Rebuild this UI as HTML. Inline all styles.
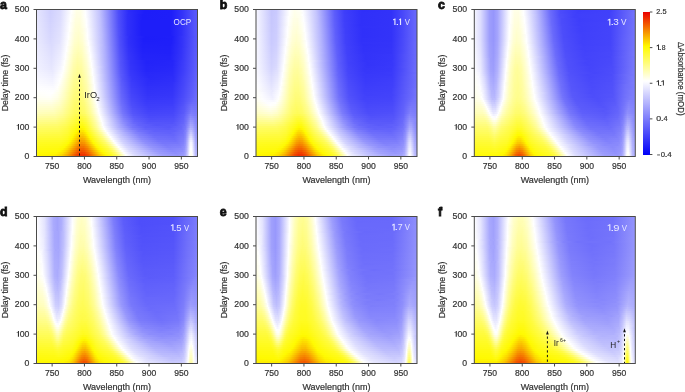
<!DOCTYPE html>
<html><head><meta charset="utf-8">
<style>
html,body{margin:0;padding:0;background:#fff;}
body{width:685px;height:392px;overflow:hidden;position:relative;font-family:"Liberation Sans",sans-serif;}
.hm{position:absolute;width:161px;height:147px;overflow:hidden;}
.hm i{display:block;height:2px;}
.cb{position:absolute;left:642.6px;top:12px;width:7.2px;height:142.5px;}
svg{position:absolute;left:0;top:0;will-change:transform;}
</style></head><body>
<div class="hm" style="left:36.5px;top:9.5px"><i style="background:linear-gradient(90deg,#e5e5fe 0px,#d0d0fe 13.5px,#dbdbfe 23.5px,#fff 34.5px,#ffffe6 39.5px,#ffffe7 43.5px,#fdfdff 48.5px,#c3c3fd 62.5px,#4e4efa 81.5px,#2c2cf9 91.5px,#1d1df9 107.5px,#1e1ef9 134.5px,#3434f9 145.5px,#5555fa 157.5px,#5959fa 161px)"></i><i style="background:linear-gradient(90deg,#e5e5fe 0px,#d0d0fe 13.5px,#dcdcfe 23.5px,#fffffd 34.5px,#fffee4 39.5px,#fffee5 43.5px,#fefeff 48.5px,#c4c4fd 62.5px,#4e4efa 81.5px,#2d2df9 91.5px,#1d1df9 107.5px,#1e1ef9 134.5px,#3434f9 145.5px,#5555fa 157.5px,#5959fa 161px)"></i><i style="background:linear-gradient(90deg,#e5e5fe 0px,#d1d1fe 13.5px,#dcdcfe 23.5px,#fdfdff 33.5px,#fffee2 39.5px,#fffee4 43.5px,#fff 48.5px,#c4c4fd 62.5px,#4f4ffa 81.5px,#2f2ff9 90.5px,#1d1df9 105.5px,#1e1ef9 134.5px,#3434f9 145.5px,#5555fa 157.5px,#5959fa 161px)"></i><i style="background:linear-gradient(90deg,#e6e6fe 0px,#d1d1fe 13.5px,#ddddfe 23.5px,#fefeff 33.5px,#fffee0 39.5px,#fffee2 43.5px,#fffffe 48.5px,#c5c5fd 62.5px,#4f4ffa 81.5px,#2f2ff9 90.5px,#1d1df9 105.5px,#1e1ef9 134.5px,#3434f9 145.5px,#5555fa 157.5px,#5959fa 161px)"></i><i style="background:linear-gradient(90deg,#e6e6fe 0px,#d2d2fe 13.5px,#ddddfe 23.5px,#fff 33.5px,#fffee0 38.5px,#fffedd 42.5px,#fffff5 47.5px,#fdfdff 49.5px,#c0c0fd 63.5px,#4f4ffa 81.5px,#2f2ff9 90.5px,#1d1df9 105.5px,#1e1ef9 134.5px,#3434f9 145.5px,#5555fa 157.5px,#5959fa 161px)"></i><i style="background:linear-gradient(90deg,#e6e6fe 0px,#d2d2fe 13.5px,#dedefe 23.5px,#fffffd 33.5px,#fffede 38.5px,#fffedb 42.5px,#fffff3 47.5px,#fefeff 49.5px,#c0c0fd 63.5px,#5050fa 81.5px,#3030f9 90.5px,#1e1ef9 104.5px,#1e1ef9 133.5px,#3030f9 144.5px,#5555fa 157.5px,#5959fa 161px)"></i><i style="background:linear-gradient(90deg,#e7e7fe 0px,#d3d3fe 13.5px,#dfdffe 23.5px,#fdfdff 32.5px,#fffedc 38.5px,#fffed9 42.5px,#fffff1 47.5px,#fefeff 49.5px,#c1c1fd 63.5px,#5050fa 81.5px,#3030f9 90.5px,#1e1ef9 104.5px,#1e1ef9 133.5px,#3030f9 144.5px,#5555fa 157.5px,#5959fa 161px)"></i><i style="background:linear-gradient(90deg,#e7e7fe 0px,#d4d4fe 13.5px,#dfdffe 23.5px,#fefeff 32.5px,#fffeda 38.5px,#fffed7 42.5px,#fffff0 47.5px,#fff 49.5px,#c1c1fd 63.5px,#5151fa 81.5px,#3030f9 90.5px,#1e1ef9 104.5px,#1e1ef9 133.5px,#3030f9 144.5px,#5555fa 157.5px,#5959fa 161px)"></i><i style="background:linear-gradient(90deg,#e7e7fe 0px,#d4d4fe 13.5px,#e0e0fe 23.5px,#fff 32.5px,#fffed8 38.5px,#fffed5 42.5px,#ffe 47.5px,#fffffd 49.5px,#c2c2fd 63.5px,#5151fa 81.5px,#3030f9 90.5px,#1e1ef9 104.5px,#1e1ef9 133.5px,#3030f9 144.5px,#5555fa 157.5px,#5959fa 161px)"></i><i style="background:linear-gradient(90deg,#e8e8fe 0px,#d5d5fe 13.5px,#e1e1fe 23.5px,#fffffe 32.5px,#fffedb 37.5px,#fffed2 41.5px,#fffedf 45.5px,#fdfdff 50.5px,#bdbdfd 64.5px,#5252fa 81.5px,#3030f9 90.5px,#1e1ef9 104.5px,#1e1ef9 133.5px,#3030f9 144.5px,#5555fa 157.5px,#5959fa 161px)"></i><i style="background:linear-gradient(90deg,#e8e8fe 0px,#d5d5fe 13.5px,#e1e1fe 23.5px,#fffffc 32.5px,#fffed9 37.5px,#fffed0 41.5px,#fffedd 45.5px,#fdfdff 50.5px,#bdbdfd 64.5px,#5252fa 81.5px,#3131f9 90.5px,#1e1ef9 104.5px,#1e1ef9 133.5px,#3030f9 144.5px,#5555fa 157.5px,#5959fa 161px)"></i><i style="background:linear-gradient(90deg,#e8e8fe 0px,#d6d6fe 13.5px,#e2e2fe 23.5px,#fdfdff 31.5px,#fffed2 38.5px,#fffecf 42.5px,#ffffe8 47.5px,#fefeff 50.5px,#bebefd 64.5px,#5353fa 81.5px,#3131f9 90.5px,#1e1ef9 104.5px,#1e1ef9 133.5px,#3030f9 144.5px,#5555fa 157.5px,#5959fa 161px)"></i><i style="background:linear-gradient(90deg,#e8e8fe 0px,#d7d7fe 13.5px,#e2e2fe 23.5px,#fefeff 31.5px,#fffed5 37.5px,#fffecc 41.5px,#fffed9 45.5px,#fff 50.5px,#b9b9fd 65.5px,#5353fa 81.5px,#3131f9 90.5px,#1e1ef9 104.5px,#1e1ef9 133.5px,#3030f9 144.5px,#5555fa 157.5px,#5959fa 161px)"></i><i style="background:linear-gradient(90deg,#e9e9fe 0px,#d7d7fe 13.5px,#e3e3fe 23.5px,#fff 31.5px,#fffed3 37.5px,#fffeca 41.5px,#fffed7 45.5px,#fffffe 50.5px,#bfbffd 64.5px,#4e4efa 82.5px,#2d2df9 92.5px,#1d1df9 108.5px,#1f1ff9 135.5px,#3737fa 146.5px,#5656fa 158.5px,#5959fa 161px)"></i><i style="background:linear-gradient(90deg,#e9e9fe 0px,#d8d8fe 13.5px,#e4e4fe 23.5px,#fffffd 31.5px,#fffed1 37.5px,#fffec8 41.5px,#fffed6 45.5px,#fffffc 50.5px,#bfbffd 64.5px,#4f4ffa 82.5px,#2f2ff9 91.5px,#1d1df9 106.5px,#1e1ef9 134.5px,#3434f9 145.5px,#5555fa 157.5px,#5959fa 161px)"></i><i style="background:linear-gradient(90deg,#eaeafe 0px,#d9d9fe 13.5px,#e2e2fe 22.5px,#fdfdff 30.5px,#fffece 37.5px,#fffec5 41.5px,#fffed3 45.5px,#fdfdff 51.5px,#babafd 65.5px,#5050fa 82.5px,#3030f9 91.5px,#1e1ef9 106.5px,#1f1ff9 134.5px,#3434f9 145.5px,#5555fa 157.5px,#5959fa 161px)"></i><i style="background:linear-gradient(90deg,#eaeafe 0px,#dadafe 13.5px,#e3e3fe 22.5px,#fefeff 30.5px,#fffecb 37.5px,#fffec2 41.5px,#fffecf 45.5px,#fff 51.5px,#b5b5fd 66.5px,#5151fa 82.5px,#3030f9 91.5px,#1f1ff9 106.5px,#1f1ff9 134.5px,#3434f9 145.5px,#5656fa 157.5px,#5959fa 161px)"></i><i style="background:linear-gradient(90deg,#ebebfe 0px,#dbdbfe 14.5px,#e7e7fe 23.5px,#fffffd 30.5px,#fffec8 37.5px,#fffebf 41.5px,#fffecc 45.5px,#fffffd 51.5px,#bcbcfd 65.5px,#5151fa 82.5px,#3131f9 91.5px,#2020f9 105.5px,#1f1ff9 133.5px,#3232f9 144.5px,#5656fa 157.5px,#5a5afa 161px)"></i><i style="background:linear-gradient(90deg,#ebebfe 0px,#dcdcfe 14.5px,#e8e8fe 23.5px,#fdfdff 29.5px,#fffec5 37.5px,#fffebc 41.5px,#fffec9 45.5px,#fdfdff 52.5px,#b1b1fd 67.5px,#5252fa 82.5px,#3232f9 91.5px,#2020f9 105.5px,#2020f9 133.5px,#3232f9 144.5px,#5656fa 157.5px,#5a5afa 161px)"></i><i style="background:linear-gradient(90deg,#ececfe 0px,#ddddfe 14.5px,#e9e9fe 23.5px,#fefeff 29.5px,#fffec2 37.5px,#fffeb9 41.5px,#fffec6 45.5px,#fefeff 52.5px,#b1b1fd 67.5px,#5353fa 82.5px,#3333f9 91.5px,#2121f9 105.5px,#2020f9 133.5px,#3333f9 144.5px,#5757fa 157.5px,#5b5bfa 161px)"></i><i style="background:linear-gradient(90deg,#ececfe 0px,#dedefe 14.5px,#ebebfe 23.5px,#fffffe 29.5px,#fffec4 36.5px,#fffeb6 40.5px,#fffebd 44.5px,#fffee1 49.5px,#fffffe 52.5px,#b2b2fd 67.5px,#5454fa 82.5px,#3333f9 91.5px,#2121f9 105.5px,#2121f9 133.5px,#3434f9 144.5px,#5757fa 157.5px,#5b5bfb 161px)"></i><i style="background:linear-gradient(90deg,#ededfe 0px,#dfdffe 14.5px,#ececfe 23.5px,#fdfdff 28.5px,#ffffe9 31.5px,#fffebc 37.5px,#fffdb2 41.5px,#fffebf 45.5px,#fffff1 51.5px,#fcfcff 53.5px,#adadfd 68.5px,#5555fa 82.5px,#3434f9 91.5px,#2222f9 105.5px,#2121f9 133.5px,#3434f9 144.5px,#5858fa 157.5px,#5b5bfb 161px)"></i><i style="background:linear-gradient(90deg,#ededff 0px,#e0e0fe 14.5px,#ededff 23.5px,#fefeff 28.5px,#fffebe 36.5px,#fffdb0 40.5px,#fffeb7 44.5px,#fffedb 49.5px,#fefeff 53.5px,#aeaefd 68.5px,#5656fa 82.5px,#3535f9 91.5px,#2323f9 105.5px,#2222f9 133.5px,#3535f9 144.5px,#5858fa 157.5px,#5c5cfb 161px)"></i><i style="background:linear-gradient(90deg,#eef 0px,#e1e1fe 14.5px,#eef 23.5px,#fffffe 28.5px,#fffebb 36.5px,#fffdad 40.5px,#fffeb4 44.5px,#fffed8 49.5px,#fff 53.5px,#aeaefd 68.5px,#5757fa 82.5px,#3636f9 91.5px,#2323f9 105.5px,#2323f9 133.5px,#3535f9 144.5px,#5959fa 157.5px,#5c5cfb 161px)"></i><i style="background:linear-gradient(90deg,#eef 0px,#e2e2fe 14.5px,#efefff 23.5px,#fffffb 28.5px,#fffeb8 36.5px,#fffda9 40.5px,#fffdb1 44.5px,#fffed4 49.5px,#fffffc 53.5px,#afaffd 68.5px,#5858fa 82.5px,#3636f9 91.5px,#2424f9 105.5px,#2323f9 133.5px,#3636f9 144.5px,#5959fa 157.5px,#5d5dfb 161px)"></i><i style="background:linear-gradient(90deg,#efefff 0px,#e3e3fe 14.5px,#f1f1ff 23.5px,#fefeff 27.5px,#fffeb5 36.5px,#fffda6 40.5px,#fffdad 44.5px,#fffed1 49.5px,#fffff9 53.5px,#f8f8ff 55.5px,#a3a3fc 70.5px,#5454fa 83.5px,#3333f9 93.5px,#2323f9 109.5px,#2525f9 135.5px,#3c3cfa 146.5px,#5b5bfa 158.5px,#5d5dfb 161px)"></i><i style="background:linear-gradient(90deg,#efefff 0px,#e4e4fe 14.5px,#f2f2ff 23.5px,#fffffd 27.5px,#fffdb2 36.5px,#fffda3 40.5px,#fffdaa 44.5px,#fffece 49.5px,#fefeff 54.5px,#a4a4fd 70.5px,#5454fa 83.5px,#3333f9 93.5px,#2323f9 109.5px,#2626f9 135.5px,#3d3dfa 146.5px,#5b5bfb 158.5px,#5e5efb 161px)"></i><i style="background:linear-gradient(90deg,#f0f0ff 0px,#e5e5fe 14.5px,#f3f3ff 23.5px,#fffffa 27.5px,#fffdaf 36.5px,#fffda0 40.5px,#fffda7 44.5px,#fffecb 49.5px,#fffffe 54.5px,#ababfd 69.5px,#5555fa 83.5px,#3434f9 93.5px,#2424f9 109.5px,#2626f9 135.5px,#3d3dfa 146.5px,#5c5cfb 158.5px,#5e5efb 161px)"></i><i style="background:linear-gradient(90deg,#f0f0ff 0px,#e6e6fe 14.5px,#f5f5ff 23.5px,#fff 26.5px,#fffdac 36.5px,#fffd9d 40.5px,#fffda4 44.5px,#fffec7 49.5px,#fffffb 54.5px,#d6d6fe 62.5px,#5656fa 83.5px,#3535f9 93.5px,#2525f9 109.5px,#2727f9 135.5px,#3e3efa 146.5px,#5c5cfb 158.5px,#5e5efb 161px)"></i><i style="background:linear-gradient(90deg,#f1f1ff 0px,#e7e7fe 14.5px,#f6f6ff 23.5px,#fffffd 26.5px,#fffda9 36.5px,#fffd9a 40.5px,#fffda1 44.5px,#fffec4 49.5px,#fdfdff 55.5px,#a0a0fc 71.5px,#5757fa 83.5px,#3535f9 93.5px,#2525f9 109.5px,#2828f9 135.5px,#3e3efa 146.5px,#5d5dfb 158.5px,#5f5ffb 161px)"></i><i style="background:linear-gradient(90deg,#f2f2ff 0px,#e9e9fe 15.5px,#fbfbff 24.5px,#fffff9 26.5px,#fffda6 36.5px,#fffd97 40.5px,#fffd9e 44.5px,#fffec1 49.5px,#fefeff 55.5px,#a2a2fc 71.5px,#5959fa 83.5px,#3737fa 93.5px,#2626f9 109.5px,#2929f9 135.5px,#3f3ffa 146.5px,#5d5dfb 158.5px,#6060fb 161px)"></i><i style="background:linear-gradient(90deg,#f4f4ff 0px,#ebebfe 15.5px,#fffffc 25.5px,#fffda3 36.5px,#fffd94 40.5px,#fffd9b 44.5px,#fffebe 49.5px,#fffffe 55.5px,#a3a3fc 71.5px,#5a5afa 83.5px,#3838fa 93.5px,#2828f9 109.5px,#2a2af9 135.5px,#4040fa 146.5px,#5e5efb 158.5px,#6161fb 161px)"></i><i style="background:linear-gradient(90deg,#f5f5ff 0px,#ededff 15.5px,#fff 24.5px,#fffda0 36.5px,#fffd91 40.5px,#fffd98 44.5px,#fffebb 49.5px,#fffffb 55.5px,#e6e6fe 60.5px,#5c5cfb 83.5px,#3939fa 93.5px,#2929f9 109.5px,#2b2bf9 135.5px,#4141fa 146.5px,#5f5ffb 158.5px,#6161fb 161px)"></i><i style="background:linear-gradient(90deg,#f6f6ff 0px,#efefff 15.5px,#fffffc 24.5px,#fffd9d 36.5px,#fffd8e 40.5px,#fffd95 44.5px,#fffeb8 49.5px,#fdfdff 56.5px,#9999fc 73.5px,#5858fa 84.5px,#3939fa 94.5px,#2929f9 111.5px,#2d2df9 136.5px,#4545fa 147.5px,#6161fb 159.5px,#6262fb 161px)"></i><i style="background:linear-gradient(90deg,#f8f8ff 0px,#f1f1ff 15.5px,#fffffe 23.5px,#fffd99 36.5px,#fffd8c 40.5px,#fffd92 44.5px,#fffeb5 49.5px,#fefeff 56.5px,#9494fc 74.5px,#5555fa 85.5px,#3838fa 95.5px,#2a2af9 113.5px,#2e2ef9 136.5px,#4646fa 147.5px,#6262fb 159.5px,#6363fb 161px)"></i><i style="background:linear-gradient(90deg,#f9f9ff 0px,#f3f3ff 15.5px,#fff 22.5px,#fffecc 29.5px,#fffd96 36.5px,#fffd89 40.5px,#fffd8f 44.5px,#fffdb2 49.5px,#fffffd 56.5px,#9c9cfc 73.5px,#5b5bfb 84.5px,#3b3bfa 94.5px,#2c2cf9 111.5px,#2f2ff9 136.5px,#4747fa 147.5px,#6363fb 159.5px,#6464fb 161px)"></i><i style="background:linear-gradient(90deg,#fafaff 0px,#f5f5ff 15.5px,#fffffc 22.5px,#fffec0 30.5px,#fffd93 36.5px,#fffd86 40.5px,#fffd8d 44.5px,#fffdaf 49.5px,#fffffb 56.5px,#ebebfe 60.5px,#5d5dfb 84.5px,#3d3dfa 94.5px,#2d2df9 110.5px,#3030f9 135.5px,#4545fa 146.5px,#6363fb 158.5px,#6565fb 161px)"></i><i style="background:linear-gradient(90deg,#fcfcff 0px,#f7f7ff 15.5px,#fffffd 21.5px,#fffecd 28.5px,#fffd90 36.5px,#fffd83 40.5px,#fffd8a 44.5px,#fffdac 49.5px,#fdfdff 57.5px,#5e5efb 84.5px,#3e3efa 94.5px,#2e2ef9 110.5px,#3131f9 135.5px,#4646fa 146.5px,#6363fb 158.5px,#6666fb 161px)"></i><i style="background:linear-gradient(90deg,#fdfdff 0px,#fafaff 16.5px,#fffffd 20.5px,#fffed1 27.5px,#fffd8d 36.5px,#fffd80 40.5px,#fffd87 44.5px,#fffda9 49.5px,#fefeff 57.5px,#6060fb 84.5px,#3f3ffa 94.5px,#3030f9 110.5px,#3232f9 135.5px,#4747fa 146.5px,#6464fb 158.5px,#6666fb 161px)"></i><i style="background:linear-gradient(90deg,#fefeff 0px,#fcfcff 16.5px,#fffff9 20.5px,#fffecd 27.5px,#fffd8a 36.5px,#fffc7d 40.5px,#fffd84 44.5px,#fffda6 49.5px,#fffffd 57.5px,#6161fb 84.5px,#4141fa 94.5px,#3131f9 110.5px,#3333f9 135.5px,#4848fa 146.5px,#6565fb 158.5px,#6767fb 161px)"></i><i style="background:linear-gradient(90deg,#fffffe 0px,#fefeff 16.5px,#fffff0 21.5px,#fffeb9 29.5px,#fffd86 36.5px,#fffc7a 40.5px,#fffd81 44.5px,#fffda3 49.5px,#fffffa 57.5px,#f0f0ff 60.5px,#6363fb 84.5px,#4242fa 94.5px,#3232f9 110.5px,#3434f9 135.5px,#4949fa 146.5px,#6666fb 158.5px,#6868fb 161px)"></i><i style="background:linear-gradient(90deg,#fffffb 0px,#fff 15.5px,#ffffe6 22.5px,#fffd9e 32.5px,#fffc7b 38.5px,#fffc78 42.5px,#fffd90 47.5px,#fffed4 54.5px,#fdfdff 58.5px,#6464fb 84.5px,#4343fa 94.5px,#3333f9 110.5px,#3535f9 135.5px,#4a4afa 146.5px,#6767fb 158.5px,#6969fb 161px)"></i><i style="background:linear-gradient(90deg,#fffff8 0px,#fffffd 13.5px,#ffffec 20.5px,#fffec1 27.5px,#fffd80 36.5px,#fffc74 41.5px,#fffd80 45.5px,#fffda7 50.5px,#fefeff 58.5px,#6666fb 84.5px,#4545fa 94.5px,#3434f9 110.5px,#3636f9 135.5px,#4b4bfa 146.5px,#6868fb 158.5px,#6a6afb 161px)"></i><i style="background:linear-gradient(90deg,#fffff5 0px,#fffff9 13.5px,#ffffe8 20.5px,#fffebd 27.5px,#fffc7d 36.5px,#fffc71 41.5px,#fffc7d 45.5px,#fffda4 50.5px,#fffffd 58.5px,#6767fb 84.5px,#4646fa 94.5px,#3636f9 110.5px,#3737fa 135.5px,#4c4cfa 146.5px,#6969fb 158.5px,#6b6bfb 161px)"></i><i style="background:linear-gradient(90deg,#fffff0 0px,#fffff3 13.5px,#fffee2 20.5px,#fffeb9 27.5px,#fffc7a 36.5px,#fffc6e 41.5px,#fffc7a 45.5px,#fffda0 50.5px,#fffff9 58.5px,#f6f6ff 60.5px,#6969fb 84.5px,#4848fa 94.5px,#3737fa 110.5px,#3939fa 135.5px,#4e4efa 146.5px,#6969fb 157.5px,#6c6cfb 161px)"></i><i style="background:linear-gradient(90deg,#ffffe9 0px,#ffffea 14.5px,#fffed6 21.5px,#fffda5 29.5px,#fffc76 36.5px,#fffc6a 41.5px,#fffc7c 46.5px,#fffdaf 52.5px,#fff 59.5px,#6c6cfb 84.5px,#4a4afa 94.5px,#3939fa 109.5px,#3b3bfa 135.5px,#4f4ffa 146.5px,#6a6afb 156.5px,#6d6dfb 161px)"></i><i style="background:linear-gradient(90deg,#fffee2 0px,#fffee2 14.5px,#fffecb 22.5px,#fffc6e 37.5px,#fffc68 42.5px,#fffc7e 47.5px,#fffeb4 53.5px,#fffffa 59.5px,#eaeafe 63.5px,#6e6efb 84.5px,#4c4cfa 94.5px,#3b3bfa 109.5px,#3c3cfa 135.5px,#5151fa 146.5px,#6c6cfb 155.5px,#6f6ffb 161px)"></i><i style="background:linear-gradient(90deg,#fffeda 0px,#fffed9 14.5px,#fffec4 22.5px,#fffc6b 37.5px,#fffc65 42.5px,#fffc7a 47.5px,#fffdaf 53.5px,#fefeff 60.5px,#7171fb 84.5px,#4e4efa 94.5px,#3d3dfa 109.5px,#3e3efa 135.5px,#5353fa 146.5px,#6f6ffb 154.5px,#7070fb 161px)"></i><i style="background:linear-gradient(90deg,#fffed3 0px,#fffed0 15.5px,#fffeb8 23.5px,#fffc67 37.5px,#fffc61 42.5px,#fffc75 47.5px,#fffda9 53.5px,#fffffc 60.5px,#6f6ffb 85.5px,#4e4efa 95.5px,#3e3efa 111.5px,#4141fa 136.5px,#5858fa 147.5px,#7373fb 154.5px,#7272fb 161px)"></i><i style="background:linear-gradient(90deg,#fffecc 0px,#fffec8 15.5px,#fffdb2 23.5px,#fffc64 37.5px,#fffc5d 42.5px,#fffc71 47.5px,#fffda4 53.5px,#fdfdff 61.5px,#7171fb 85.5px,#5151fa 95.5px,#4040fa 111.5px,#4343fa 136.5px,#5959fa 147.5px,#7676fb 154.5px,#7373fb 161px)"></i><i style="background:linear-gradient(90deg,#fffec4 0px,#fffebe 16.5px,#fffda6 24.5px,#fffc60 37.5px,#fffc5a 42.5px,#fffc6d 47.5px,#fffd9f 53.5px,#fffffe 61.5px,#7474fb 85.5px,#5353fa 95.5px,#4242fa 111.5px,#4545fa 136.5px,#5b5bfa 147.5px,#7a7afb 154.5px,#7575fb 161px)"></i><i style="background:linear-gradient(90deg,#fffebd 0px,#fffeb4 17.5px,#fffd9b 25.5px,#fffc5d 37.5px,#fffc56 42.5px,#fffc68 47.5px,#fffd99 53.5px,#fffff8 61.5px,#fcfcff 62.5px,#7777fb 85.5px,#5555fa 95.5px,#4545fa 110.5px,#4646fa 135.5px,#5959fa 146.5px,#7e7efb 154.5px,#7676fb 161px)"></i><i style="background:linear-gradient(90deg,#fffdb1 0px,#fffdaa 17.5px,#fffd92 25.5px,#fffc51 38.5px,#fffb4c 43.5px,#fffc63 48.5px,#fffda4 55.5px,#fffffc 62.5px,#7878fb 86.5px,#5757fa 96.5px,#4747fa 112.5px,#4949fa 136.5px,#6060fb 147.5px,#8383fc 153.5px,#7d7dfb 157.5px,#7878fb 161px)"></i><i style="background:linear-gradient(90deg,#fffda5 0px,#fffd9d 18.5px,#fffd85 26.5px,#fffb45 39.5px,#fffb42 44.5px,#fffc56 48.5px,#fffd9a 55.5px,#fefeff 63.5px,#7d7dfb 86.5px,#5c5cfb 96.5px,#4a4afa 111.5px,#4c4cfa 136.5px,#5f5ffb 146.5px,#7575fb 150.5px,#8a8afc 153.5px,#8585fc 156.5px,#7b7bfb 161px)"></i><i style="background:linear-gradient(90deg,#fffd99 0px,#fffd92 18.5px,#fffc77 27.5px,#fffb38 40.5px,#fffb35 44.5px,#fffb4a 48.5px,#fffd9c 56.5px,#fffff8 63.5px,#fcfcff 64.5px,#8383fc 86.5px,#5e5efb 97.5px,#4d4dfa 113.5px,#4f4ffa 136.5px,#6161fb 146.5px,#7979fb 150.5px,#9090fc 153.5px,#8b8bfc 156.5px,#7d7dfb 161px)"></i><i style="background:linear-gradient(90deg,#fffd8d 0px,#fffd87 18.5px,#fffc6e 27.5px,#fffb2b 41.5px,#fffb2c 45.5px,#fffb47 49.5px,#fffdaa 58.5px,#fffffd 64.5px,#8888fc 86.5px,#6262fb 97.5px,#5050fa 112.5px,#5151fa 136.5px,#6464fb 146.5px,#7474fb 149.5px,#9797fc 153.5px,#9595fc 155.5px,#8181fc 159.5px,#7f7ffb 161px)"></i><i style="background:linear-gradient(90deg,#fffd81 0px,#fffc7b 19.5px,#fffc61 28.5px,#fffb1e 42.5px,#fffb1f 45.5px,#fffb3b 49.5px,#fffda0 58.5px,#fdfdff 65.5px,#9292fc 85.5px,#6969fb 96.5px,#5555fa 110.5px,#5353fa 135.5px,#6666fb 146.5px,#7878fb 149.5px,#9e9efc 153.5px,#9b9bfc 155.5px,#8383fc 159.5px,#8181fc 161px)"></i><i style="background:linear-gradient(90deg,#fffc75 0px,#fffc6e 20.5px,#fffc54 29.5px,#fffa13 42.5px,#fffa13 45.5px,#fffb30 49.5px,#fffda3 59.5px,#fffffb 65.5px,#e8e8fe 69.5px,#8181fc 90.5px,#6363fb 101.5px,#5454fa 119.5px,#5959fa 138.5px,#6d6dfb 147.5px,#8686fc 150.5px,#a5a5fd 153.5px,#a1a1fc 155.5px,#8686fc 159.5px,#8484fc 161px)"></i><i style="background:linear-gradient(90deg,#fffc6a 0px,#fffc63 20.5px,#fffb4b 29.5px,#fffa05 43.5px,#fffa0b 46.5px,#fffb2f 50.5px,#fffd99 59.5px,#fefeff 66.5px,#ababfd 82.5px,#7575fb 95.5px,#5d5dfb 108.5px,#5757fa 132.5px,#6666fb 144.5px,#7676fb 148.5px,#ababfd 153.5px,#a7a7fd 155.5px,#8888fc 159.5px,#8686fc 161px)"></i><i style="background:linear-gradient(90deg,#fffc60 0px,#fffc59 21.5px,#fffb40 30.5px,#fffa14 38.5px,#fffa00 41.5px,#fef100 44.5px,#fffa03 47.5px,#fffd89 59.5px,#fff 67.5px,#bcbcfd 80.5px,#7d7dfb 95.5px,#6262fb 108.5px,#5a5afa 131.5px,#6868fb 144.5px,#7979fb 148.5px,#acacfd 152.5px,#b4b4fd 153.5px,#afaffd 155.5px,#8b8bfc 159.5px,#8888fc 161px)"></i><i style="background:linear-gradient(90deg,#fffc57 0px,#fffc51 21.5px,#fffb3a 30.5px,#fffa11 37.5px,#fffa01 39.5px,#fde400 43.5px,#fee800 46.5px,#fff800 48.5px,#fffd91 61.5px,#fffff8 68.5px,#f5f5ff 70.5px,#a0a0fc 88.5px,#7474fb 101.5px,#6060fb 117.5px,#6060fb 137.5px,#7171fb 146.5px,#8888fc 149.5px,#b5b5fd 152.5px,#bdbdfd 153.5px,#bebefd 154.5px,#8e8efc 159.5px,#8b8bfc 161px)"></i><i style="background:linear-gradient(90deg,#fffc4e 0px,#fffb48 22.5px,#fffb34 30.5px,#fffa0f 36.5px,#fff800 38.5px,#fcda00 42.5px,#fcd600 45.5px,#fee900 48.5px,#fffa05 50.5px,#fffc5e 58.5px,#fffda4 64.5px,#fefeff 70.5px,#cacafe 80.5px,#8484fc 98.5px,#6868fb 112.5px,#6161fb 133.5px,#7070fb 145.5px,#8080fc 148.5px,#adadfd 151.5px,#c7c7fd 153.5px,#c8c8fd 154.5px,#b3b3fd 156.5px,#9191fc 159.5px,#8d8dfc 161px)"></i><i style="background:linear-gradient(90deg,#fffb45 0px,#fffb3f 23.5px,#fffb28 31.5px,#fffa05 36.5px,#fde300 39.5px,#fbc900 43.5px,#fbcc00 46.5px,#fef000 50.5px,#fffa02 51.5px,#fffc4f 58.5px,#fffd8e 64.5px,#fffff9 71.5px,#f5f5ff 73.5px,#b8b8fd 86.5px,#8181fc 102.5px,#6969fb 117.5px,#6565fb 136.5px,#7676fb 146.5px,#8484fc 148.5px,#a2a2fc 150.5px,#c6c6fd 152.5px,#d1d1fe 153.5px,#d1d1fe 154.5px,#b9b9fd 156.5px,#9d9dfc 158.5px,#9090fc 161px)"></i><i style="background:linear-gradient(90deg,#fffb3c 0px,#fffb37 23.5px,#fffb24 30.5px,#fffa03 35.5px,#fabf00 42.5px,#faba00 45.5px,#fbcc00 48.5px,#fff900 52.5px,#fffb49 59.5px,#fffd85 65.5px,#fff 73.5px,#cfcffe 82.5px,#8888fc 102.5px,#6e6efb 117.5px,#6969fb 136.5px,#7979fb 146.5px,#8787fc 148.5px,#a7a7fd 150.5px,#cfcffe 152.5px,#dadafe 153.5px,#dbdbfe 154.5px,#c0c0fd 156.5px,#a1a1fc 158.5px,#9292fc 161px)"></i><i style="background:linear-gradient(90deg,#fffb33 0px,#fffb2d 24.5px,#fffb1c 30.5px,#fffa00 34.5px,#fab800 41.5px,#f9ab00 44.5px,#f9b500 47.5px,#fddd00 51.5px,#fff600 53.5px,#fffb4b 61.5px,#fffc7c 66.5px,#fffec6 71.5px,#fffff8 74.5px,#fbfbff 75.5px,#cecefe 84.5px,#8a8afc 104.5px,#7070fb 120.5px,#6c6cfb 137.5px,#7c7cfb 146.5px,#8b8bfc 148.5px,#adadfd 150.5px,#d8d8fe 152.5px,#e4e4fe 153.5px,#e4e4fe 154.5px,#c7c7fd 156.5px,#a5a5fd 158.5px,#9595fc 161px)"></i><i style="background:linear-gradient(90deg,#fffb2a 0px,#fffb25 24.5px,#fffa12 30.5px,#fff700 33.5px,#f9aa00 41.5px,#f89d00 44.5px,#f8a600 47.5px,#fbce00 51.5px,#fffa04 55.5px,#fffb3b 61.5px,#fffc71 67.5px,#fffebc 72.5px,#fff 76.5px,#d4d4fe 84.5px,#8f8ffc 105.5px,#7474fb 121.5px,#7070fb 138.5px,#7f7ffb 146.5px,#8f8ffc 148.5px,#b3b3fd 150.5px,#e1e1fe 152.5px,#ededff 153.5px,#eef 154.5px,#e1e1fe 155.5px,#a9a9fd 158.5px,#9797fc 161px)"></i><i style="background:linear-gradient(90deg,#fffb22 0px,#fffb1e 23.5px,#fffa0d 29.5px,#fffa01 31.5px,#fbcd00 36.5px,#f79c00 41.5px,#f68f00 44.5px,#f79700 47.5px,#fabd00 51.5px,#fff900 56.5px,#fffc67 68.5px,#fffd9f 72.5px,#fffff5 77.5px,#fcfcff 78.5px,#d3d3fe 86.5px,#8f8ffc 108.5px,#7676fb 125.5px,#7676fb 140.5px,#8282fc 146.5px,#9292fc 148.5px,#b8b8fd 150.5px,#e7e7fe 152.5px,#f5f5ff 153.5px,#f5f5ff 154.5px,#e8e8fe 155.5px,#acacfd 158.5px,#9a9afc 161px)"></i><i style="background:linear-gradient(90deg,#fffb1d 0px,#fffa17 23.5px,#fffa02 29.5px,#fddc00 33.5px,#f68b00 41.5px,#f57f00 44.5px,#f68600 47.5px,#f9ab00 51.5px,#fffa02 58.5px,#fffc5b 69.5px,#fffd91 73.5px,#fffff8 79.5px,#fbfbff 80.5px,#d4d4fe 88.5px,#9191fc 111.5px,#7a7afb 128.5px,#7d7dfb 142.5px,#8686fc 146.5px,#9696fc 148.5px,#bbbbfd 150.5px,#eaeafe 152.5px,#f7f7ff 153.5px,#f7f7ff 154.5px,#ebebfe 155.5px,#afaffd 158.5px,#9c9cfc 161px)"></i><i style="background:linear-gradient(90deg,#fffa17 0px,#fffa12 21.5px,#fffa01 27.5px,#fcd700 32.5px,#f58300 40.5px,#f47100 43.5px,#f47100 46.5px,#f68e00 50.5px,#fff400 59.5px,#fffa0b 61.5px,#fffc50 70.5px,#fffd83 74.5px,#fffffb 81.5px,#d8d8fe 89.5px,#9595fc 113.5px,#7e7efb 130.5px,#8282fc 143.5px,#8f8ffc 147.5px,#a9a9fd 149.5px,#ededff 152.5px,#fafaff 153.5px,#fafaff 154.5px,#ededff 155.5px,#b2b2fd 158.5px,#9f9ffc 161px)"></i><i style="background:linear-gradient(90deg,#fffa11 0px,#fffa0c 20.5px,#fff900 25.5px,#fcda00 30.5px,#f47200 40.5px,#f36100 43.5px,#f36100 46.5px,#f57c00 50.5px,#feec00 60.5px,#fffa03 62.5px,#fffb44 71.5px,#fffc75 75.5px,#fffffe 83.5px,#d9d9fe 91.5px,#9797fc 116.5px,#8383fc 133.5px,#8a8afc 145.5px,#9393fc 147.5px,#adadfd 149.5px,#f0f0ff 152.5px,#fdfdff 153.5px,#fdfdff 154.5px,#f0f0ff 155.5px,#b5b5fd 158.5px,#a2a2fc 161px)"></i><i style="background:linear-gradient(90deg,#fffa0b 0px,#fffa05 19.5px,#fff600 23.5px,#fddb00 28.5px,#f8a100 34.5px,#f36200 40.5px,#f14f00 44.5px,#f25500 47.5px,#f47400 51.5px,#fde300 61.5px,#fffa01 64.5px,#fffb43 73.5px,#fffc76 77.5px,#fffff2 84.5px,#fefeff 85.5px,#ddddfe 92.5px,#9b9bfc 118.5px,#8888fc 135.5px,#8e8efc 145.5px,#9797fc 147.5px,#b0b0fd 149.5px,#f3f3ff 152.5px,#fffffd 153.5px,#fffffe 154.5px,#f3f3ff 155.5px,#b8b8fd 158.5px,#a5a5fd 161px)"></i><i style="background:linear-gradient(90deg,#fffa05 0px,#fff700 19.5px,#fde100 25.5px,#faba00 30.5px,#f25200 40.5px,#f03f00 44.5px,#f04400 47.5px,#f36200 51.5px,#fddb00 62.5px,#fff900 66.5px,#fffb37 74.5px,#fffc68 78.5px,#fffff5 86.5px,#fdfdff 87.5px,#dadafe 95.5px,#9b9bfc 122.5px,#8d8dfc 138.5px,#9696fc 146.5px,#a5a5fd 148.5px,#c9c9fe 150.5px,#f6f6ff 152.5px,#fffff7 153.5px,#fffff7 154.5px,#f6f6ff 155.5px,#bbbbfd 158.5px,#a8a8fd 161px)"></i><i style="background:linear-gradient(90deg,#fff900 0px,#fef100 17.5px,#fcd900 24.5px,#f9a900 30.5px,#f14900 39.5px,#ef3100 43.5px,#ef3400 47.5px,#f15000 51.5px,#fbc900 62.5px,#fff700 68.5px,#fffb24 74.5px,#fffb4c 78.5px,#fffd8d 82.5px,#fffff8 88.5px,#fcfcff 89.5px,#dbdbfe 97.5px,#9e9efc 125.5px,#9393fc 140.5px,#9a9afc 146.5px,#a9a9fd 148.5px,#ccccfe 150.5px,#f9f9ff 152.5px,#fffff0 153.5px,#fffff1 154.5px,#f9f9ff 155.5px,#bebefd 158.5px,#ababfd 161px)"></i><i style="background:linear-gradient(90deg,#fef300 0px,#feea00 16.5px,#fcd100 23.5px,#f8a200 29.5px,#f03900 39.5px,#e20 43.5px,#ee2300 47.5px,#f03d00 51.5px,#fac000 63.5px,#fef400 70.5px,#fffa06 72.5px,#fffb34 78.5px,#fffc6c 82.5px,#ffffec 89.5px,#fffffb 90.5px,#ececfe 94.5px,#bebefd 112.5px,#9b9bfc 133.5px,#9c9cfc 145.5px,#adadfd 148.5px,#d0d0fe 150.5px,#fdfdff 152.5px,#ffffe9 153.5px,#ffffea 154.5px,#fcfcff 155.5px,#c1c1fd 158.5px,#aeaefd 161px)"></i></div>
<div class="hm" style="left:256.0px;top:9.5px"><i style="background:linear-gradient(90deg,#f7f7ff 0px,#c6c6fd 15.5px,#cacafe 20.5px,#fff 33.5px,#ffffec 38.5px,#fffff4 43.5px,#fdfdff 46.5px,#c8c8fd 59.5px,#5c5cfb 78.5px,#3e3efa 88.5px,#2f2ff9 106.5px,#3232f9 135.5px,#4848fa 146.5px,#6565fb 158.5px,#6767fb 161px)"></i><i style="background:linear-gradient(90deg,#f7f7ff 0px,#c6c6fd 15.5px,#cacafe 20.5px,#fffffe 33.5px,#ffffea 38.5px,#fffff1 43.5px,#fbfbff 47.5px,#c3c3fd 60.5px,#5d5dfb 78.5px,#3e3efa 88.5px,#3030f9 105.5px,#3232f9 135.5px,#4848fa 146.5px,#6565fb 158.5px,#6767fb 161px)"></i><i style="background:linear-gradient(90deg,#f7f7ff 0px,#c6c6fd 15.5px,#cbcbfe 20.5px,#fffffd 33.5px,#ffffe8 38.5px,#ffffef 43.5px,#fff 46.5px,#c4c4fd 60.5px,#5d5dfb 78.5px,#3f3ffa 88.5px,#3030f9 105.5px,#3232f9 135.5px,#4848fa 146.5px,#6565fb 158.5px,#6767fb 161px)"></i><i style="background:linear-gradient(90deg,#f7f7ff 0px,#c7c7fd 15.5px,#cbcbfe 20.5px,#fefeff 32.5px,#ffffe6 38.5px,#ffffed 43.5px,#fdfdff 47.5px,#c0c0fd 61.5px,#5e5efb 78.5px,#3f3ffa 88.5px,#3030f9 105.5px,#3232f9 135.5px,#4848fa 146.5px,#6565fb 158.5px,#6767fb 161px)"></i><i style="background:linear-gradient(90deg,#f7f7ff 0px,#c7c7fd 15.5px,#cbcbfe 20.5px,#fefeff 32.5px,#ffffe6 37.5px,#fffee4 41.5px,#fefeff 47.5px,#c0c0fd 61.5px,#5e5efb 78.5px,#3f3ffa 88.5px,#3030f9 105.5px,#3232f9 135.5px,#4848fa 146.5px,#6565fb 158.5px,#6767fb 161px)"></i><i style="background:linear-gradient(90deg,#f7f7ff 0px,#c7c7fd 15.5px,#ccccfe 20.5px,#fff 32.5px,#fffee4 37.5px,#fffee2 41.5px,#fefeff 47.5px,#c1c1fd 61.5px,#5f5ffb 78.5px,#3f3ffa 88.5px,#3030f9 105.5px,#3333f9 135.5px,#4848fa 146.5px,#6565fb 158.5px,#6767fb 161px)"></i><i style="background:linear-gradient(90deg,#f7f7ff 0px,#c7c7fd 15.5px,#ccccfe 20.5px,#fffffd 32.5px,#fffee2 37.5px,#fffee0 41.5px,#fffff7 46.5px,#fcfcff 48.5px,#bcbcfd 62.5px,#6060fb 78.5px,#4040fa 88.5px,#3030f9 105.5px,#3333f9 135.5px,#4848fa 146.5px,#6565fb 158.5px,#6767fb 161px)"></i><i style="background:linear-gradient(90deg,#f7f7ff 0px,#c8c8fd 15.5px,#ccccfe 20.5px,#fffffc 32.5px,#fffee0 37.5px,#fffede 41.5px,#fffff5 46.5px,#fdfdff 48.5px,#bdbdfd 62.5px,#6060fb 78.5px,#4040fa 88.5px,#3030f9 104.5px,#3333f9 135.5px,#4848fa 146.5px,#6565fb 158.5px,#6767fb 161px)"></i><i style="background:linear-gradient(90deg,#f7f7ff 0px,#c8c8fd 15.5px,#ccccfe 20.5px,#fdfdff 31.5px,#fffede 37.5px,#fffedb 41.5px,#fffff3 46.5px,#fefeff 48.5px,#b8b8fd 63.5px,#6161fb 78.5px,#4040fa 88.5px,#3131f9 104.5px,#3333f9 135.5px,#4848fa 146.5px,#6565fb 158.5px,#6767fb 161px)"></i><i style="background:linear-gradient(90deg,#f7f7ff 0px,#c8c8fd 15.5px,#cdcdfe 20.5px,#fefeff 31.5px,#fffedc 37.5px,#fffed9 41.5px,#fffff1 46.5px,#fff 48.5px,#b9b9fd 63.5px,#5d5dfb 79.5px,#3f3ffa 89.5px,#3030f9 106.5px,#3333f9 135.5px,#4848fa 146.5px,#6565fb 158.5px,#6767fb 161px)"></i><i style="background:linear-gradient(90deg,#f7f7ff 0px,#c8c8fd 15.5px,#cdcdfe 20.5px,#fff 31.5px,#fffedd 36.5px,#fffed6 40.5px,#ffffe8 45.5px,#fffffe 48.5px,#babafd 63.5px,#5e5efb 79.5px,#3f3ffa 89.5px,#3030f9 106.5px,#3333f9 135.5px,#4848fa 146.5px,#6565fb 158.5px,#6767fb 161px)"></i><i style="background:linear-gradient(90deg,#f7f7ff 0px,#c9c9fe 15.5px,#cdcdfe 20.5px,#fffffe 31.5px,#fffedb 36.5px,#fffed4 40.5px,#ffffe6 45.5px,#fdfdff 49.5px,#b5b5fd 64.5px,#5e5efb 79.5px,#3f3ffa 89.5px,#3030f9 106.5px,#3333f9 135.5px,#4848fa 146.5px,#6565fb 158.5px,#6767fb 161px)"></i><i style="background:linear-gradient(90deg,#f7f7ff 0px,#c9c9fe 15.5px,#cecefe 20.5px,#fffffd 31.5px,#fffed9 36.5px,#fffed1 40.5px,#fffede 44.5px,#fefeff 49.5px,#b6b6fd 64.5px,#5f5ffb 79.5px,#4040fa 89.5px,#3030f9 106.5px,#3333f9 135.5px,#4848fa 146.5px,#6565fb 158.5px,#6767fb 161px)"></i><i style="background:linear-gradient(90deg,#f8f8ff 0px,#c9c9fe 15.5px,#cecefe 20.5px,#fffffb 31.5px,#fffed7 36.5px,#fffecf 40.5px,#fffedb 44.5px,#fefeff 49.5px,#b6b6fd 64.5px,#6060fb 79.5px,#4040fa 89.5px,#3030f9 106.5px,#3333f9 135.5px,#4848fa 146.5px,#6565fb 158.5px,#6767fb 161px)"></i><i style="background:linear-gradient(90deg,#f8f8ff 0px,#c9c9fe 15.5px,#cecefe 20.5px,#fdfdff 30.5px,#fffed5 36.5px,#fffecd 40.5px,#fffed9 44.5px,#fffffe 49.5px,#b7b7fd 64.5px,#6060fb 79.5px,#4040fa 89.5px,#3131f9 105.5px,#3333f9 135.5px,#4949fa 146.5px,#6565fb 158.5px,#6767fb 161px)"></i><i style="background:linear-gradient(90deg,#f8f8ff 0px,#cacafe 15.5px,#cfcffe 20.5px,#fefeff 30.5px,#fffed3 36.5px,#fffeca 40.5px,#fffed6 44.5px,#fcfcff 50.5px,#b2b2fd 65.5px,#6161fb 79.5px,#4141fa 89.5px,#3131f9 105.5px,#3333f9 135.5px,#4949fa 146.5px,#6565fb 158.5px,#6868fb 161px)"></i><i style="background:linear-gradient(90deg,#f8f8ff 0px,#cacafe 15.5px,#d0d0fe 20.5px,#fff 30.5px,#fffed5 35.5px,#fffec7 39.5px,#fffece 43.5px,#fefeff 50.5px,#b3b3fd 65.5px,#6262fb 79.5px,#4141fa 89.5px,#3232f9 105.5px,#3434f9 135.5px,#4949fa 146.5px,#6666fb 158.5px,#6868fb 161px)"></i><i style="background:linear-gradient(90deg,#f8f8ff 0px,#cbcbfe 15.5px,#d0d0fe 20.5px,#fffffc 30.5px,#fffed2 35.5px,#fffec4 39.5px,#fffecb 43.5px,#ffffed 48.5px,#fff 50.5px,#aeaefd 66.5px,#5e5efb 80.5px,#4040fa 90.5px,#3131f9 107.5px,#3434f9 135.5px,#4949fa 146.5px,#6666fb 158.5px,#6868fb 161px)"></i><i style="background:linear-gradient(90deg,#f8f8ff 0px,#ccccfe 15.5px,#d1d1fe 20.5px,#fdfdff 29.5px,#fffec9 36.5px,#fffec0 40.5px,#fffecd 44.5px,#fffffc 50.5px,#b5b5fd 65.5px,#5f5ffb 80.5px,#4141fa 90.5px,#3232f9 107.5px,#3434f9 135.5px,#4a4afa 146.5px,#6666fb 158.5px,#6868fb 161px)"></i><i style="background:linear-gradient(90deg,#f8f8ff 0px,#ccccfe 15.5px,#d2d2fe 20.5px,#fefeff 29.5px,#fffecc 35.5px,#fffebd 39.5px,#fffec4 43.5px,#ffffe6 48.5px,#fdfdff 51.5px,#aaaafd 67.5px,#6060fb 80.5px,#4141fa 90.5px,#3232f9 107.5px,#3535f9 135.5px,#4a4afa 146.5px,#6666fb 158.5px,#6969fb 161px)"></i><i style="background:linear-gradient(90deg,#f8f8ff 0px,#cdcdfe 15.5px,#d3d3fe 20.5px,#fff 29.5px,#fffed0 34.5px,#fffebc 38.5px,#fffebd 42.5px,#fffedb 47.5px,#fff 51.5px,#ababfd 67.5px,#6161fb 80.5px,#4242fa 90.5px,#3232f9 107.5px,#3535f9 135.5px,#4a4afa 146.5px,#6767fb 158.5px,#6969fb 161px)"></i><i style="background:linear-gradient(90deg,#f8f8ff 0px,#cecefe 15.5px,#d4d4fe 20.5px,#fffffd 29.5px,#fffecd 34.5px,#fffeb9 38.5px,#fffeba 42.5px,#fffed8 47.5px,#fffffd 51.5px,#b2b2fd 66.5px,#6262fb 80.5px,#4242fa 90.5px,#3333f9 107.5px,#3535f9 135.5px,#4b4bfa 146.5px,#6767fb 158.5px,#6969fb 161px)"></i><i style="background:linear-gradient(90deg,#f8f8ff 0px,#cfcffe 15.5px,#d5d5fe 20.5px,#fcfcff 28.5px,#ffffef 30.5px,#fffec3 35.5px,#fffeb4 39.5px,#fffebb 43.5px,#fffedd 48.5px,#fdfdff 52.5px,#a1a1fc 69.5px,#5e5efb 81.5px,#4141fa 91.5px,#3333f9 109.5px,#3737fa 136.5px,#5151fa 148.5px,#6868fb 159.5px,#6969fb 161px)"></i><i style="background:linear-gradient(90deg,#f8f8ff 0px,#cfcffe 15.5px,#d6d6fe 20.5px,#fdfdff 28.5px,#fffec0 35.5px,#fffdb1 39.5px,#fffeb7 43.5px,#fffeda 48.5px,#fefeff 52.5px,#a2a2fc 69.5px,#5f5ffb 81.5px,#4242fa 91.5px,#3333f9 109.5px,#3737fa 136.5px,#5151fa 148.5px,#6969fb 159.5px,#6a6afb 161px)"></i><i style="background:linear-gradient(90deg,#f8f8ff 0px,#d0d0fe 15.5px,#d7d7fe 20.5px,#fefeff 28.5px,#fffec4 34.5px,#fffdaf 38.5px,#fffdb1 42.5px,#fffece 47.5px,#fffffe 52.5px,#a3a3fc 69.5px,#6060fb 81.5px,#4242fa 91.5px,#3333f9 109.5px,#3737fa 136.5px,#5151fa 148.5px,#6969fb 159.5px,#6a6afb 161px)"></i><i style="background:linear-gradient(90deg,#f8f8ff 0px,#d1d1fe 15.5px,#d7d7fe 20.5px,#fffffd 28.5px,#fffec0 34.5px,#fffdac 38.5px,#fffdad 42.5px,#fffecb 47.5px,#fffffb 52.5px,#e3e3fe 58.5px,#6161fb 81.5px,#4343fa 91.5px,#3434f9 108.5px,#3737fa 135.5px,#4c4cfa 146.5px,#6868fb 158.5px,#6a6afb 161px)"></i><i style="background:linear-gradient(90deg,#f8f8ff 0px,#d1d1fe 15.5px,#d8d8fe 20.5px,#fbfbff 27.5px,#fffffb 28.5px,#fffebd 34.5px,#fffda9 38.5px,#fffdaa 42.5px,#fffec8 47.5px,#fdfdff 53.5px,#9999fc 71.5px,#5d5dfb 82.5px,#4141fa 92.5px,#3434f9 111.5px,#3838fa 136.5px,#5252fa 148.5px,#6969fb 159.5px,#6a6afb 161px)"></i><i style="background:linear-gradient(90deg,#f9f9ff 0px,#d2d2fe 15.5px,#d9d9fe 20.5px,#fdfdff 27.5px,#fffeba 34.5px,#fffda6 38.5px,#fffda7 42.5px,#fffec4 47.5px,#fff 53.5px,#9a9afc 71.5px,#5e5efb 82.5px,#4242fa 92.5px,#3434f9 111.5px,#3838fa 136.5px,#5252fa 148.5px,#6a6afb 159.5px,#6b6bfb 161px)"></i><i style="background:linear-gradient(90deg,#f9f9ff 0px,#d3d3fe 15.5px,#dadafe 20.5px,#fefeff 27.5px,#fffeb7 34.5px,#fffda3 38.5px,#fffda4 42.5px,#fffec1 47.5px,#fffffd 53.5px,#a1a1fc 70.5px,#5f5ffb 82.5px,#4343fa 92.5px,#3535f9 110.5px,#3939fa 136.5px,#5353fa 148.5px,#6a6afb 159.5px,#6b6bfb 161px)"></i><i style="background:linear-gradient(90deg,#f9f9ff 0px,#d4d4fe 15.5px,#dcdcfe 20.5px,#fff 27.5px,#fffebc 33.5px,#fffda3 37.5px,#fffd9e 41.5px,#fffdaf 45.5px,#fffee4 51.5px,#fffffa 53.5px,#f7f7ff 55.5px,#6464fb 81.5px,#4545fa 91.5px,#3636f9 108.5px,#3838fa 135.5px,#4d4dfa 146.5px,#6969fb 158.5px,#6b6bfb 161px)"></i><i style="background:linear-gradient(90deg,#fafaff 0px,#d6d6fe 15.5px,#e1e1fe 21.5px,#fffffb 27.5px,#fffeba 33.5px,#fffda0 37.5px,#fffd9b 41.5px,#fffdac 45.5px,#fffee1 51.5px,#fefeff 54.5px,#6666fb 81.5px,#4646fa 91.5px,#3737f9 108.5px,#3939fa 135.5px,#4e4efa 146.5px,#6a6afb 158.5px,#6c6cfb 161px)"></i><i style="background:linear-gradient(90deg,#fafaff 0px,#d8d8fe 15.5px,#e3e3fe 21.5px,#fdfdff 26.5px,#fffee0 29.5px,#fffdaf 34.5px,#fffd9a 38.5px,#fffd9b 42.5px,#fffeb8 47.5px,#fffffe 54.5px,#6363fb 82.5px,#4545fa 92.5px,#3737fa 110.5px,#3b3bfa 136.5px,#5454fa 148.5px,#6c6cfb 161px)"></i><i style="background:linear-gradient(90deg,#fbfbff 0px,#dadafe 15.5px,#e5e5fe 21.5px,#fefeff 26.5px,#fffeb4 33.5px,#fffd9b 37.5px,#fffd96 41.5px,#fffda6 45.5px,#fffeda 51.5px,#fffffb 54.5px,#e6e6fe 59.5px,#6868fb 81.5px,#4848fa 91.5px,#3939fa 107.5px,#3a3afa 135.5px,#5252fa 147.5px,#6c6cfb 159.5px,#6d6dfb 161px)"></i><i style="background:linear-gradient(90deg,#fcfcff 0px,#dcdcfe 15.5px,#e7e7fe 21.5px,#fffffe 26.5px,#fffdb2 33.5px,#fffd98 37.5px,#fffd93 41.5px,#fffda3 45.5px,#fffed7 51.5px,#fdfdff 55.5px,#6565fb 82.5px,#4747fa 92.5px,#3939fa 109.5px,#3c3cfa 136.5px,#5656fa 148.5px,#6e6efb 161px)"></i><i style="background:linear-gradient(90deg,#fdfdff 0px,#ddddfe 15.5px,#e9e9fe 21.5px,#fcfcff 25.5px,#ffe 27.5px,#fffdaf 33.5px,#fffd96 37.5px,#fffd90 41.5px,#fffda0 45.5px,#fffed4 51.5px,#fff 55.5px,#6767fb 82.5px,#4848fa 92.5px,#3a3afa 109.5px,#3d3dfa 136.5px,#5656fa 148.5px,#6e6efb 161px)"></i><i style="background:linear-gradient(90deg,#fdfdff 0px,#dfdffe 15.5px,#ebebfe 21.5px,#fdfdff 25.5px,#fffdac 33.5px,#fffd90 38.5px,#fffd90 42.5px,#fffdab 47.5px,#fffffc 55.5px,#6868fb 82.5px,#4a4afa 92.5px,#3a3afa 109.5px,#3e3efa 136.5px,#5757fa 148.5px,#6f6ffb 161px)"></i><i style="background:linear-gradient(90deg,#fefeff 0px,#e1e1fe 15.5px,#ededfe 21.5px,#fff 25.5px,#fffdaa 33.5px,#fffd8d 38.5px,#fffd8d 42.5px,#fffda8 47.5px,#fffff9 55.5px,#f7f7ff 57.5px,#6a6afb 82.5px,#4b4bfa 92.5px,#3b3bfa 109.5px,#3f3ffa 136.5px,#5858fa 148.5px,#6f6ffb 161px)"></i><i style="background:linear-gradient(90deg,#fff 0px,#e3e3fe 15.5px,#efefff 21.5px,#fffffb 25.5px,#fffda7 33.5px,#fffd8b 38.5px,#fffd8a 42.5px,#fffda5 47.5px,#fefeff 56.5px,#6b6bfb 82.5px,#4c4cfa 92.5px,#3c3cfa 109.5px,#3f3ffa 136.5px,#5858fa 148.5px,#7070fb 161px)"></i><i style="background:linear-gradient(90deg,#fffffe 0px,#e5e5fe 15.5px,#f0f0ff 21.5px,#fdfdff 24.5px,#fffd9d 34.5px,#fffd88 38.5px,#fffd87 42.5px,#fffda1 47.5px,#ffffe7 54.5px,#fffffe 56.5px,#6c6cfb 82.5px,#4d4dfa 92.5px,#3d3dfa 109.5px,#4040fa 136.5px,#5959fa 148.5px,#7070fb 161px)"></i><i style="background:linear-gradient(90deg,#fffffc 0px,#e7e7fe 15.5px,#f2f2ff 21.5px,#fff 24.5px,#fffda2 33.5px,#fffd85 38.5px,#fffd84 42.5px,#fffd9e 47.5px,#fffee4 54.5px,#fffffa 56.5px,#ebebfe 60.5px,#6e6efb 82.5px,#4e4efa 92.5px,#3e3efa 108.5px,#4040fa 135.5px,#5757fa 147.5px,#7070fb 159.5px,#7171fb 161px)"></i><i style="background:linear-gradient(90deg,#fffffa 0px,#f3f3ff 8.5px,#e9e9fe 16.5px,#fcfcff 23.5px,#fffff1 25.5px,#fffd9f 33.5px,#fffd83 38.5px,#fffd81 42.5px,#fffd9b 47.5px,#fffee0 54.5px,#fdfdff 57.5px,#6f6ffb 82.5px,#4f4ffa 92.5px,#3f3ffa 108.5px,#4141fa 135.5px,#5858fa 147.5px,#7171fb 159.5px,#7272fb 161px)"></i><i style="background:linear-gradient(90deg,#fffff9 0px,#f9f9ff 6.5px,#ebebfe 15.5px,#fafaff 22.5px,#fefeff 23.5px,#fffd95 34.5px,#fffc7e 39.5px,#fffd81 43.5px,#fffda0 48.5px,#fff 57.5px,#7070fb 82.5px,#5050fa 92.5px,#4040fa 108.5px,#4242fa 135.5px,#5858fa 147.5px,#7171fb 159.5px,#7272fb 161px)"></i><i style="background:linear-gradient(90deg,#fffff7 0px,#fcfcff 5.5px,#ededff 15.5px,#fcfcff 22.5px,#fffffd 23.5px,#fffd9a 33.5px,#fffc7e 38.5px,#fffc7c 42.5px,#fffd95 47.5px,#fffed9 54.5px,#fffffc 57.5px,#6d6dfb 83.5px,#4f4ffa 93.5px,#4040fa 110.5px,#4343fa 136.5px,#5c5cfb 148.5px,#7373fb 161px)"></i><i style="background:linear-gradient(90deg,#fffff6 0px,#fbfbff 6.5px,#efefff 16.5px,#fefeff 22.5px,#fffed1 27.5px,#fffd90 34.5px,#fffc79 39.5px,#fffc7c 43.5px,#fffd9a 48.5px,#ffffed 56.5px,#fcfcff 58.5px,#7373fb 82.5px,#5252fa 92.5px,#4242fa 108.5px,#4343fa 135.5px,#5a5afa 147.5px,#7272fb 159.5px,#7373fb 161px)"></i><i style="background:linear-gradient(90deg,#fffff2 0px,#fdfdff 6.5px,#f2f2ff 16.5px,#fffffc 22.5px,#fffd8d 34.5px,#fffc76 39.5px,#fffc78 43.5px,#fffd95 48.5px,#ffffe8 56.5px,#fff 58.5px,#7676fb 82.5px,#5454fa 92.5px,#4343fa 107.5px,#4444fa 135.5px,#5b5bfa 147.5px,#7272fb 158.5px,#7474fb 161px)"></i><i style="background:linear-gradient(90deg,#ffffec 0px,#fdfdff 8.5px,#f8f8ff 17.5px,#fffffb 21.5px,#fffd88 34.5px,#fffc72 39.5px,#fffc74 43.5px,#fffd90 48.5px,#fffed5 55.5px,#fffff8 58.5px,#f7f7ff 60.5px,#7474fb 83.5px,#5454fa 93.5px,#4444fa 109.5px,#4646fa 136.5px,#5f5ffb 148.5px,#7272fb 156.5px,#7575fb 161px)"></i><i style="background:linear-gradient(90deg,#fffee5 0px,#fdfdff 11.5px,#fffffe 19.5px,#fffed3 25.5px,#fffd84 34.5px,#fffc6e 39.5px,#fffc70 43.5px,#fffd8b 48.5px,#fffecf 55.5px,#fffffd 59.5px,#7373fb 84.5px,#5454fa 94.5px,#4545fa 111.5px,#4848fa 136.5px,#6060fb 148.5px,#7474fb 155.5px,#7676fb 161px)"></i><i style="background:linear-gradient(90deg,#fffedf 0px,#fffffe 14.5px,#fffff5 19.5px,#fffecc 25.5px,#fffd80 34.5px,#fffc6a 39.5px,#fffc6f 44.5px,#fffd8d 49.5px,#fffede 57.5px,#fefeff 60.5px,#7777fb 84.5px,#5757fa 94.5px,#4747fa 110.5px,#4949fa 136.5px,#5f5ffb 147.5px,#7676fb 155.5px,#7878fb 161px)"></i><i style="background:linear-gradient(90deg,#fffed8 0px,#fffff5 14.5px,#ffffeb 19.5px,#fffec5 25.5px,#fffc76 35.5px,#fffc65 40.5px,#fffc6e 45.5px,#fffd99 51.5px,#fffffa 60.5px,#f0f0ff 63.5px,#7a7afb 84.5px,#5959fa 94.5px,#4848fa 110.5px,#4b4bfa 136.5px,#6060fb 147.5px,#7878fb 154.5px,#7979fb 161px)"></i><i style="background:linear-gradient(90deg,#fffed2 0px,#ffffeb 14.5px,#fffee2 19.5px,#fffebe 25.5px,#fffc72 35.5px,#fffc61 40.5px,#fffc6a 45.5px,#fffd93 51.5px,#ffffe7 59.5px,#fff 61.5px,#7979fb 85.5px,#5959fa 95.5px,#4a4afa 111.5px,#4c4cfa 136.5px,#6161fb 147.5px,#7b7bfb 154.5px,#7a7afb 161px)"></i><i style="background:linear-gradient(90deg,#fffecb 0px,#fffee2 14.5px,#fffed5 20.5px,#fffda0 28.5px,#fffc69 36.5px,#fffc5d 41.5px,#fffc6a 46.5px,#fffd96 52.5px,#ffffeb 60.5px,#fdfdff 62.5px,#7c7cfb 85.5px,#5c5cfb 95.5px,#4b4bfa 111.5px,#4d4dfa 136.5px,#6363fb 147.5px,#7e7efb 154.5px,#7b7bfb 161px)"></i><i style="background:linear-gradient(90deg,#fffec4 0px,#fffed7 15.5px,#fffec7 21.5px,#fffc65 36.5px,#fffc59 41.5px,#fffc65 46.5px,#fffd8f 52.5px,#fffee3 60.5px,#fffffc 62.5px,#7b7bfb 86.5px,#5c5cfb 96.5px,#4c4cfa 112.5px,#4f4ffa 136.5px,#6464fb 147.5px,#8181fc 154.5px,#7c7cfb 161px)"></i><i style="background:linear-gradient(90deg,#fffeb7 0px,#fffec8 15.5px,#fffeb9 21.5px,#fffc7b 31.5px,#fffc54 38.5px,#fffc4e 43.5px,#fffc64 48.5px,#fffdab 56.5px,#fffffd 63.5px,#8181fc 86.5px,#5e5efb 97.5px,#4e4efa 114.5px,#5252fa 137.5px,#6666fb 147.5px,#8585fc 153.5px,#7e7efb 161px)"></i><i style="background:linear-gradient(90deg,#fffdab 0px,#fffeb8 15.5px,#fffda7 22.5px,#fffb4a 38.5px,#fffb40 42.5px,#fffb4b 46.5px,#fffd83 53.5px,#fffed8 61.5px,#fff 64.5px,#8383fc 87.5px,#6060fb 98.5px,#5151fa 115.5px,#5454fa 137.5px,#6868fb 147.5px,#8b8bfc 153.5px,#8585fc 157.5px,#8080fc 161px)"></i><i style="background:linear-gradient(90deg,#fffd9e 0px,#fffda8 16.5px,#fffd95 23.5px,#fffb37 40.5px,#fffb36 44.5px,#fffc54 49.5px,#fffeb4 59.5px,#fefeff 65.5px,#8888fc 87.5px,#6565fb 98.5px,#5454fa 114.5px,#5656fa 137.5px,#6b6bfb 147.5px,#9090fc 153.5px,#8c8cfc 156.5px,#8282fc 161px)"></i><i style="background:linear-gradient(90deg,#fffd91 0px,#fffd98 16.5px,#fffd84 24.5px,#fffb29 41.5px,#fffb29 44.5px,#fffb40 48.5px,#fffda8 59.5px,#fdfdff 66.5px,#9393fc 86.5px,#6b6bfb 97.5px,#5858fa 111.5px,#5757fa 135.5px,#6969fb 146.5px,#8080fc 150.5px,#9696fc 153.5px,#9191fc 156.5px,#8484fc 161px)"></i><i style="background:linear-gradient(90deg,#fffd84 0px,#fffd87 17.5px,#fffc73 25.5px,#fffb32 37.5px,#fffb1b 42.5px,#fffb20 45.5px,#fffc50 51.5px,#fffda7 60.5px,#fffff7 66.5px,#fcfcff 67.5px,#9494fc 87.5px,#6d6dfb 98.5px,#5a5afa 113.5px,#5a5afa 136.5px,#6b6bfb 146.5px,#8484fc 150.5px,#9c9cfc 153.5px,#9a9afc 155.5px,#8787fc 159.5px,#8585fc 161px)"></i><i style="background:linear-gradient(90deg,#fffc77 0px,#fffc77 18.5px,#fffc5f 27.5px,#fffb28 37.5px,#fffa0e 42.5px,#fffa13 45.5px,#fffb45 51.5px,#fffd9b 60.5px,#fffffa 67.5px,#eef 70.5px,#8888fc 91.5px,#6767fb 103.5px,#5a5afa 122.5px,#6161fb 140.5px,#7171fb 147.5px,#8888fc 150.5px,#a1a1fc 153.5px,#9f9ffc 155.5px,#8989fc 159.5px,#8787fc 161px)"></i><i style="background:linear-gradient(90deg,#fffc6a 0px,#fffc65 20.5px,#fffb4b 29.5px,#fffb1e 37.5px,#fffa02 42.5px,#fffa06 45.5px,#fffb30 50.5px,#fffd8f 60.5px,#ffe 67.5px,#fffffd 68.5px,#a3a3fc 86.5px,#7676fb 98.5px,#6161fb 112.5px,#5e5efb 135.5px,#7070fb 146.5px,#8181fc 149.5px,#a7a7fd 153.5px,#a4a4fd 155.5px,#8b8bfc 159.5px,#8989fc 161px)"></i><i style="background:linear-gradient(90deg,#fffc60 0px,#fffc59 21.5px,#fffb40 30.5px,#fffa15 37.5px,#fff800 40.5px,#feee00 43.5px,#fff900 46.5px,#fffd8a 61.5px,#fffedb 67.5px,#fffff9 69.5px,#f5f5ff 71.5px,#9a9afc 90.5px,#7474fb 102.5px,#6161fb 118.5px,#6464fb 138.5px,#7777fb 147.5px,#9090fc 150.5px,#aeaefd 153.5px,#aaaafd 155.5px,#8e8efc 159.5px,#8c8cfc 161px)"></i><i style="background:linear-gradient(90deg,#fffc57 0px,#fffc51 21.5px,#fffb3e 29.5px,#fffb1b 35.5px,#fffa01 38.5px,#fde100 42.5px,#fde500 45.5px,#fffa02 48.5px,#fffb48 55.5px,#fffd83 62.5px,#fffec3 67.5px,#fff 71.5px,#c6c6fd 82.5px,#8383fc 99.5px,#6a6afb 113.5px,#6464fb 134.5px,#7373fb 145.5px,#8080fc 148.5px,#b5b5fd 153.5px,#b1b1fd 155.5px,#9191fc 159.5px,#8f8ffc 161px)"></i><i style="background:linear-gradient(90deg,#fffc4e 0px,#fffb48 22.5px,#fffb33 30.5px,#fffa11 35.5px,#fff900 37.5px,#fcd800 41.5px,#fcd300 44.5px,#fde500 47.5px,#fff900 49.5px,#fffb44 56.5px,#fffd85 64.5px,#fffec8 69.5px,#fffff6 72.5px,#fcfcff 73.5px,#c9c9fe 83.5px,#8686fc 101.5px,#6e6efb 115.5px,#6969fb 135.5px,#7979fb 146.5px,#8e8efc 149.5px,#b5b5fd 152.5px,#bdbdfd 153.5px,#b8b8fd 155.5px,#9494fc 159.5px,#9191fc 161px)"></i><i style="background:linear-gradient(90deg,#fffb45 0px,#fffb3f 23.5px,#fffb2b 30.5px,#fff600 36.5px,#fbcb00 41.5px,#fbc500 44.5px,#fcd600 47.5px,#fff600 50.5px,#fffb40 57.5px,#fffc7c 65.5px,#fffebd 70.5px,#fffffc 74.5px,#ccccfe 84.5px,#8c8cfc 102.5px,#7272fb 117.5px,#6d6dfb 136.5px,#7c7cfb 146.5px,#9292fc 149.5px,#bcbcfd 152.5px,#c4c4fd 153.5px,#c5c5fd 154.5px,#9898fc 159.5px,#9494fc 161px)"></i><i style="background:linear-gradient(90deg,#fffb3c 0px,#fffb37 23.5px,#fffb27 29.5px,#fffa04 34.5px,#fcd600 38.5px,#fab900 42.5px,#faba00 45.5px,#fddc00 49.5px,#fffa05 52.5px,#fffb34 57.5px,#fffc73 66.5px,#fffda3 70.5px,#fefeff 76.5px,#cfcffe 85.5px,#8e8efc 104.5px,#7474fb 120.5px,#7272fb 138.5px,#8080fc 146.5px,#9696fc 149.5px,#c3c3fd 152.5px,#cbcbfe 153.5px,#ccccfe 154.5px,#9b9bfc 159.5px,#9797fc 161px)"></i><i style="background:linear-gradient(90deg,#fffb33 0px,#fffb2f 23.5px,#fffb1e 29.5px,#fffa02 33.5px,#fab600 40.5px,#f9a900 43.5px,#f9b200 46.5px,#fde500 51.5px,#fffa02 53.5px,#fffb2f 58.5px,#fffc68 67.5px,#fffd97 71.5px,#fffff8 77.5px,#fbfbff 78.5px,#d2d2fe 86.5px,#9191fc 106.5px,#7878fb 122.5px,#7777fb 139.5px,#8383fc 146.5px,#9a9afc 149.5px,#cacafe 152.5px,#d3d3fe 153.5px,#d3d3fe 154.5px,#bebefd 156.5px,#9e9efc 159.5px,#9a9afc 161px)"></i><i style="background:linear-gradient(90deg,#fffb2a 0px,#fffb26 23.5px,#fffa13 29.5px,#fff800 32.5px,#f8a800 40.5px,#f79b00 43.5px,#f8a400 46.5px,#fbcb00 50.5px,#fff900 54.5px,#fffb2e 60.5px,#fffc5e 68.5px,#fffd8b 72.5px,#fffffe 79.5px,#d5d5fe 87.5px,#9696fc 107.5px,#7c7cfb 124.5px,#7c7cfb 140.5px,#8b8bfc 147.5px,#9f9ffc 149.5px,#d0d0fe 152.5px,#dadafe 153.5px,#dbdbfe 154.5px,#c4c4fd 156.5px,#a9a9fd 158.5px,#9d9dfc 161px)"></i><i style="background:linear-gradient(90deg,#fffb22 0px,#fffb1d 23.5px,#fffa08 29.5px,#fff400 31.5px,#f79a00 40.5px,#f68d00 43.5px,#f79500 46.5px,#fabb00 50.5px,#fff400 55.5px,#fffa0c 57.5px,#fffb36 64.5px,#fffc5c 70.5px,#fffd8d 74.5px,#fffff3 80.5px,#fdfdff 81.5px,#d4d4fe 89.5px,#9797fc 110.5px,#7f7ffb 127.5px,#8181fc 141.5px,#8f8ffc 147.5px,#a3a3fc 149.5px,#d7d7fe 152.5px,#e1e1fe 153.5px,#e1e1fe 154.5px,#c9c9fe 156.5px,#adadfd 158.5px,#a0a0fc 161px)"></i><i style="background:linear-gradient(90deg,#fffb1c 0px,#fffa17 22.5px,#fffa02 28.5px,#fddc00 32.5px,#f68a00 40.5px,#f57d00 43.5px,#f68500 46.5px,#f9a900 50.5px,#fff700 57.5px,#fffb2e 65.5px,#fffc52 71.5px,#fffd81 75.5px,#fffff7 82.5px,#fcfcff 83.5px,#d5d5fe 91.5px,#9999fc 113.5px,#8383fc 130.5px,#8888fc 143.5px,#9393fc 147.5px,#a7a7fd 149.5px,#dbdbfe 152.5px,#e5e5fe 153.5px,#e5e5fe 154.5px,#cdcdfe 156.5px,#b0b0fd 158.5px,#a2a2fc 161px)"></i><i style="background:linear-gradient(90deg,#fffa17 0px,#fffa11 21.5px,#fffa01 26.5px,#fcd600 31.5px,#f58100 39.5px,#f46f00 42.5px,#f47000 45.5px,#f68d00 49.5px,#fef000 58.5px,#fffa06 60.5px,#fffb49 72.5px,#fffc74 76.5px,#fffffa 84.5px,#e9e9fe 88.5px,#b9b9fd 103.5px,#9191fc 122.5px,#8888fc 138.5px,#9292fc 146.5px,#9f9ffc 148.5px,#bbbbfd 150.5px,#dfdffe 152.5px,#e9e9fe 153.5px,#e9e9fe 154.5px,#d1d1fe 156.5px,#b3b3fd 158.5px,#a5a5fd 161px)"></i><i style="background:linear-gradient(90deg,#fffa11 0px,#fffa0c 19.5px,#fff800 24.5px,#fcd900 29.5px,#f47000 39.5px,#f35f00 42.5px,#f36000 45.5px,#f57b00 49.5px,#fde000 58.5px,#fff800 61.5px,#fffb3f 73.5px,#fffc68 77.5px,#fffebb 82.5px,#fffffe 86.5px,#dadafe 94.5px,#9f9ffc 118.5px,#8d8dfc 135.5px,#9393fc 145.5px,#a3a3fc 148.5px,#bfbffd 150.5px,#e4e4fe 152.5px,#eef 153.5px,#eef 154.5px,#d5d5fe 156.5px,#b6b6fd 158.5px,#a8a8fd 161px)"></i><i style="background:linear-gradient(90deg,#fffa0b 0px,#fffa05 18.5px,#fff500 22.5px,#fcda00 27.5px,#f89f00 33.5px,#f36000 39.5px,#f15000 42.5px,#f15000 45.5px,#f36a00 49.5px,#fcd800 59.5px,#fff700 63.5px,#fffb35 74.5px,#fffc5c 78.5px,#fffd9b 82.5px,#fffff3 87.5px,#fefeff 88.5px,#dedefe 95.5px,#a3a3fc 120.5px,#9292fc 137.5px,#9a9afc 146.5px,#a7a7fd 148.5px,#c4c4fd 150.5px,#e8e8fe 152.5px,#f2f2ff 153.5px,#f2f2ff 154.5px,#d8d8fe 156.5px,#babafd 158.5px,#ababfd 161px)"></i><i style="background:linear-gradient(90deg,#fffa05 0px,#fff600 18.5px,#fddf00 24.5px,#fab800 29.5px,#f25800 38.5px,#f04000 42.5px,#f04000 45.5px,#f25900 49.5px,#fcd000 60.5px,#fffa00 66.5px,#fffb2c 75.5px,#fffc50 79.5px,#fffd8d 83.5px,#fffff7 89.5px,#fcfcff 90.5px,#dbdbfe 98.5px,#a3a3fc 124.5px,#9797fc 139.5px,#9f9ffc 146.5px,#ababfd 148.5px,#c8c8fd 150.5px,#ededfe 152.5px,#f7f7ff 153.5px,#f7f7ff 154.5px,#dcdcfe 156.5px,#bdbdfd 158.5px,#afaffd 161px)"></i><i style="background:linear-gradient(90deg,#fff900 0px,#fef100 16.5px,#fddd00 22.5px,#f9b000 28.5px,#f14700 38.5px,#ef3000 42.5px,#ef3400 46.5px,#f15100 50.5px,#fbc800 61.5px,#fef100 67.5px,#fffa05 70.5px,#fffb29 77.5px,#fffc51 81.5px,#fffd92 85.5px,#ffffec 90.5px,#fffffa 91.5px,#ececfe 95.5px,#c1c1fd 112.5px,#9f9ffc 133.5px,#a1a1fc 145.5px,#afaffd 148.5px,#ccccfe 150.5px,#f1f1ff 152.5px,#fcfcff 153.5px,#fbfbff 154.5px,#e1e1fe 156.5px,#c1c1fd 158.5px,#b2b2fd 161px)"></i><i style="background:linear-gradient(90deg,#fef300 0px,#feea00 15.5px,#fccf00 22.5px,#f89f00 28.5px,#ef3600 38.5px,#ee2000 42.5px,#ee2400 46.5px,#f03f00 50.5px,#fac000 62.5px,#fee900 68.5px,#fffa01 72.5px,#fffb27 79.5px,#fffc52 83.5px,#fffdaa 88.5px,#fffff0 92.5px,#fffffe 93.5px,#dfdffe 101.5px,#aaaafd 129.5px,#a3a3fc 143.5px,#acacfd 147.5px,#c0c0fd 149.5px,#f6f6ff 152.5px,#fffffc 153.5px,#fffffd 154.5px,#f6f6ff 155.5px,#c4c4fd 158.5px,#b5b5fd 161px)"></i></div>
<div class="hm" style="left:474.3px;top:9.5px"><i style="background:linear-gradient(90deg,#f6f6ff 0px,#ddddfe 6.5px,#9e9efc 15.5px,#9696fc 19.5px,#a5a5fd 23.5px,#f5f5ff 34.5px,#fefeff 36.5px,#ffffe7 40.5px,#ffffe6 44.5px,#fefeff 49.5px,#c2c2fd 61.5px,#6a6afb 76.5px,#4b4bfa 86.5px,#3d3dfa 104.5px,#4141fa 136.5px,#5a5afa 148.5px,#7171fb 161px)"></i><i style="background:linear-gradient(90deg,#f6f6ff 0px,#ddddfe 6.5px,#9e9efc 15.5px,#9696fc 19.5px,#a5a5fd 23.5px,#f5f5ff 34.5px,#fff 36.5px,#fffee5 40.5px,#fffee4 44.5px,#fff 49.5px,#bdbdfd 62.5px,#6b6bfb 76.5px,#4b4bfa 86.5px,#3e3efa 103.5px,#4141fa 135.5px,#5757fa 147.5px,#7171fb 159.5px,#7272fb 161px)"></i><i style="background:linear-gradient(90deg,#f6f6ff 0px,#ddddfe 6.5px,#9e9efc 15.5px,#9696fc 19.5px,#a5a5fd 23.5px,#f5f5ff 34.5px,#fffffe 36.5px,#fffee3 40.5px,#fffee2 44.5px,#fffffe 49.5px,#c5c5fd 61.5px,#6c6cfb 76.5px,#4e4efa 85.5px,#3f3ffa 101.5px,#4141fa 135.5px,#5858fa 147.5px,#7171fb 159.5px,#7272fb 161px)"></i><i style="background:linear-gradient(90deg,#f6f6ff 0px,#ddddfe 6.5px,#9e9efc 15.5px,#9696fc 19.5px,#a5a5fd 23.5px,#f6f6ff 34.5px,#fffffd 36.5px,#fffee2 40.5px,#fffee0 44.5px,#fdfdff 50.5px,#babafd 63.5px,#6d6dfb 76.5px,#4f4ffa 85.5px,#3f3ffa 100.5px,#4141fa 135.5px,#5858fa 147.5px,#7171fb 159.5px,#7272fb 161px)"></i><i style="background:linear-gradient(90deg,#f6f6ff 0px,#ddddfe 6.5px,#9e9efc 15.5px,#9696fc 19.5px,#a5a5fd 23.5px,#f6f6ff 34.5px,#fffffb 36.5px,#fffee0 40.5px,#fffede 44.5px,#fefeff 50.5px,#bbbbfd 63.5px,#6969fb 77.5px,#4b4bfa 87.5px,#3e3efa 105.5px,#4242fa 136.5px,#5b5bfa 148.5px,#7272fb 161px)"></i><i style="background:linear-gradient(90deg,#f6f6ff 0px,#ddddfe 6.5px,#9e9efc 15.5px,#9696fc 19.5px,#a5a5fd 23.5px,#f7f7ff 34.5px,#fffffa 36.5px,#fffede 40.5px,#fffedc 44.5px,#fffff8 49.5px,#fff 50.5px,#b6b6fd 64.5px,#6a6afb 77.5px,#4c4cfa 87.5px,#3e3efa 105.5px,#4242fa 136.5px,#5b5bfb 148.5px,#7272fb 161px)"></i><i style="background:linear-gradient(90deg,#f6f6ff 0px,#ddddfe 6.5px,#9e9efc 15.5px,#9696fc 19.5px,#a5a5fd 23.5px,#f7f7ff 34.5px,#fffff9 36.5px,#fffedd 40.5px,#fffeda 44.5px,#fffff6 49.5px,#fffffe 50.5px,#bdbdfd 63.5px,#6b6bfb 77.5px,#4c4cfa 87.5px,#3f3ffa 105.5px,#4343fa 136.5px,#5b5bfb 148.5px,#7272fb 161px)"></i><i style="background:linear-gradient(90deg,#f6f6ff 0px,#ddddfe 6.5px,#9e9efc 15.5px,#9696fc 19.5px,#a5a5fd 23.5px,#f8f8ff 34.5px,#fdfdff 35.5px,#fffedb 40.5px,#fffed8 44.5px,#fffff4 49.5px,#fcfcff 51.5px,#b2b2fd 65.5px,#6c6cfb 77.5px,#4d4dfa 87.5px,#3f3ffa 104.5px,#4343fa 136.5px,#5b5bfb 148.5px,#7373fb 161px)"></i><i style="background:linear-gradient(90deg,#f6f6ff 0px,#ddddfe 6.5px,#9e9efc 15.5px,#9696fc 19.5px,#a5a5fd 23.5px,#f8f8ff 34.5px,#fefeff 35.5px,#fffed9 40.5px,#fffed7 44.5px,#fffff2 49.5px,#fdfdff 51.5px,#b3b3fd 65.5px,#6969fb 78.5px,#4c4cfa 88.5px,#3f3ffa 107.5px,#4343fa 136.5px,#5c5cfb 148.5px,#7373fb 161px)"></i><i style="background:linear-gradient(90deg,#f6f6ff 0px,#ddddfe 6.5px,#9e9efc 15.5px,#9696fc 19.5px,#a5a5fd 23.5px,#f9f9ff 34.5px,#fefeff 35.5px,#fffedd 39.5px,#fffed3 43.5px,#fffee2 47.5px,#fefeff 51.5px,#b4b4fd 65.5px,#6a6afb 78.5px,#4c4cfa 88.5px,#3f3ffa 106.5px,#4343fa 136.5px,#5c5cfb 148.5px,#7373fb 161px)"></i><i style="background:linear-gradient(90deg,#f6f6ff 0px,#ddddfe 6.5px,#9e9efc 15.5px,#9696fc 19.5px,#a5a5fd 23.5px,#f9f9ff 34.5px,#fff 35.5px,#fffedb 39.5px,#fffed1 42.5px,#fffeda 46.5px,#fff 51.5px,#afaffd 66.5px,#6a6afb 78.5px,#4d4dfa 88.5px,#3f3ffa 106.5px,#4444fa 136.5px,#5c5cfb 148.5px,#7373fb 161px)"></i><i style="background:linear-gradient(90deg,#f6f6ff 0px,#ddddfe 6.5px,#9e9efc 15.5px,#9696fc 19.5px,#a5a5fd 23.5px,#fafaff 34.5px,#fffffe 35.5px,#fffeda 39.5px,#fffecf 42.5px,#fffed8 46.5px,#fffffd 51.5px,#b7b7fd 65.5px,#6b6bfb 78.5px,#4d4dfa 88.5px,#4040fa 106.5px,#4444fa 136.5px,#5c5cfb 148.5px,#7373fb 161px)"></i><i style="background:linear-gradient(90deg,#f6f6ff 0px,#ddddfe 6.5px,#9e9efc 15.5px,#9696fc 19.5px,#a5a5fd 23.5px,#fafaff 34.5px,#fffffd 35.5px,#fffed8 39.5px,#fffecd 42.5px,#fffed7 46.5px,#fcfcff 52.5px,#acacfd 67.5px,#6868fb 79.5px,#4c4cfa 89.5px,#4040fa 108.5px,#4444fa 136.5px,#5f5ffb 149.5px,#7373fb 161px)"></i><i style="background:linear-gradient(90deg,#f6f6ff 0px,#ddddfe 6.5px,#9e9efc 15.5px,#9696fc 19.5px,#a5a5fd 23.5px,#fbfbff 34.5px,#fffffc 35.5px,#fffed7 39.5px,#fffecc 42.5px,#fffed5 46.5px,#fdfdff 52.5px,#adadfd 67.5px,#6969fb 79.5px,#4c4cfa 89.5px,#4040fa 108.5px,#4444fa 136.5px,#5f5ffb 149.5px,#7474fb 161px)"></i><i style="background:linear-gradient(90deg,#f6f6ff 0px,#ddddfe 6.5px,#9e9efc 15.5px,#9696fc 19.5px,#a5a5fd 23.5px,#fbfbff 34.5px,#fffffb 35.5px,#fffed5 39.5px,#fffeca 42.5px,#fffed3 46.5px,#fefeff 52.5px,#aeaefd 67.5px,#6a6afb 79.5px,#4d4dfa 89.5px,#4040fa 108.5px,#4444fa 136.5px,#6060fb 149.5px,#7474fb 161px)"></i><i style="background:linear-gradient(90deg,#f7f7ff 0px,#dedefe 6.5px,#9e9efc 15.5px,#9696fc 19.5px,#a6a6fd 23.5px,#fcfcff 34.5px,#fffed2 39.5px,#fffec7 42.5px,#fffed0 46.5px,#fffffe 52.5px,#b0b0fd 67.5px,#6b6bfb 79.5px,#4e4efa 89.5px,#4141fa 107.5px,#4545fa 136.5px,#6060fb 149.5px,#7474fb 161px)"></i><i style="background:linear-gradient(90deg,#f7f7ff 0px,#dfdffe 6.5px,#9f9ffc 15.5px,#9797fc 19.5px,#a7a7fd 23.5px,#fefeff 34.5px,#fffecf 39.5px,#fffec4 42.5px,#fffecd 46.5px,#fffffb 52.5px,#b7b7fd 66.5px,#6d6dfb 79.5px,#4f4ffa 89.5px,#4141fa 107.5px,#4545fa 136.5px,#6060fb 149.5px,#7474fb 161px)"></i><i style="background:linear-gradient(90deg,#f8f8ff 0px,#dfdffe 6.5px,#a0a0fc 15.5px,#9797fc 19.5px,#a7a7fd 23.5px,#fff 34.5px,#fffed3 38.5px,#fffec2 41.5px,#fffec5 45.5px,#ffffe6 50.5px,#fdfdff 53.5px,#a7a7fd 69.5px,#6a6afb 80.5px,#4e4efa 90.5px,#4141fa 109.5px,#4545fa 136.5px,#6060fb 149.5px,#7474fb 161px)"></i><i style="background:linear-gradient(90deg,#f8f8ff 0px,#e0e0fe 6.5px,#a0a0fc 15.5px,#9898fc 19.5px,#a8a8fd 23.5px,#fafaff 33.5px,#fffffc 34.5px,#fffed0 38.5px,#fffebf 41.5px,#fffec2 45.5px,#fffee3 50.5px,#fff 53.5px,#a9a9fd 69.5px,#6b6bfb 80.5px,#4e4efa 90.5px,#4242fa 109.5px,#4646fa 136.5px,#6161fb 149.5px,#7575fb 161px)"></i><i style="background:linear-gradient(90deg,#f9f9ff 0px,#e1e1fe 6.5px,#a1a1fc 15.5px,#9898fc 19.5px,#a9a9fd 23.5px,#fbfbff 33.5px,#fffff9 34.5px,#fffecd 38.5px,#fffebc 41.5px,#fffebe 45.5px,#fffee0 50.5px,#fffffc 53.5px,#b1b1fd 68.5px,#6d6dfb 80.5px,#4f4ffa 90.5px,#4242fa 108.5px,#4646fa 136.5px,#6161fb 149.5px,#7575fb 161px)"></i><i style="background:linear-gradient(90deg,#fafaff 0px,#e2e2fe 6.5px,#a1a1fc 15.5px,#9999fc 19.5px,#aaaafd 23.5px,#fcfcff 33.5px,#fffeca 38.5px,#fffeb9 41.5px,#fffebb 45.5px,#fffedd 50.5px,#fdfdff 54.5px,#a6a6fd 70.5px,#6a6afb 81.5px,#4e4efa 91.5px,#4242fa 111.5px,#4747fa 137.5px,#7474fb 159.5px,#7575fb 161px)"></i><i style="background:linear-gradient(90deg,#fafaff 0px,#e3e3fe 6.5px,#a2a2fc 15.5px,#9999fc 19.5px,#aaaafd 23.5px,#fefeff 33.5px,#fffec6 38.5px,#fffeb5 41.5px,#fffeb8 45.5px,#fffeda 50.5px,#fefeff 54.5px,#a8a8fd 70.5px,#6b6bfb 81.5px,#4f4ffa 91.5px,#4343fa 110.5px,#4848fa 137.5px,#7575fb 159.5px,#7575fb 161px)"></i><i style="background:linear-gradient(90deg,#fbfbff 0px,#e4e4fe 6.5px,#a2a2fc 15.5px,#9a9afc 19.5px,#ababfd 23.5px,#fff 33.5px,#fffecc 37.5px,#fffdb2 41.5px,#fffeb5 45.5px,#fffed7 50.5px,#fffffe 54.5px,#aaaafd 70.5px,#6c6cfb 81.5px,#5050fa 91.5px,#4343fa 110.5px,#4848fa 137.5px,#7575fb 159.5px,#7676fb 161px)"></i><i style="background:linear-gradient(90deg,#fbfbff 0px,#e5e5fe 6.5px,#a3a3fc 15.5px,#9a9afc 19.5px,#acacfd 23.5px,#fffffc 33.5px,#fffec9 37.5px,#fffdaf 41.5px,#fffdb2 45.5px,#fffed4 50.5px,#fffffb 54.5px,#cecefe 64.5px,#6e6efb 81.5px,#5050fa 91.5px,#4444fa 109.5px,#4747fa 136.5px,#6262fb 149.5px,#7676fb 161px)"></i><i style="background:linear-gradient(90deg,#fcfcff 0px,#e6e6fe 6.5px,#9f9ffc 16.5px,#9b9bfc 19.5px,#adadfd 23.5px,#fbfbff 32.5px,#fffff9 33.5px,#fffec6 37.5px,#fffdac 41.5px,#fffdae 45.5px,#fffed1 50.5px,#fdfdff 55.5px,#a7a7fd 71.5px,#6b6bfb 82.5px,#5050fa 92.5px,#4343fa 112.5px,#4949fa 137.5px,#7575fb 159.5px,#7676fb 161px)"></i><i style="background:linear-gradient(90deg,#fcfcff 0px,#e7e7fe 6.5px,#9f9ffc 16.5px,#9b9bfc 19.5px,#adadfd 23.5px,#fcfcff 32.5px,#fffeba 38.5px,#fffda9 41.5px,#fffdab 45.5px,#fffece 50.5px,#fefeff 55.5px,#a3a3fc 72.5px,#6868fb 83.5px,#4f4ffa 93.5px,#4444fa 114.5px,#4949fa 137.5px,#7676fb 159.5px,#7676fb 161px)"></i><i style="background:linear-gradient(90deg,#fdfdff 0px,#e7e7fe 6.5px,#a0a0fc 16.5px,#9c9cfc 19.5px,#aeaefd 23.5px,#fdfdff 32.5px,#fffec0 37.5px,#fffda6 41.5px,#fffda8 45.5px,#fffecb 50.5px,#fffffd 55.5px,#aaaafd 71.5px,#6e6efb 82.5px,#5151fa 92.5px,#4444fa 111.5px,#4949fa 137.5px,#7676fb 159.5px,#7777fb 161px)"></i><i style="background:linear-gradient(90deg,#fdfdff 0px,#e8e8fe 6.5px,#a1a1fc 16.5px,#9c9cfc 19.5px,#afaffd 23.5px,#fff 32.5px,#fffec8 36.5px,#fffda7 40.5px,#fffda0 43.5px,#fffdb0 47.5px,#ffffe6 53.5px,#fffffb 55.5px,#ededff 59.5px,#6b6bfb 83.5px,#5050fa 93.5px,#4444fa 113.5px,#4a4afa 137.5px,#7676fb 159.5px,#7777fb 161px)"></i><i style="background:linear-gradient(90deg,#fefeff 0px,#e9e9fe 6.5px,#a1a1fc 16.5px,#9d9dfc 19.5px,#b0b0fd 23.5px,#fffffd 32.5px,#fffec5 36.5px,#fffda4 40.5px,#fffd9d 43.5px,#fffdad 47.5px,#fffee3 53.5px,#fdfdff 56.5px,#a2a2fc 73.5px,#6868fb 84.5px,#4f4ffa 94.5px,#4545fa 116.5px,#4b4bfa 138.5px,#7676fb 159.5px,#7777fb 161px)"></i><i style="background:linear-gradient(90deg,#fefeff 0px,#eaeafe 6.5px,#a2a2fc 16.5px,#9d9dfc 19.5px,#b1b1fd 23.5px,#fafaff 31.5px,#fffffa 32.5px,#fffec2 36.5px,#fffda1 40.5px,#fffd9a 43.5px,#fffdaa 47.5px,#fffee0 53.5px,#fff 56.5px,#a4a4fc 73.5px,#6a6afb 84.5px,#5050fa 94.5px,#4545fa 115.5px,#4c4cfa 138.5px,#7777fb 159.5px,#7777fb 161px)"></i><i style="background:linear-gradient(90deg,#fff 0px,#ececfe 6.5px,#a4a4fc 16.5px,#9f9ffc 19.5px,#b2b2fd 23.5px,#fbfbff 31.5px,#fffff7 32.5px,#fffec0 36.5px,#fffda0 40.5px,#fffd99 43.5px,#fffda8 47.5px,#fffedd 53.5px,#fffffd 56.5px,#acacfd 72.5px,#6c6cfb 84.5px,#5151fa 94.5px,#4646fa 115.5px,#4c4cfa 138.5px,#7676fb 158.5px,#7878fb 161px)"></i><i style="background:linear-gradient(90deg,#fffffd 0px,#f3f3ff 5.5px,#cacafe 11.5px,#a6a6fd 16.5px,#a1a1fc 19.5px,#b4b4fd 23.5px,#fcfcff 31.5px,#fffeb4 37.5px,#fffd9a 41.5px,#fffd9c 45.5px,#fffebe 50.5px,#fffffa 56.5px,#f3f3ff 59.5px,#a2a2fc 74.5px,#6969fb 85.5px,#5050fa 96.5px,#4646fa 120.5px,#4e4efa 139.5px,#7777fb 158.5px,#7878fb 161px)"></i><i style="background:linear-gradient(90deg,#fffffa 0px,#f5f5ff 5.5px,#cdcdfe 11.5px,#a8a8fd 16.5px,#a2a2fc 19.5px,#b6b6fd 23.5px,#fefeff 31.5px,#fffebd 36.5px,#fffd9d 40.5px,#fffd97 43.5px,#fffda5 47.5px,#fffed8 53.5px,#fefeff 57.5px,#ababfd 73.5px,#6f6ffb 84.5px,#5353fa 94.5px,#4747fa 113.5px,#4c4cfa 137.5px,#6b6bfb 151.5px,#7979fb 161px)"></i><i style="background:linear-gradient(90deg,#fffff8 0px,#fafaff 4.5px,#dfdffe 9.5px,#aaaafd 16.5px,#a4a4fd 19.5px,#b7b7fd 23.5px,#fff 31.5px,#fffec6 35.5px,#fffda2 39.5px,#fffd96 43.5px,#fffda3 47.5px,#fffed6 53.5px,#fffffe 57.5px,#adadfd 73.5px,#6d6dfb 85.5px,#5353fa 95.5px,#4747fa 116.5px,#4e4efa 138.5px,#7777fb 157.5px,#7979fb 161px)"></i><i style="background:linear-gradient(90deg,#fffff7 0px,#f8f8ff 5.5px,#dadafe 10.5px,#acacfd 16.5px,#a6a6fd 19.5px,#b2b2fd 22.5px,#fffffc 31.5px,#fffec4 35.5px,#fffda1 39.5px,#fffd95 43.5px,#fffda2 47.5px,#fffed4 53.5px,#fffffc 57.5px,#b5b5fd 72.5px,#6f6ffb 85.5px,#5454fa 95.5px,#4848fa 115.5px,#4e4efa 138.5px,#7777fb 157.5px,#7a7afb 161px)"></i><i style="background:linear-gradient(90deg,#fffff5 0px,#fafaff 5.5px,#dcdcfe 10.5px,#aeaefd 16.5px,#a7a7fd 19.5px,#b3b3fd 22.5px,#fafaff 30.5px,#fffff9 31.5px,#fffec3 35.5px,#fffda0 39.5px,#fffd94 43.5px,#fffda0 47.5px,#fffed1 53.5px,#fdfdff 58.5px,#acacfd 74.5px,#7171fb 85.5px,#5555fa 95.5px,#4949fa 114.5px,#4e4efa 137.5px,#6a6afb 150.5px,#7979fb 159.5px,#7a7afb 161px)"></i><i style="background:linear-gradient(90deg,#fffff3 0px,#fbfbff 5.5px,#dedefe 10.5px,#b0b0fd 16.5px,#a9a9fd 19.5px,#b5b5fd 22.5px,#fcfcff 30.5px,#fffeb7 36.5px,#fffd99 40.5px,#fffd94 44.5px,#fffda5 48.5px,#fffff6 57.5px,#fff 58.5px,#aeaefd 74.5px,#6f6ffb 86.5px,#5555fa 96.5px,#4949fa 117.5px,#5050fa 138.5px,#7878fb 157.5px,#7b7bfb 161px)"></i><i style="background:linear-gradient(90deg,#fffff1 0px,#fdfdff 5.5px,#e1e1fe 10.5px,#b2b2fd 16.5px,#ababfd 19.5px,#b7b7fd 22.5px,#fdfdff 30.5px,#fffeb5 36.5px,#fffd98 40.5px,#fffd92 44.5px,#fffda3 48.5px,#ffffe9 56.5px,#fffffd 58.5px,#b6b6fd 73.5px,#7171fb 86.5px,#5656fa 96.5px,#4a4afa 116.5px,#5050fa 138.5px,#6f6ffb 151.5px,#7b7bfb 161px)"></i><i style="background:linear-gradient(90deg,#ffffef 0px,#fbfbff 6.5px,#dbdbfe 11.5px,#b4b4fd 16.5px,#adadfd 19.5px,#b8b8fd 22.5px,#fff 30.5px,#fffebd 35.5px,#fffd97 40.5px,#fffd91 44.5px,#fffda9 49.5px,#fffffa 58.5px,#f4f4ff 61.5px,#adadfd 75.5px,#6e6efb 87.5px,#5555fa 97.5px,#4a4afa 118.5px,#5151fa 138.5px,#6f6ffb 151.5px,#7b7bfb 161px)"></i><i style="background:linear-gradient(90deg,#ffe 0px,#fcfcff 6.5px,#dedefe 11.5px,#b6b6fd 16.5px,#aeaefd 19.5px,#babafd 22.5px,#fffffd 30.5px,#fffec6 34.5px,#fffd9c 39.5px,#fffd90 43.5px,#fffd9a 47.5px,#fffec8 53.5px,#fefeff 59.5px,#b5b5fd 74.5px,#7070fb 87.5px,#5656fa 97.5px,#4b4bfa 118.5px,#5151fa 138.5px,#7070fb 151.5px,#7c7cfb 161px)"></i><i style="background:linear-gradient(90deg,#ffffec 0px,#fffffb 5.5px,#efefff 9.5px,#b4b4fd 17.5px,#b2b2fd 20.5px,#ccccfe 24.5px,#fafaff 29.5px,#fffffa 30.5px,#fffec5 34.5px,#fffd9b 39.5px,#fffd8f 43.5px,#fffd99 47.5px,#fffec6 53.5px,#fffffe 59.5px,#b7b7fd 74.5px,#7272fb 87.5px,#5757fa 97.5px,#4c4cfa 117.5px,#5252fa 138.5px,#6e6efb 150.5px,#7b7bfb 157.5px,#7c7cfb 161px)"></i><i style="background:linear-gradient(90deg,#ffffeb 0px,#fffff8 5.5px,#fcfcff 7.5px,#dadafe 12.5px,#b6b6fd 17.5px,#b3b3fd 20.5px,#cdcdfe 24.5px,#fbfbff 29.5px,#ffffe8 31.5px,#fffdaf 36.5px,#fffd91 41.5px,#fffd90 45.5px,#fffdab 50.5px,#fffffb 59.5px,#d4d4fe 69.5px,#7474fb 87.5px,#5959fa 97.5px,#4c4cfa 116.5px,#5252fa 138.5px,#6e6efb 150.5px,#7b7bfb 157.5px,#7d7dfb 161px)"></i><i style="background:linear-gradient(90deg,#ffffe9 0px,#fffff5 5.5px,#f9f9ff 8.5px,#b8b8fd 17.5px,#b5b5fd 20.5px,#cfcffe 24.5px,#fdfdff 29.5px,#fffeb7 35.5px,#fffd94 40.5px,#fffd8d 44.5px,#fffda2 49.5px,#fefeff 60.5px,#b6b6fd 75.5px,#7272fb 88.5px,#5858fa 98.5px,#4d4dfa 119.5px,#5454fa 139.5px,#7272fb 151.5px,#7c7cfb 158.5px,#7d7dfb 161px)"></i><i style="background:linear-gradient(90deg,#ffffe7 0px,#fffff2 5.5px,#fff 7.5px,#dfdffe 12.5px,#babafd 17.5px,#b7b7fd 20.5px,#d1d1fe 24.5px,#fefeff 29.5px,#fffebf 34.5px,#fffd98 39.5px,#fffd8c 43.5px,#fffd95 47.5px,#fffebf 53.5px,#fff 60.5px,#b8b8fd 75.5px,#7474fb 88.5px,#5959fa 98.5px,#4d4dfa 118.5px,#5353fa 138.5px,#6f6ffb 150.5px,#7c7cfb 156.5px,#7e7efb 161px)"></i><i style="background:linear-gradient(90deg,#fffee4 0px,#ffffed 5.5px,#fefeff 8.5px,#d2d2fe 14.5px,#babafd 18.5px,#bebefd 21.5px,#f0f0ff 27.5px,#fffffb 29.5px,#fffec6 33.5px,#fffd9b 38.5px,#fffd8a 42.5px,#fffd8e 46.5px,#fffdab 51.5px,#fffffb 60.5px,#f0f0ff 64.5px,#aaaafd 78.5px,#7373fb 89.5px,#5858fa 100.5px,#4e4efa 123.5px,#5757fa 140.5px,#7474fb 151.5px,#7d7dfb 157.5px,#7e7efb 161px)"></i><i style="background:linear-gradient(90deg,#fffedd 0px,#ffffe8 6.5px,#fff 9.5px,#c5c5fd 17.5px,#c0c0fd 20.5px,#dadafe 24.5px,#fefeff 28.5px,#fffec9 32.5px,#fffd97 38.5px,#fffd86 42.5px,#fffd89 46.5px,#fffda6 51.5px,#fffffd 61.5px,#b5b5fd 77.5px,#7373fb 90.5px,#5959fa 101.5px,#4f4ffa 124.5px,#5858fa 140.5px,#7272fb 150.5px,#8080fc 155.5px,#7f7ffb 161px)"></i><i style="background:linear-gradient(90deg,#fffed6 0px,#fffedf 6.5px,#fffff3 9.5px,#fffffe 10.5px,#ccccfe 17.5px,#c7c7fd 20.5px,#e0e0fe 24.5px,#fbfbff 27.5px,#ffffe6 29.5px,#fffeb8 33.5px,#fffd8d 39.5px,#fffd80 43.5px,#fffd8d 48.5px,#fffec0 55.5px,#fff 62.5px,#aeaefd 79.5px,#7373fb 91.5px,#5a5afa 102.5px,#5151fa 125.5px,#5b5bfa 141.5px,#7474fb 150.5px,#8282fc 154.5px,#8080fc 161px)"></i><i style="background:linear-gradient(90deg,#fffed0 0px,#fffed6 6.5px,#ffffe7 9.5px,#fffffe 11.5px,#cecefe 18.5px,#d0d0fe 21.5px,#fffffc 27.5px,#fffed0 30.5px,#fffda2 35.5px,#fffd80 41.5px,#fffc7d 45.5px,#fffd93 50.5px,#fffff0 61.5px,#fdfdff 63.5px,#adadfd 80.5px,#7373fb 92.5px,#5b5bfa 103.5px,#5252fa 126.5px,#5c5cfb 141.5px,#7272fb 149.5px,#8585fc 154.5px,#8181fc 161px)"></i><i style="background:linear-gradient(90deg,#fffec9 0px,#fffed1 7.5px,#fffee5 10.5px,#fffffe 12.5px,#d5d5fe 18.5px,#d6d6fe 21.5px,#fdfdff 26.5px,#fffec7 30.5px,#fffd95 36.5px,#fffc79 42.5px,#fffc7b 46.5px,#fffd94 51.5px,#fffff3 62.5px,#fcfcff 64.5px,#a6a6fd 82.5px,#7474fb 93.5px,#5b5bfa 105.5px,#5353fa 129.5px,#6161fb 143.5px,#7878fb 150.5px,#8888fc 154.5px,#8282fc 161px)"></i><i style="background:linear-gradient(90deg,#fffec3 0px,#fffec9 7.5px,#fffed9 10.5px,#fff 13.5px,#dcdcfe 18.5px,#ddddfe 21.5px,#fafaff 25.5px,#fffff7 26.5px,#fffeca 29.5px,#fffd9e 34.5px,#fffc77 41.5px,#fffc74 45.5px,#fffd88 50.5px,#fffed0 59.5px,#fff 64.5px,#a0a0fc 84.5px,#7171fb 95.5px,#5b5bfa 107.5px,#5656fa 132.5px,#6464fb 144.5px,#7a7afb 150.5px,#8b8bfc 154.5px,#8383fc 161px)"></i><i style="background:linear-gradient(90deg,#fffebc 0px,#fffec3 8.5px,#fffed7 11.5px,#fff 14.5px,#e3e3fe 18.5px,#e3e3fe 21.5px,#fffffd 25.5px,#fffecd 28.5px,#fffda6 32.5px,#fffc76 40.5px,#fffc6e 44.5px,#fffc7d 49.5px,#fffeb7 57.5px,#fdfdff 65.5px,#7878fb 94.5px,#5e5efb 106.5px,#5656fa 129.5px,#6363fb 143.5px,#7676fb 149.5px,#8c8cfc 153.5px,#8484fc 161px)"></i><i style="background:linear-gradient(90deg,#fffeb6 0px,#fffebb 8.5px,#fffecb 11.5px,#fefeff 15.5px,#e7e7fe 19.5px,#eef 22.5px,#fdfdff 24.5px,#fffec3 28.5px,#fffd9f 32.5px,#fffc6e 41.5px,#fffc6c 46.5px,#fffd89 52.5px,#fffede 62.5px,#fffffc 65.5px,#a3a3fc 85.5px,#7575fb 96.5px,#5e5efb 108.5px,#5858fa 132.5px,#6666fb 144.5px,#7878fb 149.5px,#8f8ffc 153.5px,#8a8afc 157.5px,#8585fc 161px)"></i><i style="background:linear-gradient(90deg,#fffdac 0px,#fffdb1 9.5px,#fffec4 12.5px,#fffffd 16.5px,#f0f0ff 19.5px,#f7f7ff 22.5px,#fefeff 23.5px,#fffeb5 28.5px,#fffd90 33.5px,#fffc66 41.5px,#fffc62 45.5px,#fffc74 50.5px,#fffeb8 59.5px,#fffffd 66.5px,#7a7afb 96.5px,#6262fb 108.5px,#5a5afa 131.5px,#6868fb 144.5px,#7b7bfb 149.5px,#9595fc 153.5px,#9191fc 156.5px,#8787fc 161px)"></i><i style="background:linear-gradient(90deg,#fffda2 0px,#fffda6 9.5px,#fffeb4 12.5px,#fffed9 15.5px,#fffff7 17.5px,#fdfdff 18.5px,#fbfbff 21.5px,#fffffe 22.5px,#fffeb3 27.5px,#fffd92 31.5px,#fffc5e 41.5px,#fffc59 45.5px,#fffc6c 50.5px,#fffdaf 59.5px,#fff 67.5px,#8080fc 96.5px,#6565fb 108.5px,#5c5cfb 130.5px,#6868fb 143.5px,#7878fb 148.5px,#9b9bfc 153.5px,#9696fc 156.5px,#8989fc 161px)"></i><i style="background:linear-gradient(90deg,#fffd98 0px,#fffd9c 10.5px,#fffdae 13.5px,#ffe 18.5px,#fffff9 20.5px,#ffffec 22.5px,#fffda6 27.5px,#fffd88 31.5px,#fffc52 42.5px,#fffc52 46.5px,#fffc70 52.5px,#fffeb8 61.5px,#fefeff 68.5px,#8282fc 97.5px,#6868fb 109.5px,#5f5ffb 130.5px,#6b6bfb 143.5px,#7a7afb 148.5px,#a1a1fc 153.5px,#9f9ffc 155.5px,#8c8cfc 159.5px,#8b8bfc 161px)"></i><i style="background:linear-gradient(90deg,#fffd8e 0px,#fffd93 11.5px,#fffda7 14.5px,#fffeda 18.5px,#fffee5 20.5px,#fffed9 22.5px,#fffd98 27.5px,#fffc7a 32.5px,#fffb4a 42.5px,#fffb4a 46.5px,#fffc67 52.5px,#fffdae 61.5px,#fffffa 68.5px,#f3f3ff 71.5px,#8181fc 99.5px,#6868fb 112.5px,#6262fb 133.5px,#7171fb 145.5px,#8484fc 149.5px,#a7a7fd 153.5px,#a5a5fd 155.5px,#8e8efc 159.5px,#8d8dfc 161px)"></i><i style="background:linear-gradient(90deg,#fffd84 0px,#fffd87 11.5px,#fffd97 14.5px,#fffece 19.5px,#fffecf 21.5px,#fffdad 24.5px,#fffd8b 27.5px,#fffb42 42.5px,#fffb41 46.5px,#fffc5f 52.5px,#fffda4 61.5px,#fffffd 69.5px,#8686fc 99.5px,#6c6cfb 112.5px,#6565fb 133.5px,#7373fb 145.5px,#8787fc 149.5px,#adadfd 153.5px,#aaaafd 155.5px,#9191fc 159.5px,#8f8ffc 161px)"></i><i style="background:linear-gradient(90deg,#fffc7a 0px,#fffc7e 12.5px,#fffd90 15.5px,#fffeba 19.5px,#fffebb 21.5px,#fffc7f 27.5px,#fffb37 43.5px,#fffb3c 47.5px,#fffc6a 55.5px,#fffda4 62.5px,#fefeff 70.5px,#8888fc 100.5px,#6e6efb 113.5px,#6767fb 133.5px,#7575fb 145.5px,#8282fc 148.5px,#b3b3fd 153.5px,#afaffd 155.5px,#9393fc 159.5px,#9090fc 161px)"></i><i style="background:linear-gradient(90deg,#fffc70 0px,#fffc75 13.5px,#fffd89 16.5px,#fffda6 19.5px,#fffda8 21.5px,#fffc72 27.5px,#fffb43 38.5px,#fffb2f 43.5px,#fffb33 47.5px,#fffc68 56.5px,#fffd99 62.5px,#fffff8 70.5px,#f8f8ff 72.5px,#8787fc 102.5px,#6f6ffb 116.5px,#6b6bfb 136.5px,#7b7bfb 146.5px,#8e8efc 149.5px,#b2b2fd 152.5px,#babafd 154.5px,#9595fc 159.5px,#9292fc 161px)"></i><i style="background:linear-gradient(90deg,#fffc68 0px,#fffc6b 13.5px,#fffc7c 16.5px,#fffd97 19.5px,#fffd99 21.5px,#fffc68 27.5px,#fffb47 36.5px,#fffb24 43.5px,#fffb28 47.5px,#fffc7a 60.5px,#fffdaa 65.5px,#fefeff 72.5px,#8e8efc 102.5px,#7373fb 116.5px,#6d6dfb 135.5px,#7d7dfb 146.5px,#9191fc 149.5px,#b7b7fd 152.5px,#c0c0fd 154.5px,#9797fc 159.5px,#9494fc 161px)"></i><i style="background:linear-gradient(90deg,#fffc60 0px,#fffc63 13.5px,#fffc71 16.5px,#fffd8b 19.5px,#fffd8c 21.5px,#fffc64 26.5px,#fffb40 36.5px,#fffa18 43.5px,#fffa18 46.5px,#fffb3b 52.5px,#fffd85 63.5px,#fffebb 68.5px,#fffffa 73.5px,#eef 77.5px,#8a8afc 106.5px,#7373fb 121.5px,#7272fb 138.5px,#7f7ffb 146.5px,#9494fc 149.5px,#bdbdfd 152.5px,#c6c6fd 153.5px,#c6c6fd 154.5px,#9a9afc 159.5px,#9696fc 161px)"></i><i style="background:linear-gradient(90deg,#fffc58 0px,#fffc5c 14.5px,#fffd81 20.5px,#fffc78 22.5px,#fffc5b 26.5px,#fffb3e 35.5px,#fffa0c 43.5px,#fffa0b 46.5px,#fffb2a 51.5px,#fffd86 65.5px,#fffebf 70.5px,#fff 75.5px,#c6c6fd 90.5px,#8a8afc 109.5px,#7474fb 125.5px,#7676fb 140.5px,#8686fc 147.5px,#a5a5fd 150.5px,#c3c3fd 152.5px,#ccccfe 153.5px,#cdcdfe 154.5px,#9c9cfc 159.5px,#9898fc 161px)"></i><i style="background:linear-gradient(90deg,#fffc50 0px,#fffc53 14.5px,#fffc74 20.5px,#fffc63 23.5px,#fffc4f 27.5px,#fffb3c 34.5px,#fffa00 43.5px,#fffa03 47.5px,#fffb49 57.5px,#fffc75 65.5px,#fffda9 70.5px,#fffff9 76.5px,#f7f7ff 78.5px,#9393fc 108.5px,#7a7afb 123.5px,#7878fb 139.5px,#8484fc 146.5px,#9b9bfc 149.5px,#c9c9fe 152.5px,#d3d3fe 153.5px,#d3d3fe 154.5px,#bfbffd 156.5px,#9e9efc 159.5px,#9a9afc 161px)"></i><i style="background:linear-gradient(90deg,#fffb48 0px,#fffb4b 14.5px,#fffc67 20.5px,#fffb49 26.5px,#fffb35 34.5px,#fffa00 41.5px,#feeb00 44.5px,#fef100 47.5px,#fffa04 49.5px,#fffb3b 56.5px,#fffc6d 66.5px,#fffd93 70.5px,#fffffe 78.5px,#d2d2fe 90.5px,#9090fc 112.5px,#7a7afb 128.5px,#7e7efb 142.5px,#8b8bfc 147.5px,#9e9efc 149.5px,#d0d0fe 152.5px,#d9d9fe 153.5px,#dadafe 154.5px,#c3c3fd 156.5px,#a9a9fd 158.5px,#9c9cfc 161px)"></i><i style="background:linear-gradient(90deg,#fffb40 0px,#fffb44 15.5px,#fffc5a 20.5px,#fffb40 26.5px,#fffb32 33.5px,#fffa10 38.5px,#fff800 40.5px,#fde200 43.5px,#fde000 46.5px,#fffa02 50.5px,#fffb33 56.5px,#fffc65 67.5px,#fffd89 71.5px,#fffff7 79.5px,#fdfdff 80.5px,#d1d1fe 92.5px,#8f8ffc 115.5px,#7d7dfb 131.5px,#8484fc 144.5px,#8e8efc 147.5px,#a2a2fc 149.5px,#d6d6fe 152.5px,#e0e0fe 153.5px,#e0e0fe 154.5px,#c8c8fd 156.5px,#acacfd 158.5px,#9e9efc 161px)"></i><i style="background:linear-gradient(90deg,#fffb38 0px,#fffb3b 15.5px,#fffc4e 20.5px,#fffb38 26.5px,#fffb2a 33.5px,#fff700 39.5px,#fcd600 43.5px,#fcd400 46.5px,#fef100 50.5px,#fffa01 51.5px,#fffb2a 56.5px,#fffc5c 68.5px,#fffc7f 72.5px,#fffffd 81.5px,#d6d6fe 92.5px,#9393fc 116.5px,#8080fc 132.5px,#8686fc 144.5px,#9191fc 147.5px,#a5a5fd 149.5px,#dcdcfe 152.5px,#e6e6fe 153.5px,#e7e7fe 154.5px,#cdcdfe 156.5px,#afaffd 158.5px,#a0a0fc 161px)"></i><i style="background:linear-gradient(90deg,#fffb31 0px,#fffb33 15.5px,#fffb42 20.5px,#fffb30 26.5px,#fffb26 32.5px,#fffa0e 36.5px,#fff500 38.5px,#fbc800 43.5px,#fbc500 46.5px,#fcda00 49.5px,#fff900 52.5px,#fffb27 57.5px,#fffc53 69.5px,#fffc75 73.5px,#fffebb 78.5px,#fffff5 82.5px,#fefeff 83.5px,#d8d8fe 93.5px,#9393fc 119.5px,#8383fc 135.5px,#8b8bfc 145.5px,#9b9bfc 148.5px,#babafd 150.5px,#e1e1fe 152.5px,#ececfe 153.5px,#ececfe 154.5px,#d1d1fe 156.5px,#b1b1fd 158.5px,#a2a2fc 161px)"></i><i style="background:linear-gradient(90deg,#fffb2a 0px,#fffb2e 16.5px,#fffb39 20.5px,#fffb29 26.5px,#fffb1d 32.5px,#fffa01 36.5px,#fabb00 42.5px,#f9af00 45.5px,#fabe00 48.5px,#fff500 53.5px,#fffa16 56.5px,#fffb30 62.5px,#fffb4b 70.5px,#fffc6a 74.5px,#fffd9f 78.5px,#fffffa 84.5px,#f2f2ff 87.5px,#a3a3fc 114.5px,#8989fc 130.5px,#8989fc 143.5px,#9595fc 147.5px,#ababfd 149.5px,#e4e4fe 152.5px,#f0f0ff 153.5px,#f0f0ff 154.5px,#d4d4fe 156.5px,#b3b3fd 158.5px,#a3a3fc 161px)"></i><i style="background:linear-gradient(90deg,#fffb23 0px,#fffb26 16.5px,#fffb2f 20.5px,#fffa13 32.5px,#fff700 35.5px,#f8a800 42.5px,#f79b00 45.5px,#f9ab00 48.5px,#fffa02 55.5px,#fffb1e 59.5px,#fffb42 71.5px,#fffc5f 75.5px,#fffd93 79.5px,#fff 86.5px,#dcdcfe 95.5px,#9696fc 123.5px,#8989fc 138.5px,#9292fc 146.5px,#9f9ffc 148.5px,#c0c0fd 150.5px,#e8e8fe 152.5px,#f3f3ff 153.5px,#f3f3ff 154.5px,#d7d7fe 156.5px,#b5b5fd 158.5px,#a5a5fd 161px)"></i><i style="background:linear-gradient(90deg,#fffb1c 0px,#fffb20 17.5px,#fffb24 21.5px,#fffa0e 31.5px,#fffa02 33.5px,#fddf00 36.5px,#f79400 42.5px,#f68700 45.5px,#f79800 48.5px,#fff900 56.5px,#fffb1c 61.5px,#fffb3a 72.5px,#fffc55 76.5px,#fffd87 80.5px,#fffff7 87.5px,#fdfdff 88.5px,#dbdbfe 97.5px,#9797fc 125.5px,#8c8cfc 139.5px,#9494fc 146.5px,#a2a2fc 148.5px,#c2c2fd 150.5px,#ececfe 152.5px,#f7f7ff 153.5px,#f7f7ff 154.5px,#d9d9fe 156.5px,#b6b6fd 158.5px,#a6a6fd 161px)"></i><i style="background:linear-gradient(90deg,#fffa15 0px,#fffa18 17.5px,#fffb1b 21.5px,#fffa08 30.5px,#fff700 32.5px,#fccf00 36.5px,#f58100 42.5px,#f47300 45.5px,#f68400 48.5px,#feec00 56.5px,#fffa03 58.5px,#fffa19 63.5px,#fffb32 73.5px,#fffb4b 77.5px,#fffc7a 81.5px,#fffffb 89.5px,#dadafe 99.5px,#9999fc 127.5px,#8f8ffc 140.5px,#9696fc 146.5px,#a4a4fd 148.5px,#c5c5fd 150.5px,#efefff 152.5px,#fbfbff 153.5px,#fbfbff 154.5px,#dcdcfe 156.5px,#b8b8fd 158.5px,#a7a7fd 161px)"></i><i style="background:linear-gradient(90deg,#fffa0e 0px,#fffa10 22.5px,#fff800 30.5px,#fcd800 34.5px,#f46d00 42.5px,#f35f00 45.5px,#f47100 48.5px,#fdde00 56.5px,#fff900 59.5px,#fffa15 65.5px,#fffb29 74.5px,#fffb49 79.5px,#fffc7d 83.5px,#fffff2 90.5px,#fff 91.5px,#dedefe 99.5px,#9c9cfc 128.5px,#9292fc 141.5px,#9999fc 146.5px,#a7a7fd 148.5px,#c8c8fd 150.5px,#f3f3ff 152.5px,#fff 153.5px,#fff 154.5px,#f2f2ff 155.5px,#babafd 158.5px,#a9a9fd 161px)"></i><i style="background:linear-gradient(90deg,#fffa07 0px,#fffa06 23.5px,#fff700 28.5px,#fddf00 32.5px,#f9ae00 36.5px,#f36400 41.5px,#f14d00 44.5px,#f14e00 46.5px,#f36900 49.5px,#fcd000 56.5px,#fff400 60.5px,#fffa07 63.5px,#fffb25 76.5px,#fffb3f 80.5px,#fffc70 84.5px,#fffff7 92.5px,#fcfcff 93.5px,#ddddfe 101.5px,#9d9dfc 130.5px,#9696fc 143.5px,#a0a0fc 147.5px,#b8b8fd 149.5px,#f7f7ff 152.5px,#fffff6 153.5px,#fffff7 154.5px,#f6f6ff 155.5px,#bcbcfd 158.5px,#aaaafd 161px)"></i><i style="background:linear-gradient(90deg,#fffa00 0px,#fff600 25.5px,#fde200 30.5px,#faba00 34.5px,#f15000 41.5px,#f03900 44.5px,#f03a00 46.5px,#f25500 49.5px,#fac100 56.5px,#fee900 60.5px,#fffa01 64.5px,#fffb1d 77.5px,#fffb35 81.5px,#fffc63 85.5px,#ffe 93.5px,#fffffc 94.5px,#dfdffe 102.5px,#a0a0fc 131.5px,#9999fc 143.5px,#a3a3fc 147.5px,#babafd 149.5px,#fbfbff 152.5px,#ffffed 153.5px,#ffe 154.5px,#fafaff 155.5px,#bfbffd 158.5px,#acacfd 161px)"></i></div>
<div class="hm" style="left:36.5px;top:216.5px"><i style="background:linear-gradient(90deg,#fdfdff 0px,#e2e2fe 7.5px,#aaaafd 16.5px,#a1a1fc 20.5px,#b3b3fd 25.5px,#fcfcff 35.5px,#ffffed 37.5px,#fffecc 41.5px,#fffec4 45.5px,#fffed5 49.5px,#fcfcff 54.5px,#7b7bfb 76.5px,#5b5bfb 86.5px,#4d4dfa 103.5px,#5050fa 136.5px,#6a6afb 149.5px,#7d7dfb 161px)"></i><i style="background:linear-gradient(90deg,#fdfdff 0px,#e3e3fe 7.5px,#aaaafd 16.5px,#a2a2fc 20.5px,#aeaefd 24.5px,#fdfdff 35.5px,#fffed0 40.5px,#fffec1 44.5px,#fffecd 48.5px,#fdfdff 54.5px,#7c7cfb 76.5px,#5c5cfb 86.5px,#4e4efa 102.5px,#5050fa 135.5px,#6767fb 148.5px,#7d7dfb 161px)"></i><i style="background:linear-gradient(90deg,#fdfdff 0px,#e3e3fe 7.5px,#aaaafd 16.5px,#a2a2fc 20.5px,#aeaefd 24.5px,#fdfdff 35.5px,#fffece 40.5px,#fffebf 44.5px,#fffecb 48.5px,#fffff5 53.5px,#fff 54.5px,#7d7dfb 76.5px,#5d5dfb 86.5px,#4e4efa 102.5px,#5050fa 135.5px,#6868fb 148.5px,#7d7dfb 161px)"></i><i style="background:linear-gradient(90deg,#fdfdff 0px,#e3e3fe 7.5px,#aaaafd 16.5px,#a2a2fc 20.5px,#aeaefd 24.5px,#fefeff 35.5px,#fffecc 40.5px,#fffebd 44.5px,#fffec9 48.5px,#fffff3 53.5px,#fffffe 54.5px,#7e7efb 76.5px,#5d5dfb 86.5px,#4e4efa 102.5px,#5050fa 135.5px,#6868fb 148.5px,#7d7dfb 161px)"></i><i style="background:linear-gradient(90deg,#fefeff 0px,#e4e4fe 7.5px,#ababfd 16.5px,#a2a2fc 20.5px,#afaffd 24.5px,#fff 35.5px,#fffed2 39.5px,#fffebd 43.5px,#fffec2 47.5px,#ffffe6 52.5px,#fffffc 54.5px,#7b7bfb 77.5px,#5c5cfb 87.5px,#4e4efa 104.5px,#5252fa 136.5px,#6d6dfb 150.5px,#7e7efb 161px)"></i><i style="background:linear-gradient(90deg,#fefeff 0px,#e4e4fe 7.5px,#ababfd 16.5px,#a2a2fc 20.5px,#afaffd 24.5px,#fffffe 35.5px,#fffed1 39.5px,#fffebb 43.5px,#fffec0 47.5px,#fffee4 52.5px,#fcfcff 55.5px,#7c7cfb 77.5px,#5d5dfb 87.5px,#4f4ffa 104.5px,#5252fa 136.5px,#6e6efb 150.5px,#7e7efb 161px)"></i><i style="background:linear-gradient(90deg,#fefeff 0px,#e4e4fe 7.5px,#ababfd 16.5px,#a2a2fc 20.5px,#afaffd 24.5px,#fffffc 35.5px,#fffecf 39.5px,#fffeb9 43.5px,#fffebe 47.5px,#fffee2 52.5px,#fdfdff 55.5px,#7d7dfb 77.5px,#5d5dfb 87.5px,#4f4ffa 104.5px,#5252fa 136.5px,#6e6efb 150.5px,#7e7efb 161px)"></i><i style="background:linear-gradient(90deg,#fefeff 0px,#e5e5fe 7.5px,#a7a7fd 17.5px,#a4a4fc 21.5px,#bcbcfd 26.5px,#fafaff 34.5px,#fffffb 35.5px,#fffecd 39.5px,#fffeb7 43.5px,#fffebc 47.5px,#fffee0 52.5px,#fefeff 55.5px,#7e7efb 77.5px,#5e5efb 87.5px,#4f4ffa 104.5px,#5353fa 136.5px,#6e6efb 150.5px,#7e7efb 161px)"></i><i style="background:linear-gradient(90deg,#fff 0px,#e5e5fe 7.5px,#a7a7fd 17.5px,#a4a4fc 21.5px,#bdbdfd 26.5px,#fbfbff 34.5px,#fffff9 35.5px,#fffecb 39.5px,#fffeb5 43.5px,#fffeba 47.5px,#fffede 52.5px,#fffffe 55.5px,#7f7ffb 77.5px,#5f5ffb 87.5px,#5050fa 103.5px,#5353fa 136.5px,#6e6efb 150.5px,#7f7ffb 161px)"></i><i style="background:linear-gradient(90deg,#fff 0px,#e6e6fe 7.5px,#a7a7fd 17.5px,#a4a4fd 21.5px,#bdbdfd 26.5px,#fcfcff 34.5px,#fffec1 40.5px,#fffdb2 44.5px,#fffebd 48.5px,#ffffe6 53.5px,#fffffc 55.5px,#7c7cfb 78.5px,#5e5efb 88.5px,#5050fa 106.5px,#5353fa 136.5px,#6f6ffb 150.5px,#7f7ffb 161px)"></i><i style="background:linear-gradient(90deg,#fff 0px,#ebebfe 6.5px,#a7a7fd 17.5px,#a4a4fd 21.5px,#bdbdfd 26.5px,#fdfdff 34.5px,#fffec8 39.5px,#fffdb1 43.5px,#fffeb6 47.5px,#fffeda 52.5px,#fffffa 55.5px,#f6f6ff 57.5px,#8181fc 77.5px,#6060fb 87.5px,#5151fa 103.5px,#5454fa 136.5px,#6f6ffb 150.5px,#7f7ffb 161px)"></i><i style="background:linear-gradient(90deg,#fffffe 0px,#ececfe 6.5px,#a8a8fd 17.5px,#a4a4fd 21.5px,#bebefd 26.5px,#fdfdff 34.5px,#fffec6 39.5px,#fffdaf 43.5px,#fffeb4 47.5px,#fffed8 52.5px,#fdfdff 56.5px,#7e7efb 78.5px,#5f5ffb 88.5px,#5151fa 105.5px,#5454fa 136.5px,#6f6ffb 150.5px,#7f7ffb 161px)"></i><i style="background:linear-gradient(90deg,#fffffe 0px,#ececfe 6.5px,#a8a8fd 17.5px,#a4a4fd 21.5px,#bebefd 26.5px,#fefeff 34.5px,#fffec4 39.5px,#fffdad 43.5px,#fffdb2 47.5px,#fffed6 52.5px,#fefeff 56.5px,#7f7ffb 78.5px,#5f5ffb 88.5px,#5151fa 105.5px,#5454fa 136.5px,#7070fb 150.5px,#8080fc 161px)"></i><i style="background:linear-gradient(90deg,#fffffd 0px,#ececfe 6.5px,#a8a8fd 17.5px,#a5a5fd 21.5px,#bebefd 26.5px,#fff 34.5px,#fffecc 38.5px,#fffdaf 42.5px,#fffdad 46.5px,#fffec2 50.5px,#fff 56.5px,#8080fc 78.5px,#6060fb 88.5px,#5252fa 105.5px,#5555fa 136.5px,#7070fb 150.5px,#8080fc 161px)"></i><i style="background:linear-gradient(90deg,#fffffd 0px,#ededff 6.5px,#a8a8fd 17.5px,#a5a5fd 21.5px,#bfbffd 26.5px,#fffffe 34.5px,#fffeca 38.5px,#fffdad 42.5px,#fffdab 46.5px,#fffec0 50.5px,#fffffd 56.5px,#8181fc 78.5px,#6161fb 88.5px,#5252fa 104.5px,#5555fa 136.5px,#7070fb 150.5px,#8080fc 161px)"></i><i style="background:linear-gradient(90deg,#fffffb 0px,#eef 6.5px,#a9a9fd 17.5px,#a5a5fd 21.5px,#c0c0fd 26.5px,#fafaff 33.5px,#fffffb 34.5px,#fffec7 38.5px,#fffdaa 42.5px,#fffda7 46.5px,#fffebc 50.5px,#fffff9 56.5px,#f6f6ff 58.5px,#8282fc 78.5px,#6262fb 88.5px,#5353fa 104.5px,#5555fa 136.5px,#7171fb 150.5px,#8080fc 161px)"></i><i style="background:linear-gradient(90deg,#fffffa 0px,#f3f3ff 5.5px,#c0c0fd 13.5px,#a6a6fd 18.5px,#a9a9fd 22.5px,#c9c9fe 27.5px,#fbfbff 33.5px,#fffff7 34.5px,#fffec3 38.5px,#fffda6 42.5px,#fffda3 46.5px,#fffeb8 50.5px,#fefeff 57.5px,#8484fc 78.5px,#6363fb 88.5px,#5353fa 104.5px,#5656fa 136.5px,#7171fb 150.5px,#8181fc 161px)"></i><i style="background:linear-gradient(90deg,#fffff8 0px,#f8f8ff 4.5px,#d7d7fe 10.5px,#aaaafd 17.5px,#a6a6fd 21.5px,#babafd 25.5px,#fdfdff 33.5px,#fffeb6 39.5px,#fffd9f 43.5px,#fffda3 47.5px,#fffec5 52.5px,#fffffd 57.5px,#8181fc 79.5px,#6262fb 89.5px,#5454fa 106.5px,#5757fa 136.5px,#7272fb 150.5px,#8181fc 161px)"></i><i style="background:linear-gradient(90deg,#fffff7 0px,#fcfcff 3.5px,#dfdffe 9.5px,#aaaafd 17.5px,#a7a7fd 21.5px,#bbbbfd 25.5px,#fefeff 33.5px,#fffebd 38.5px,#fffd9f 42.5px,#fffd9c 46.5px,#fffdb0 50.5px,#ffffed 56.5px,#fcfcff 58.5px,#8383fc 79.5px,#6363fb 89.5px,#5454fa 106.5px,#5757fa 136.5px,#7272fb 150.5px,#8282fc 161px)"></i><i style="background:linear-gradient(90deg,#fffff5 0px,#fafaff 4.5px,#d9d9fe 10.5px,#ababfd 17.5px,#a7a7fd 21.5px,#bcbcfd 25.5px,#fffffd 33.5px,#fffec4 37.5px,#fffda1 41.5px,#fffd96 45.5px,#fffda5 49.5px,#fffed2 54.5px,#fefeff 58.5px,#8484fc 79.5px,#6464fb 89.5px,#5555fa 105.5px,#5858fa 136.5px,#7272fb 150.5px,#8282fc 161px)"></i><i style="background:linear-gradient(90deg,#fffff4 0px,#fbfbff 4.5px,#dadafe 10.5px,#ababfd 17.5px,#a8a8fd 21.5px,#bdbdfd 25.5px,#f9f9ff 32.5px,#fffffa 33.5px,#fffec1 37.5px,#fffd9d 41.5px,#fffd93 45.5px,#fffda1 49.5px,#fffecd 54.5px,#fffffd 58.5px,#8686fc 79.5px,#6565fb 89.5px,#5656fa 105.5px,#5858fa 136.5px,#7373fb 150.5px,#8383fc 161px)"></i><i style="background:linear-gradient(90deg,#fffff3 0px,#fcfcff 4.5px,#dbdbfe 10.5px,#acacfd 17.5px,#a9a9fd 21.5px,#bebefd 25.5px,#fbfbff 32.5px,#fffff7 33.5px,#fffebe 37.5px,#fffd9a 41.5px,#fffd8f 45.5px,#fffd9d 49.5px,#fffec9 54.5px,#fffff9 58.5px,#f6f6ff 60.5px,#8888fc 79.5px,#6666fb 89.5px,#5656fa 105.5px,#5959fa 136.5px,#7676fb 151.5px,#8383fc 161px)"></i><i style="background:linear-gradient(90deg,#fffff1 0px,#fdfdff 4.5px,#dcdcfe 10.5px,#adadfd 17.5px,#a9a9fd 21.5px,#bfbffd 25.5px,#fcfcff 32.5px,#fffdaf 38.5px,#fffd91 42.5px,#fffd8d 46.5px,#fffda0 50.5px,#fffedc 56.5px,#fefeff 59.5px,#8989fc 79.5px,#6767fb 89.5px,#5757fa 104.5px,#5959fa 136.5px,#7676fb 151.5px,#8383fc 161px)"></i><i style="background:linear-gradient(90deg,#fffff0 0px,#fafaff 5.5px,#d6d6fe 11.5px,#adadfd 17.5px,#aaaafd 21.5px,#c0c0fd 25.5px,#fefeff 32.5px,#fffeb7 37.5px,#fffd93 41.5px,#fffd88 45.5px,#fffd95 49.5px,#fffec1 54.5px,#fffffd 59.5px,#8686fc 80.5px,#6666fb 90.5px,#5757fa 106.5px,#5a5afa 136.5px,#7777fb 151.5px,#8484fc 161px)"></i><i style="background:linear-gradient(90deg,#ffe 0px,#fbfbff 5.5px,#d7d7fe 11.5px,#aeaefd 17.5px,#aaaafd 21.5px,#c1c1fd 25.5px,#fffffe 32.5px,#fffec0 36.5px,#fffd96 40.5px,#fffd84 44.5px,#fffd8c 48.5px,#fffdb2 53.5px,#fffff9 59.5px,#f6f6ff 61.5px,#8888fc 80.5px,#6767fb 90.5px,#5858fa 106.5px,#5b5bfa 136.5px,#7777fb 151.5px,#8484fc 161px)"></i><i style="background:linear-gradient(90deg,#ffffed 0px,#fcfcff 5.5px,#d8d8fe 11.5px,#aeaefd 17.5px,#ababfd 21.5px,#c2c2fd 25.5px,#f8f8ff 31.5px,#fffffb 32.5px,#fffebd 36.5px,#fffd93 40.5px,#fffd81 44.5px,#fffd88 48.5px,#fffdae 53.5px,#fefeff 60.5px,#8a8afc 80.5px,#6868fb 90.5px,#5959fa 106.5px,#5b5bfa 136.5px,#7878fb 151.5px,#8585fc 161px)"></i><i style="background:linear-gradient(90deg,#ffffec 0px,#fdfdff 5.5px,#d9d9fe 11.5px,#afaffd 17.5px,#aaaafd 20.5px,#bbbbfd 24.5px,#fafaff 31.5px,#fffff7 32.5px,#fffeb9 36.5px,#fffd90 40.5px,#fffc7d 44.5px,#fffd84 48.5px,#fffdaa 53.5px,#fffffe 60.5px,#8b8bfc 80.5px,#6969fb 90.5px,#5a5afa 105.5px,#5c5cfb 136.5px,#7878fb 151.5px,#8585fc 161px)"></i><i style="background:linear-gradient(90deg,#ffffea 0px,#fefeff 5.5px,#dadafe 11.5px,#b0b0fd 17.5px,#aaaafd 20.5px,#bcbcfd 24.5px,#fbfbff 31.5px,#fffee3 33.5px,#fffdaa 37.5px,#fffd85 41.5px,#fffc79 45.5px,#fffd86 49.5px,#fffdb1 54.5px,#fffffa 60.5px,#efefff 63.5px,#8888fc 81.5px,#6868fb 91.5px,#5a5afa 107.5px,#5c5cfb 136.5px,#7878fb 151.5px,#8585fc 161px)"></i><i style="background:linear-gradient(90deg,#ffffe9 0px,#fff 5.5px,#dbdbfe 11.5px,#b0b0fd 17.5px,#ababfd 20.5px,#bcbcfd 24.5px,#fdfdff 31.5px,#fffeb3 36.5px,#fffd89 40.5px,#fffc76 44.5px,#fffc7d 48.5px,#fffda2 53.5px,#fdfdff 61.5px,#8a8afc 81.5px,#6969fb 91.5px,#5a5afa 107.5px,#5d5dfb 136.5px,#7979fb 151.5px,#8686fc 161px)"></i><i style="background:linear-gradient(90deg,#ffffe7 0px,#fcfcff 6.5px,#d4d4fe 12.5px,#b1b1fd 17.5px,#ababfd 20.5px,#bdbdfd 24.5px,#fff 31.5px,#fffdaf 36.5px,#fffd86 40.5px,#fffc73 44.5px,#fffc79 48.5px,#fffd9e 53.5px,#fff 61.5px,#8b8bfc 81.5px,#6a6afb 91.5px,#5b5bfa 107.5px,#5d5dfb 136.5px,#7a7afb 151.5px,#8686fc 161px)"></i><i style="background:linear-gradient(90deg,#fffee4 0px,#fffff9 5.5px,#f9f9ff 7.5px,#b3b3fd 17.5px,#adadfd 20.5px,#bfbffd 24.5px,#f8f8ff 30.5px,#fffffb 31.5px,#fffeb9 35.5px,#fffd8b 39.5px,#fffc73 43.5px,#fffc73 47.5px,#fffd8a 51.5px,#fffec8 57.5px,#fffffb 61.5px,#cacafe 70.5px,#8484fc 83.5px,#6868fb 93.5px,#5b5bfa 111.5px,#5f5ffb 137.5px,#8686fc 158.5px,#8787fc 161px)"></i><i style="background:linear-gradient(90deg,#fffee0 0px,#fffff4 5.5px,#fcfcff 7.5px,#b6b6fd 17.5px,#afaffd 20.5px,#babafd 23.5px,#fafaff 30.5px,#fffff6 31.5px,#fffeb5 35.5px,#fffd88 39.5px,#fffc71 43.5px,#fffc71 47.5px,#fffd87 51.5px,#fffec4 57.5px,#fffff7 61.5px,#fcfcff 62.5px,#8f8ffc 81.5px,#6d6dfb 91.5px,#5d5dfb 106.5px,#5f5ffb 136.5px,#7575fb 148.5px,#8787fc 157.5px,#8888fc 161px)"></i><i style="background:linear-gradient(90deg,#fffedd 0px,#ffffef 5.5px,#fefeff 7.5px,#ccccfe 14.5px,#b4b4fd 18.5px,#b3b3fd 21.5px,#ccccfe 25.5px,#fcfcff 30.5px,#fffdb1 35.5px,#fffd86 39.5px,#fffc6f 43.5px,#fffc6f 47.5px,#fffd8c 52.5px,#fffecd 58.5px,#fefeff 62.5px,#9191fc 81.5px,#6f6ffb 91.5px,#5e5efb 106.5px,#6060fb 136.5px,#7676fb 148.5px,#8888fc 156.5px,#8989fc 161px)"></i><i style="background:linear-gradient(90deg,#fffed9 0px,#ffffea 5.5px,#fcfcff 8.5px,#babafd 17.5px,#b3b3fd 20.5px,#bebefd 23.5px,#fff 30.5px,#fffeba 34.5px,#fffd8b 38.5px,#fffc70 42.5px,#fffc6b 46.5px,#fffc7b 50.5px,#fffda6 55.5px,#fffffd 62.5px,#8e8efc 82.5px,#6e6efb 92.5px,#5f5ffb 108.5px,#6262fb 137.5px,#7878fb 148.5px,#8989fc 156.5px,#8a8afc 161px)"></i><i style="background:linear-gradient(90deg,#fffed6 0px,#ffffe6 5.5px,#fff 8.5px,#bdbdfd 17.5px,#b5b5fd 20.5px,#c0c0fd 23.5px,#f8f8ff 29.5px,#fffffa 30.5px,#fffeb6 34.5px,#fffd88 38.5px,#fffc6e 42.5px,#fffc69 46.5px,#fffc7f 51.5px,#fffeb9 57.5px,#fffff9 62.5px,#f6f6ff 64.5px,#9090fc 82.5px,#6f6ffb 92.5px,#6060fb 108.5px,#6363fb 137.5px,#7979fb 148.5px,#8b8bfc 155.5px,#8b8bfc 161px)"></i><i style="background:linear-gradient(90deg,#fffed2 0px,#fffee1 5.5px,#fcfcff 9.5px,#bfbffd 17.5px,#b7b7fd 20.5px,#c2c2fd 23.5px,#fafaff 29.5px,#fffff5 30.5px,#fffdb2 34.5px,#fffd85 38.5px,#fffc6c 42.5px,#fffc67 46.5px,#fffc7d 51.5px,#fffeb6 57.5px,#fefeff 63.5px,#9292fc 82.5px,#7171fb 92.5px,#6161fb 107.5px,#6363fb 136.5px,#7777fb 147.5px,#8d8dfc 155.5px,#8c8cfc 161px)"></i><i style="background:linear-gradient(90deg,#fffecf 0px,#fffedd 5.5px,#fefeff 9.5px,#c1c1fd 17.5px,#b9b9fd 20.5px,#c4c4fd 23.5px,#fcfcff 29.5px,#fffdae 34.5px,#fffd82 38.5px,#fffc6a 42.5px,#fffc65 46.5px,#fffc7a 51.5px,#fffdb2 57.5px,#fffffe 63.5px,#9494fc 82.5px,#7272fb 92.5px,#6262fb 107.5px,#6464fb 136.5px,#7878fb 147.5px,#8e8efc 154.5px,#8d8dfc 161px)"></i><i style="background:linear-gradient(90deg,#fffecc 0px,#fffed8 5.5px,#ffffef 8.5px,#fffffb 9.5px,#dadafe 14.5px,#bfbffd 18.5px,#bdbdfd 21.5px,#d7d7fe 25.5px,#fff 29.5px,#fffeb8 33.5px,#fffd88 37.5px,#fffc67 42.5px,#fffc63 46.5px,#fffc78 51.5px,#fffdaf 57.5px,#fffffa 63.5px,#efefff 66.5px,#9191fc 83.5px,#7171fb 93.5px,#6262fb 109.5px,#6565fb 137.5px,#7979fb 147.5px,#9090fc 154.5px,#8e8efc 161px)"></i><i style="background:linear-gradient(90deg,#fffec8 0px,#fffed4 5.5px,#ffffea 8.5px,#fdfdff 10.5px,#c1c1fd 18.5px,#bfbffd 21.5px,#d9d9fe 25.5px,#fffffb 29.5px,#fffeb3 33.5px,#fffd85 37.5px,#fffc65 42.5px,#fffc61 46.5px,#fffc75 51.5px,#fffdac 57.5px,#fdfdff 64.5px,#9393fc 83.5px,#7373fb 93.5px,#6363fb 109.5px,#6666fb 137.5px,#7a7afb 147.5px,#9292fc 154.5px,#8f8ffc 161px)"></i><i style="background:linear-gradient(90deg,#fffec5 0px,#fffed0 5.5px,#fffee4 8.5px,#fffffc 10.5px,#c4c4fd 18.5px,#c1c1fd 21.5px,#d2d2fe 24.5px,#f9f9ff 28.5px,#fffff6 29.5px,#fffdaf 33.5px,#fffd82 37.5px,#fffc63 42.5px,#fffc5f 46.5px,#fffc73 51.5px,#fffda8 57.5px,#fff 64.5px,#9595fc 83.5px,#7474fb 93.5px,#6464fb 109.5px,#6767fb 137.5px,#7b7bfb 147.5px,#9494fc 154.5px,#9090fc 161px)"></i><i style="background:linear-gradient(90deg,#fffec2 0px,#fffecc 5.5px,#fffedf 8.5px,#fcfcff 11.5px,#c6c6fd 18.5px,#c3c3fd 21.5px,#d4d4fe 24.5px,#fcfcff 28.5px,#fffdab 33.5px,#fffc7f 37.5px,#fffc61 42.5px,#fffc5d 46.5px,#fffc70 51.5px,#fffda5 57.5px,#fffffb 64.5px,#9b9bfc 82.5px,#7878fb 92.5px,#6767fb 106.5px,#6767fb 136.5px,#7979fb 146.5px,#9696fc 154.5px,#9191fc 161px)"></i><i style="background:linear-gradient(90deg,#fffebf 0px,#fffecc 6.5px,#fffee4 9.5px,#fff 11.5px,#c8c8fd 18.5px,#c5c5fd 21.5px,#d6d6fe 24.5px,#fefeff 28.5px,#fffeb5 32.5px,#fffd85 36.5px,#fffc63 41.5px,#fffc5b 46.5px,#fffc6e 51.5px,#fffda1 57.5px,#fffff7 64.5px,#fcfcff 65.5px,#9898fc 83.5px,#7777fb 93.5px,#6767fb 108.5px,#6868fb 136.5px,#7a7afb 146.5px,#9898fc 154.5px,#9292fc 161px)"></i><i style="background:linear-gradient(90deg,#fffebc 0px,#fffec8 6.5px,#fffede 9.5px,#fffff8 11.5px,#f2f2ff 13.5px,#cbcbfe 18.5px,#c7c7fd 21.5px,#d8d8fe 24.5px,#fffffc 28.5px,#fffec1 31.5px,#fffd8b 35.5px,#fffc65 40.5px,#fffc58 45.5px,#fffc66 50.5px,#fffd94 56.5px,#ffffe6 63.5px,#fefeff 65.5px,#9a9afc 83.5px,#7878fb 93.5px,#6868fb 108.5px,#6969fb 136.5px,#7b7bfb 146.5px,#9999fc 153.5px,#9393fc 161px)"></i><i style="background:linear-gradient(90deg,#fffeb9 0px,#fffec3 6.5px,#fffed9 9.5px,#fdfdff 12.5px,#cdcdfe 18.5px,#c9c9fe 21.5px,#dadafe 24.5px,#f8f8ff 27.5px,#fffff7 28.5px,#fffebc 31.5px,#fffd87 35.5px,#fffc63 40.5px,#fffc56 45.5px,#fffc64 50.5px,#fffd91 56.5px,#fffee2 63.5px,#fffffd 65.5px,#9797fc 84.5px,#7777fb 94.5px,#6868fb 110.5px,#6b6bfb 137.5px,#7c7cfb 146.5px,#9b9bfc 153.5px,#9595fc 159.5px,#9494fc 161px)"></i><i style="background:linear-gradient(90deg,#fffeb4 0px,#fffebe 6.5px,#fffed2 9.5px,#fffffa 12.5px,#f0f0ff 14.5px,#d0d0fe 18.5px,#ccccfe 21.5px,#ddddfe 24.5px,#fcfcff 27.5px,#fffda6 32.5px,#fffc7a 36.5px,#fffc5c 41.5px,#fffc55 46.5px,#fffc66 51.5px,#fffd96 57.5px,#ffffea 64.5px,#fcfcff 66.5px,#9a9afc 84.5px,#7979fb 94.5px,#6a6afb 109.5px,#6c6cfb 137.5px,#7d7dfb 146.5px,#9e9efc 153.5px,#9999fc 158.5px,#9595fc 161px)"></i><i style="background:linear-gradient(90deg,#fffdae 0px,#fffeb6 6.5px,#fffec8 9.5px,#ffe 12.5px,#fff 13.5px,#d5d5fe 18.5px,#d0d0fe 21.5px,#e2e2fe 24.5px,#fffffa 27.5px,#fffebd 30.5px,#fffd92 33.5px,#fffc69 38.5px,#fffc54 43.5px,#fffc56 48.5px,#fffc6f 53.5px,#fffda5 59.5px,#fffffd 66.5px,#9595fc 86.5px,#7878fb 96.5px,#6a6afb 113.5px,#6e6efb 138.5px,#7e7efb 146.5px,#a3a3fc 153.5px,#9f9ffc 157.5px,#9696fc 161px)"></i><i style="background:linear-gradient(90deg,#fffda8 0px,#fffdb2 7.5px,#fffec7 10.5px,#fcfcff 14.5px,#dadafe 18.5px,#d5d5fe 21.5px,#e7e7fe 24.5px,#fcfcff 26.5px,#fffda4 31.5px,#fffc7a 35.5px,#fffc57 41.5px,#fffc50 46.5px,#fffc5f 51.5px,#fffd8b 57.5px,#fffecd 63.5px,#fefeff 67.5px,#9999fc 86.5px,#7a7afb 96.5px,#6b6bfb 112.5px,#6f6ffb 138.5px,#8080fc 146.5px,#a8a8fd 153.5px,#a2a2fc 157.5px,#9898fc 161px)"></i><i style="background:linear-gradient(90deg,#fffda2 0px,#fffdaa 7.5px,#fffebd 10.5px,#ffffe7 13.5px,#fffffa 14.5px,#e6e6fe 17.5px,#d8d8fe 20.5px,#e4e4fe 23.5px,#fffffa 26.5px,#fffebb 29.5px,#fffd90 32.5px,#fffc68 37.5px,#fffc4f 43.5px,#fffc51 48.5px,#fffc6d 54.5px,#fffda2 60.5px,#fffffa 67.5px,#efefff 70.5px,#9494fc 88.5px,#7777fb 99.5px,#6b6bfb 119.5px,#7272fb 140.5px,#8181fc 146.5px,#adadfd 153.5px,#aaaafd 156.5px,#9a9afc 161px)"></i><i style="background:linear-gradient(90deg,#fffd9c 0px,#fffda2 7.5px,#fffeb3 10.5px,#fffedb 13.5px,#fefeff 15.5px,#dfdffe 19.5px,#e2e2fe 22.5px,#fcfcff 25.5px,#fffed8 27.5px,#fffda1 30.5px,#fffd80 33.5px,#fffc5b 39.5px,#fffb4b 45.5px,#fffc54 50.5px,#fffc77 56.5px,#fffdb2 62.5px,#fff 68.5px,#9898fc 88.5px,#7979fb 99.5px,#6d6dfb 118.5px,#7272fb 139.5px,#8383fc 146.5px,#b2b2fd 153.5px,#aeaefd 156.5px,#9b9bfc 161px)"></i><i style="background:linear-gradient(90deg,#fffd96 0px,#fffd9e 8.5px,#fffeb3 11.5px,#fffee1 14.5px,#fffff6 15.5px,#fafaff 16.5px,#e4e4fe 19.5px,#e7e7fe 22.5px,#fffffa 25.5px,#fffeb9 28.5px,#fffd8c 31.5px,#fffc67 36.5px,#fffb4b 43.5px,#fffb4c 48.5px,#fffc65 54.5px,#fffd95 60.5px,#ffffea 67.5px,#fcfcff 69.5px,#9898fc 89.5px,#7a7afb 100.5px,#6e6efb 119.5px,#7575fb 140.5px,#8484fc 146.5px,#b7b7fd 153.5px,#b2b2fd 156.5px,#9d9dfc 161px)"></i><i style="background:linear-gradient(90deg,#fffd90 0px,#fffd96 8.5px,#fffda8 11.5px,#fffed5 14.5px,#fffffe 16.5px,#e8e8fe 19.5px,#ebebfe 22.5px,#fcfcff 24.5px,#fffed7 26.5px,#fffd9e 29.5px,#fffc7c 32.5px,#fffc55 39.5px,#fffb47 45.5px,#fffc52 51.5px,#fffc75 57.5px,#fffdaf 63.5px,#fffffd 69.5px,#9797fc 90.5px,#7a7afb 101.5px,#6f6ffb 121.5px,#7676fb 140.5px,#8686fc 146.5px,#bdbdfd 153.5px,#b6b6fd 156.5px,#9f9ffc 161px)"></i><i style="background:linear-gradient(90deg,#fffd8a 0px,#fffd8e 8.5px,#fffd9e 11.5px,#fffec9 14.5px,#fffff2 16.5px,#fbfbff 17.5px,#ebebfe 20.5px,#f8f8ff 23.5px,#fffff9 24.5px,#fffda3 28.5px,#fffc7e 31.5px,#fffc5b 37.5px,#fffb45 44.5px,#fffb4b 50.5px,#fffc69 56.5px,#fffd9c 62.5px,#fefeff 70.5px,#9797fc 91.5px,#7b7bfb 102.5px,#7070fb 123.5px,#7878fb 141.5px,#8888fc 146.5px,#c2c2fd 153.5px,#bbbbfd 156.5px,#a0a0fc 161px)"></i><i style="background:linear-gradient(90deg,#fffd83 0px,#fffd89 9.5px,#fffd9c 12.5px,#fffecc 15.5px,#fffff6 17.5px,#fbfbff 18.5px,#f2f2ff 20.5px,#fffffe 23.5px,#fffda8 27.5px,#fffc7e 30.5px,#fffc60 35.5px,#fffb40 44.5px,#fffb43 49.5px,#fffc63 56.5px,#fffd95 62.5px,#fffff9 70.5px,#f6f6ff 72.5px,#9999fc 92.5px,#7e7efb 103.5px,#7373fb 124.5px,#7b7bfb 141.5px,#8b8bfc 146.5px,#c2c2fd 152.5px,#c8c8fe 154.5px,#b0b0fd 158.5px,#a3a3fc 161px)"></i><i style="background:linear-gradient(90deg,#fffc7c 0px,#fffd80 9.5px,#fffd90 12.5px,#fffebc 15.5px,#fffff7 18.5px,#fdfdff 19.5px,#fbfbff 21.5px,#fffffe 22.5px,#fffec3 25.5px,#fffd8b 28.5px,#fffc6e 31.5px,#fffb3d 43.5px,#fffb3b 48.5px,#fffc58 55.5px,#fffd84 61.5px,#fffec9 67.5px,#fffffe 71.5px,#9f9ffc 92.5px,#8181fc 104.5px,#7676fb 125.5px,#7e7efb 141.5px,#8e8efc 146.5px,#b4b4fd 150.5px,#cdcdfe 153.5px,#cbcbfe 155.5px,#a6a6fd 161px)"></i><i style="background:linear-gradient(90deg,#fffc75 0px,#fffc7a 10.5px,#fffd8e 13.5px,#fffec0 16.5px,#ffffe6 18.5px,#fffff3 19.5px,#fffff9 20.5px,#fffff7 21.5px,#fffedc 23.5px,#fffd8e 27.5px,#fffc6e 30.5px,#fffb36 44.5px,#fffb38 49.5px,#fffc5f 57.5px,#fffd90 63.5px,#fefeff 72.5px,#a5a5fd 92.5px,#8686fc 104.5px,#7a7afb 124.5px,#8181fc 141.5px,#9191fc 146.5px,#b9b9fd 150.5px,#d3d3fe 153.5px,#d0d0fe 155.5px,#a9a9fd 161px)"></i><i style="background:linear-gradient(90deg,#fffc6e 0px,#fffc72 10.5px,#fffd82 13.5px,#fffdaf 16.5px,#fffed5 18.5px,#fffee2 19.5px,#ffffe8 20.5px,#ffffe6 21.5px,#fffecc 23.5px,#fffd81 27.5px,#fffc66 30.5px,#fffb31 44.5px,#fffb32 49.5px,#fffc59 57.5px,#fffd88 63.5px,#fffed2 69.5px,#fffff9 72.5px,#f6f6ff 74.5px,#a0a0fc 95.5px,#8585fc 108.5px,#7d7dfb 131.5px,#8888fc 143.5px,#9c9cfc 147.5px,#d3d3fe 152.5px,#dadafe 154.5px,#c5c5fd 157.5px,#acacfd 161px)"></i><i style="background:linear-gradient(90deg,#fffc67 0px,#fffc6c 11.5px,#fffd80 14.5px,#fffed1 19.5px,#fffed8 20.5px,#fffed6 21.5px,#fffebb 23.5px,#fffd83 26.5px,#fffc64 29.5px,#fffb2a 45.5px,#fffb30 50.5px,#fffc67 60.5px,#fffd95 65.5px,#fffffe 73.5px,#b0b0fd 92.5px,#8e8efc 105.5px,#8080fc 124.5px,#8787fc 141.5px,#9797fc 146.5px,#b5b5fd 149.5px,#d9d9fe 152.5px,#dfdffe 154.5px,#c9c9fe 157.5px,#afaffd 161px)"></i><i style="background:linear-gradient(90deg,#fffc60 0px,#fffc63 11.5px,#fffc74 14.5px,#fffda2 17.5px,#fffec1 19.5px,#fffec7 20.5px,#fffec5 21.5px,#fffdab 23.5px,#fffc76 26.5px,#fffc5c 29.5px,#fffb24 45.5px,#fffb2b 50.5px,#fffc68 61.5px,#fffd98 66.5px,#fefeff 74.5px,#b5b5fd 92.5px,#9292fc 105.5px,#8484fc 123.5px,#8a8afc 141.5px,#9a9afc 146.5px,#b9b9fd 149.5px,#dedefe 152.5px,#e5e5fe 154.5px,#cecefe 157.5px,#b2b2fd 161px)"></i><i style="background:linear-gradient(90deg,#fffc5a 0px,#fffc5d 12.5px,#fffc72 15.5px,#fffdb0 19.5px,#fffeb6 20.5px,#fffeb5 21.5px,#fffd9b 23.5px,#fffc6a 26.5px,#fffc55 29.5px,#fffb31 40.5px,#fffb1e 46.5px,#fffb2a 51.5px,#fffc68 62.5px,#fffd9b 67.5px,#fffff9 74.5px,#f7f7ff 76.5px,#a7a7fd 98.5px,#8d8dfc 112.5px,#8787fc 134.5px,#9393fc 144.5px,#a6a6fd 147.5px,#e4e4fe 152.5px,#ebebfe 154.5px,#ddddfe 156.5px,#b4b4fd 161px)"></i><i style="background:linear-gradient(90deg,#fffc53 0px,#fffc55 12.5px,#fffc66 15.5px,#fffd9f 19.5px,#fffda6 20.5px,#fffda4 21.5px,#fffd8b 23.5px,#fffc5f 26.5px,#fffc4e 29.5px,#fffb34 38.5px,#fffa14 45.5px,#fffa17 49.5px,#fffc65 63.5px,#fffd97 68.5px,#fffff7 75.5px,#fdfdff 76.5px,#c4c4fd 91.5px,#9b9bfc 106.5px,#8b8bfc 124.5px,#9090fc 141.5px,#9b9bfc 145.5px,#b4b4fd 148.5px,#e9e9fe 152.5px,#f0f0ff 154.5px,#e1e1fe 156.5px,#b7b7fd 161px)"></i><i style="background:linear-gradient(90deg,#fffb4c 0px,#fffc4f 13.5px,#fffc66 16.5px,#fffd8f 19.5px,#fffd95 20.5px,#fffd93 21.5px,#fffc7c 23.5px,#fffc55 26.5px,#fffb45 30.5px,#fffb2e 38.5px,#fffa07 45.5px,#fffa07 48.5px,#fffc69 65.5px,#fffd9e 70.5px,#fff 77.5px,#d1d1fe 89.5px,#a0a0fc 107.5px,#9090fc 125.5px,#9595fc 142.5px,#a4a4fd 146.5px,#c5c5fd 149.5px,#ededfe 152.5px,#f4f4ff 154.5px,#e5e5fe 156.5px,#babafd 161px)"></i><i style="background:linear-gradient(90deg,#fffb45 0px,#fffb47 13.5px,#fffc59 16.5px,#fffc7f 19.5px,#fffd84 20.5px,#fffd83 21.5px,#fffb4b 26.5px,#fffb3c 32.5px,#fffb27 38.5px,#fff900 44.5px,#fef200 47.5px,#fffa03 50.5px,#fffb38 58.5px,#fffc63 66.5px,#fffd8b 70.5px,#fffffa 78.5px,#f2f2ff 81.5px,#b2b2fd 102.5px,#9898fc 118.5px,#9595fc 138.5px,#a2a2fc 145.5px,#bbbbfd 148.5px,#f1f1ff 152.5px,#f8f8ff 154.5px,#e8e8fe 156.5px,#bdbdfd 161px)"></i><i style="background:linear-gradient(90deg,#fffb3e 0px,#fffb42 14.5px,#fffc58 17.5px,#fffc6e 19.5px,#fffc72 21.5px,#fffb42 26.5px,#fffb2a 36.5px,#fffa01 42.5px,#fde500 46.5px,#feeb00 49.5px,#fff900 51.5px,#fffb31 58.5px,#fffc5d 67.5px,#fffd83 71.5px,#fffff4 79.5px,#fefeff 80.5px,#d8d8fe 90.5px,#a8a8fd 110.5px,#9898fc 129.5px,#9f9ffc 143.5px,#ababfd 146.5px,#cbcbfe 149.5px,#f5f5ff 152.5px,#fdfdff 154.5px,#ececfe 156.5px,#c0c0fd 161px)"></i><i style="background:linear-gradient(90deg,#fffb37 0px,#fffb39 14.5px,#fffb4b 17.5px,#fffc63 20.5px,#fffc5b 22.5px,#fffb3f 25.5px,#fffb33 30.5px,#fffb24 36.5px,#fff900 41.5px,#fddb00 45.5px,#fcda00 48.5px,#fff600 52.5px,#fffb29 58.5px,#fffc57 68.5px,#fffc7c 72.5px,#fffffb 81.5px,#d8d8fe 92.5px,#aaaafd 113.5px,#9c9cfc 133.5px,#a5a5fd 144.5px,#b7b7fd 147.5px,#f9f9ff 152.5px,#fffffa 154.5px,#efefff 156.5px,#c3c3fd 161px)"></i><i style="background:linear-gradient(90deg,#fffb30 0px,#fffb34 15.5px,#fffc52 20.5px,#fffb4b 22.5px,#fffb31 26.5px,#fffb21 35.5px,#fff900 40.5px,#fccf00 45.5px,#fbcd00 48.5px,#feeb00 52.5px,#fffa04 54.5px,#fffb27 59.5px,#fffc50 69.5px,#fffc74 73.5px,#fffecb 79.5px,#fffff5 82.5px,#fefeff 83.5px,#ddddfe 92.5px,#aeaefd 114.5px,#a1a1fc 134.5px,#a9a9fd 144.5px,#bbbbfd 147.5px,#fefeff 152.5px,#fffff1 153.5px,#fffff1 154.5px,#fff 155.5px,#cecefe 159.5px,#c6c6fd 161px)"></i><i style="background:linear-gradient(90deg,#fffb29 0px,#fffb2b 15.5px,#fffb41 20.5px,#fffb2a 26.5px,#fffb1e 34.5px,#fff900 39.5px,#fac200 45.5px,#fac000 48.5px,#fde000 52.5px,#fffa04 55.5px,#fffb24 60.5px,#fffb4a 70.5px,#fffc6c 74.5px,#fffeb3 79.5px,#fffffc 84.5px,#dcdcfe 94.5px,#b0b0fd 117.5px,#a6a6fd 137.5px,#adadfd 144.5px,#bebefd 147.5px,#f4f4ff 151.5px,#fffff9 152.5px,#ffffe7 153.5px,#ffffe7 154.5px,#fffff7 155.5px,#f6f6ff 156.5px,#d1d1fe 159.5px,#c9c9fe 161px)"></i><i style="background:linear-gradient(90deg,#fffb22 0px,#fffb25 16.5px,#fffb34 20.5px,#fffb22 27.5px,#fffa17 34.5px,#fff800 38.5px,#fabb00 44.5px,#f9af00 47.5px,#fabf00 50.5px,#fff400 55.5px,#fffa0b 57.5px,#fffb23 62.5px,#fffb41 71.5px,#fffc61 75.5px,#fffd97 79.5px,#fffff3 85.5px,#fff 86.5px,#dfdffe 95.5px,#b5b5fd 118.5px,#aaaafd 137.5px,#b1b1fd 144.5px,#c2c2fd 147.5px,#e8e8fe 150.5px,#f8f8ff 151.5px,#fffff0 152.5px,#fffede 153.5px,#fffede 154.5px,#f9f9ff 156.5px,#d4d4fe 159.5px,#cbcbfe 161px)"></i><i style="background:linear-gradient(90deg,#fffb1c 0px,#fffb1f 16.5px,#fffb2b 21.5px,#fffb1c 27.5px,#fffa0f 34.5px,#fff600 37.5px,#f9ab00 44.5px,#f89f00 47.5px,#f9b000 50.5px,#fffa01 57.5px,#fffb1b 62.5px,#fffb38 72.5px,#fffc53 76.5px,#fffd85 80.5px,#fffff2 87.5px,#fffffe 88.5px,#e0e0fe 97.5px,#b7b7fd 121.5px,#afaffd 139.5px,#b8b8fd 145.5px,#cfcffe 148.5px,#fbfbff 151.5px,#fffed6 153.5px,#fffed6 154.5px,#fcfcff 156.5px,#d6d6fe 159.5px,#cecefe 161px)"></i><i style="background:linear-gradient(90deg,#fffa16 0px,#fffb1a 17.5px,#fffb22 21.5px,#fffa15 28.5px,#fffa06 34.5px,#fef300 36.5px,#fabd00 41.5px,#f79500 45.5px,#f79200 48.5px,#f9ab00 51.5px,#fef000 57.5px,#fffa05 59.5px,#fffb1b 65.5px,#fffb33 74.5px,#fffc4f 78.5px,#fffd82 82.5px,#fffff1 89.5px,#fffffd 90.5px,#e1e1fe 99.5px,#babafd 124.5px,#b5b5fd 141.5px,#c1c1fd 146.5px,#dfdffe 149.5px,#fefeff 151.5px,#fffee2 152.5px,#fffece 153.5px,#fffecf 154.5px,#fffee3 155.5px,#fefeff 156.5px,#d8d8fe 159.5px,#d1d1fe 161px)"></i><i style="background:linear-gradient(90deg,#fffa11 0px,#fffa13 17.5px,#fffb1a 21.5px,#fffa06 32.5px,#fef100 35.5px,#fbc800 39.5px,#f68c00 44.5px,#f58000 47.5px,#f79100 50.5px,#fde500 57.5px,#fffa02 60.5px,#fffa16 66.5px,#fffb2a 75.5px,#fffb42 79.5px,#fffc6f 83.5px,#ffffef 91.5px,#fffffb 92.5px,#e1e1fe 102.5px,#bdbdfd 127.5px,#babafd 142.5px,#c5c5fd 146.5px,#e1e1fe 149.5px,#fffffc 151.5px,#fffedb 152.5px,#fffec6 153.5px,#fffec7 154.5px,#fffedc 155.5px,#fffffc 156.5px,#dbdbfe 159.5px,#d3d3fe 161px)"></i><i style="background:linear-gradient(90deg,#fffa0b 0px,#fffa0f 18.5px,#fffa10 22.5px,#fff800 32.5px,#fddd00 36.5px,#f57d00 44.5px,#f47000 47.5px,#f58100 50.5px,#fde300 58.5px,#fff800 61.5px,#fffa14 70.5px,#fffb29 78.5px,#fffb46 82.5px,#fffc7c 86.5px,#fffee0 92.5px,#fffffa 94.5px,#f4f4ff 97.5px,#d5d5fe 112.5px,#bebefd 135.5px,#c1c1fd 144.5px,#cfcffe 147.5px,#f3f3ff 150.5px,#fffff6 151.5px,#fffed3 152.5px,#fffebe 153.5px,#fffebf 154.5px,#fffed6 155.5px,#fffff7 156.5px,#f4f4ff 157.5px,#d6d6fe 161px)"></i><i style="background:linear-gradient(90deg,#fffa05 0px,#fffa09 19.5px,#fff700 30.5px,#fde300 34.5px,#fab900 38.5px,#f57700 43.5px,#f36200 46.5px,#f36900 49.5px,#f79700 53.5px,#fcd700 58.5px,#fff400 62.5px,#fffa08 67.5px,#fffb1b 78.5px,#fffb38 83.5px,#fffc69 87.5px,#fffede 94.5px,#fffff8 96.5px,#f9f9ff 98.5px,#dfdffe 109.5px,#c3c3fd 134.5px,#c5c5fd 144.5px,#d3d3fe 147.5px,#f5f5ff 150.5px,#fffff0 151.5px,#fffecc 152.5px,#fffeb5 153.5px,#fffeb7 154.5px,#fffecf 155.5px,#fffff1 156.5px,#f6f6ff 157.5px,#d8d8fe 161px)"></i><i style="background:linear-gradient(90deg,#fff900 0px,#fff700 26.5px,#fde600 32.5px,#fbc400 36.5px,#f36700 43.5px,#f25200 46.5px,#f25900 49.5px,#f57900 52.5px,#fbcb00 58.5px,#feeb00 62.5px,#fffa01 67.5px,#fffa16 80.5px,#fffb34 85.5px,#fffc65 89.5px,#fffedc 96.5px,#fefeff 99.5px,#e5e5fe 108.5px,#c8c8fd 135.5px,#cacafe 144.5px,#d6d6fe 147.5px,#f8f8ff 150.5px,#ffffe9 151.5px,#fffec5 152.5px,#fffdad 153.5px,#fffdaf 154.5px,#fffec8 155.5px,#ffffec 156.5px,#f8f8ff 157.5px,#dbdbfe 161px)"></i><i style="background:linear-gradient(90deg,#fef300 0px,#feef00 27.5px,#fddc00 32.5px,#fab700 36.5px,#f25800 43.5px,#f04200 46.5px,#f14a00 49.5px,#f36a00 52.5px,#fabe00 58.5px,#fde200 62.5px,#fff500 68.5px,#fffa08 79.5px,#fffb1f 85.5px,#fffb45 89.5px,#fffd84 93.5px,#fffeda 98.5px,#fff 101.5px,#e7e7fe 110.5px,#ccccfe 137.5px,#d0d0fe 145.5px,#e2e2fe 148.5px,#fbfbff 150.5px,#fffee3 151.5px,#fffebd 152.5px,#fffda5 153.5px,#fffda7 154.5px,#fffec2 155.5px,#ffffe7 156.5px,#fafaff 157.5px,#dedefe 161px)"></i></div>
<div class="hm" style="left:256.0px;top:216.5px"><i style="background:linear-gradient(90deg,#fdfdff 0px,#e2e2fe 6.5px,#a0a0fc 15.5px,#9898fc 19.5px,#a8a8fd 23.5px,#fdfdff 33.5px,#fffeb6 39.5px,#fffd98 43.5px,#fffd92 47.5px,#fffda6 51.5px,#fffeda 56.5px,#fefeff 59.5px,#9e9efc 75.5px,#7a7afb 85.5px,#6868fb 99.5px,#6868fb 135.5px,#7f7ffb 149.5px,#8f8ffc 161px)"></i><i style="background:linear-gradient(90deg,#fdfdff 0px,#e2e2fe 6.5px,#a0a0fc 15.5px,#9898fc 19.5px,#a9a9fd 23.5px,#fdfdff 33.5px,#fffeb5 39.5px,#fffd96 43.5px,#fffd90 47.5px,#fffda4 51.5px,#fffed7 56.5px,#fff 59.5px,#a0a0fc 75.5px,#7b7bfb 85.5px,#6969fb 99.5px,#6868fb 135.5px,#7f7ffb 149.5px,#8f8ffc 161px)"></i><i style="background:linear-gradient(90deg,#fdfdff 0px,#e3e3fe 6.5px,#a0a0fc 15.5px,#9898fc 19.5px,#a9a9fd 23.5px,#fefeff 33.5px,#fffeb3 39.5px,#fffd95 43.5px,#fffd8e 47.5px,#fffda1 51.5px,#fffed5 56.5px,#fffffc 59.5px,#9c9cfc 76.5px,#7979fb 86.5px,#6868fb 101.5px,#6969fb 136.5px,#8f8ffc 161px)"></i><i style="background:linear-gradient(90deg,#fefeff 0px,#e3e3fe 6.5px,#a0a0fc 15.5px,#9898fc 19.5px,#a9a9fd 23.5px,#fefeff 33.5px,#fffebc 38.5px,#fffd98 42.5px,#fffd8b 46.5px,#fffd98 50.5px,#fffec6 55.5px,#fffff9 59.5px,#f5f5ff 61.5px,#9e9efc 76.5px,#7a7afb 86.5px,#6969fb 100.5px,#6969fb 135.5px,#7f7ffb 149.5px,#8f8ffc 161px)"></i><i style="background:linear-gradient(90deg,#fefeff 0px,#e3e3fe 6.5px,#a0a0fc 15.5px,#9898fc 19.5px,#a9a9fd 23.5px,#fff 33.5px,#fffebb 38.5px,#fffd97 42.5px,#fffd8a 46.5px,#fffd96 50.5px,#fffec3 55.5px,#fdfdff 60.5px,#9f9ffc 76.5px,#7b7bfb 86.5px,#6969fb 100.5px,#6969fb 135.5px,#8080fc 149.5px,#9090fc 161px)"></i><i style="background:linear-gradient(90deg,#fefeff 0px,#e3e3fe 6.5px,#a0a0fc 15.5px,#9898fc 19.5px,#a9a9fd 23.5px,#fffffe 33.5px,#fffeb9 38.5px,#fffd95 42.5px,#fffd88 46.5px,#fffd94 50.5px,#fffec1 55.5px,#fefeff 60.5px,#a0a0fc 76.5px,#7c7cfb 86.5px,#6a6afb 100.5px,#6969fb 135.5px,#8080fc 149.5px,#9090fc 161px)"></i><i style="background:linear-gradient(90deg,#fff 0px,#e4e4fe 6.5px,#a0a0fc 15.5px,#9898fc 19.5px,#a9a9fd 23.5px,#fffffd 33.5px,#fffeb8 38.5px,#fffd93 42.5px,#fffd86 46.5px,#fffd92 50.5px,#fffebe 55.5px,#fffffe 60.5px,#9d9dfc 77.5px,#7a7afb 87.5px,#6969fb 102.5px,#6a6afb 136.5px,#9090fc 161px)"></i><i style="background:linear-gradient(90deg,#fff 0px,#e4e4fe 6.5px,#a0a0fc 15.5px,#9898fc 19.5px,#a9a9fd 23.5px,#fffffc 33.5px,#fffeb6 38.5px,#fffd92 42.5px,#fffd84 46.5px,#fffd90 50.5px,#fffebc 55.5px,#fffffb 60.5px,#dbdbfe 66.5px,#9191fc 80.5px,#7575fb 90.5px,#6868fb 108.5px,#6b6bfb 137.5px,#9090fc 161px)"></i><i style="background:linear-gradient(90deg,#fffffe 0px,#e4e4fe 6.5px,#a0a0fc 15.5px,#9898fc 19.5px,#a9a9fd 23.5px,#f9f9ff 32.5px,#fffffb 33.5px,#fffeb4 38.5px,#fffd90 42.5px,#fffd82 46.5px,#fffd8e 50.5px,#fffeba 55.5px,#fffff8 60.5px,#fcfcff 61.5px,#9b9bfc 78.5px,#7979fb 88.5px,#6969fb 103.5px,#6b6bfb 136.5px,#9090fc 161px)"></i><i style="background:linear-gradient(90deg,#fffffe 0px,#ebebfe 5.5px,#a0a0fc 15.5px,#9898fc 19.5px,#a9a9fd 23.5px,#fafaff 32.5px,#fffffa 33.5px,#fffeb3 38.5px,#fffd8e 42.5px,#fffd80 46.5px,#fffd8c 50.5px,#fffeb7 55.5px,#fdfdff 61.5px,#9c9cfc 78.5px,#7a7afb 88.5px,#6a6afb 103.5px,#6b6bfb 136.5px,#9090fc 161px)"></i><i style="background:linear-gradient(90deg,#fffffd 0px,#ebebfe 5.5px,#a0a0fc 15.5px,#9898fc 19.5px,#aaaafd 23.5px,#fafaff 32.5px,#fffff8 33.5px,#fffdb1 38.5px,#fffd8d 42.5px,#fffc7e 46.5px,#fffd8a 50.5px,#fffeb5 55.5px,#fff 61.5px,#9e9efc 78.5px,#7b7bfb 88.5px,#6a6afb 103.5px,#6b6bfb 136.5px,#9191fc 161px)"></i><i style="background:linear-gradient(90deg,#fffffc 0px,#ebebfe 5.5px,#a1a1fc 15.5px,#9898fc 19.5px,#aaaafd 23.5px,#fbfbff 32.5px,#fffff7 33.5px,#fffdb0 38.5px,#fffd8b 42.5px,#fffc7d 46.5px,#fffd88 50.5px,#fffdb2 55.5px,#fffffd 61.5px,#9b9bfc 79.5px,#7a7afb 89.5px,#6a6afb 104.5px,#6b6bfb 136.5px,#9191fc 161px)"></i><i style="background:linear-gradient(90deg,#fffffb 0px,#ebebfe 5.5px,#a1a1fc 15.5px,#9898fc 19.5px,#aaaafd 23.5px,#fbfbff 32.5px,#fffff6 33.5px,#fffdae 38.5px,#fffd89 42.5px,#fffc7b 46.5px,#fffd86 50.5px,#fffdb0 55.5px,#fffffa 61.5px,#efefff 64.5px,#9797fc 80.5px,#7878fb 90.5px,#6a6afb 106.5px,#6c6cfb 137.5px,#9191fc 161px)"></i><i style="background:linear-gradient(90deg,#fffffb 0px,#ececfe 5.5px,#a1a1fc 15.5px,#9898fc 19.5px,#aaaafd 23.5px,#fcfcff 32.5px,#fffee4 34.5px,#fffda2 39.5px,#fffd82 43.5px,#fffc7a 47.5px,#fffd8a 51.5px,#fffeb9 56.5px,#fffff7 61.5px,#fcfcff 62.5px,#9d9dfc 79.5px,#7b7bfb 89.5px,#6b6bfb 104.5px,#6c6cfb 136.5px,#9191fc 161px)"></i><i style="background:linear-gradient(90deg,#fffffa 0px,#f7f7ff 3.5px,#cecefe 9.5px,#a1a1fc 15.5px,#9898fc 19.5px,#aaaafd 23.5px,#fcfcff 32.5px,#fffdab 38.5px,#fffd86 42.5px,#fffc77 46.5px,#fffd82 50.5px,#fffdab 55.5px,#fefeff 62.5px,#9f9ffc 79.5px,#7c7cfb 89.5px,#6b6bfb 104.5px,#6c6cfb 136.5px,#9191fc 161px)"></i><i style="background:linear-gradient(90deg,#fffff8 0px,#fcfcff 2.5px,#d8d8fe 8.5px,#a1a1fc 15.5px,#9898fc 19.5px,#aaaafd 23.5px,#fdfdff 32.5px,#fffda9 38.5px,#fffd83 42.5px,#fffc75 46.5px,#fffc7f 50.5px,#fffda8 55.5px,#fffffe 62.5px,#9b9bfc 80.5px,#7b7bfb 90.5px,#6b6bfb 106.5px,#6d6dfb 137.5px,#9292fc 161px)"></i><i style="background:linear-gradient(90deg,#fffff6 0px,#f9f9ff 3.5px,#d0d0fe 9.5px,#a2a2fc 15.5px,#9999fc 19.5px,#ababfd 23.5px,#fefeff 32.5px,#fffdb2 37.5px,#fffd88 41.5px,#fffc73 45.5px,#fffc77 49.5px,#fffd9a 54.5px,#ffffed 61.5px,#fffffa 62.5px,#efefff 65.5px,#9999fc 81.5px,#7a7afb 91.5px,#6b6bfb 107.5px,#6e6efb 137.5px,#9292fc 161px)"></i><i style="background:linear-gradient(90deg,#fffff4 0px,#fefeff 2.5px,#dadafe 8.5px,#a3a3fc 15.5px,#9999fc 19.5px,#ababfd 23.5px,#fff 32.5px,#fffdb0 37.5px,#fffd85 41.5px,#fffc70 45.5px,#fffc74 49.5px,#fffd97 54.5px,#ffffe9 61.5px,#fdfdff 63.5px,#9e9efc 80.5px,#7d7dfb 90.5px,#6c6cfb 105.5px,#6d6dfb 136.5px,#9292fc 161px)"></i><i style="background:linear-gradient(90deg,#fffff2 0px,#fff 2.5px,#dbdbfe 8.5px,#a4a4fc 15.5px,#9a9afc 19.5px,#ababfd 23.5px,#fffffd 32.5px,#fffdad 37.5px,#fffd82 41.5px,#fffc6d 45.5px,#fffc71 49.5px,#fffd93 54.5px,#fffee5 61.5px,#fff 63.5px,#a0a0fc 80.5px,#7e7efb 90.5px,#6d6dfb 105.5px,#6e6efb 136.5px,#9393fc 161px)"></i><i style="background:linear-gradient(90deg,#fffff0 0px,#fcfcff 3.5px,#d4d4fe 9.5px,#a4a4fd 15.5px,#9a9afc 19.5px,#acacfd 23.5px,#fffffb 32.5px,#fffeb8 36.5px,#fffd88 40.5px,#fffc6d 44.5px,#fffc6b 48.5px,#fffc7f 52.5px,#fffebb 58.5px,#fffffc 63.5px,#9d9dfc 81.5px,#7c7cfb 91.5px,#6d6dfb 107.5px,#6f6ffb 137.5px,#9393fc 161px)"></i><i style="background:linear-gradient(90deg,#ffe 0px,#fdfdff 3.5px,#d5d5fe 9.5px,#a5a5fd 15.5px,#9b9bfc 19.5px,#acacfd 23.5px,#f8f8ff 31.5px,#fffffa 32.5px,#fffeb6 36.5px,#fffd85 40.5px,#fffc6a 44.5px,#fffc68 48.5px,#fffc7c 52.5px,#fffeb7 58.5px,#fffff8 63.5px,#fcfcff 64.5px,#9e9efc 81.5px,#7d7dfb 91.5px,#6d6dfb 106.5px,#6f6ffb 136.5px,#9393fc 161px)"></i><i style="background:linear-gradient(90deg,#ffffeb 0px,#fefeff 3.5px,#d6d6fe 9.5px,#a6a6fd 15.5px,#9b9bfc 19.5px,#acacfd 23.5px,#f9f9ff 31.5px,#fffff8 32.5px,#fffeb3 36.5px,#fffd82 40.5px,#fffc67 44.5px,#fffc65 48.5px,#fffc78 52.5px,#fffeb4 58.5px,#fefeff 64.5px,#a0a0fc 81.5px,#7e7efb 91.5px,#6e6efb 106.5px,#6f6ffb 136.5px,#9494fc 161px)"></i><i style="background:linear-gradient(90deg,#ffffe9 0px,#fff 3.5px,#d7d7fe 9.5px,#a7a7fd 15.5px,#9c9cfc 19.5px,#adadfd 23.5px,#fafaff 31.5px,#fffff6 32.5px,#fffdb1 36.5px,#fffd80 40.5px,#fffc64 44.5px,#fffc62 48.5px,#fffc75 52.5px,#fffdb0 58.5px,#fffffd 64.5px,#a1a1fc 81.5px,#7f7ffb 91.5px,#6f6ffb 106.5px,#7070fb 136.5px,#9494fc 161px)"></i><i style="background:linear-gradient(90deg,#ffffe7 0px,#fffffd 3.5px,#e0e0fe 8.5px,#a7a7fd 15.5px,#9c9cfc 19.5px,#adadfd 23.5px,#fbfbff 31.5px,#fffff4 32.5px,#fffdae 36.5px,#fffc7d 40.5px,#fffc61 44.5px,#fffc5f 48.5px,#fffc72 52.5px,#fffdac 58.5px,#fffff9 64.5px,#f5f5ff 66.5px,#9e9efc 82.5px,#7e7efb 92.5px,#6e6efb 108.5px,#7171fb 137.5px,#9494fc 161px)"></i><i style="background:linear-gradient(90deg,#fffee5 0px,#fcfcff 4.5px,#c7c7fd 11.5px,#a3a3fc 16.5px,#9d9dfc 19.5px,#adadfd 23.5px,#fcfcff 31.5px,#fffede 33.5px,#fffd9d 37.5px,#fffc71 41.5px,#fffc5c 45.5px,#fffc5f 49.5px,#fffc7f 54.5px,#fffece 61.5px,#fdfdff 65.5px,#a4a4fd 81.5px,#8181fc 91.5px,#7070fb 105.5px,#7171fb 136.5px,#9595fc 161px)"></i><i style="background:linear-gradient(90deg,#fffee3 0px,#fdfdff 4.5px,#d1d1fe 10.5px,#a4a4fc 16.5px,#9d9dfc 19.5px,#aeaefd 23.5px,#fcfcff 31.5px,#fffd9a 37.5px,#fffc6e 41.5px,#fffc59 45.5px,#fffc5b 49.5px,#fffc7b 54.5px,#fffeca 61.5px,#fff 65.5px,#a6a6fd 81.5px,#8282fc 91.5px,#7171fb 105.5px,#7171fb 136.5px,#9595fc 161px)"></i><i style="background:linear-gradient(90deg,#fffee1 0px,#fefeff 4.5px,#d2d2fe 10.5px,#a4a4fd 16.5px,#9e9efc 19.5px,#aeaefd 23.5px,#fdfdff 31.5px,#fffda6 36.5px,#fffc74 40.5px,#fffc59 44.5px,#fffc56 48.5px,#fffc68 52.5px,#fffda1 58.5px,#fffffb 65.5px,#e2e2fe 70.5px,#9696fc 85.5px,#7a7afb 96.5px,#6e6efb 117.5px,#7474fb 139.5px,#9595fc 161px)"></i><i style="background:linear-gradient(90deg,#fffedf 0px,#fffffe 4.5px,#d3d3fe 10.5px,#a5a5fd 16.5px,#9e9efc 19.5px,#afaffd 23.5px,#fefeff 31.5px,#fffda4 36.5px,#fffc72 40.5px,#fffc56 44.5px,#fffc53 48.5px,#fffc6c 53.5px,#fffda9 59.5px,#fffff7 65.5px,#fcfcff 66.5px,#a4a4fd 82.5px,#8282fc 92.5px,#7171fb 107.5px,#7272fb 136.5px,#9696fc 161px)"></i><i style="background:linear-gradient(90deg,#fffedc 0px,#fffffc 4.5px,#ddddfe 9.5px,#a6a6fd 16.5px,#9f9ffc 19.5px,#afaffd 23.5px,#fff 31.5px,#fffdb1 35.5px,#fffc79 39.5px,#fffc58 43.5px,#fffc4e 47.5px,#fffc5b 51.5px,#fffd84 56.5px,#fffee5 64.5px,#fefeff 66.5px,#a6a6fd 82.5px,#8383fc 92.5px,#7272fb 106.5px,#7272fb 136.5px,#9696fc 161px)"></i><i style="background:linear-gradient(90deg,#fffeda 0px,#fcfcff 5.5px,#a7a7fd 16.5px,#a0a0fc 19.5px,#a9a9fd 22.5px,#d5d5fe 27.5px,#fffffd 31.5px,#fffdaf 35.5px,#fffc77 39.5px,#fffc55 43.5px,#fffb4c 47.5px,#fffc58 51.5px,#fffd80 56.5px,#fffed4 63.5px,#fffffc 66.5px,#a3a3fc 83.5px,#8080fc 94.5px,#7171fb 110.5px,#7474fb 137.5px,#9696fc 161px)"></i><i style="background:linear-gradient(90deg,#fffed5 0px,#fffff3 4.5px,#fff 5.5px,#a9a9fd 16.5px,#a2a2fc 19.5px,#ababfd 22.5px,#d7d7fe 27.5px,#f7f7ff 30.5px,#fffff9 31.5px,#fffdab 35.5px,#fffc73 39.5px,#fffc52 43.5px,#fffb49 47.5px,#fffc56 51.5px,#fffc7d 56.5px,#fffecf 63.5px,#fffff8 66.5px,#fcfcff 67.5px,#a5a5fd 83.5px,#8181fc 94.5px,#7272fb 110.5px,#7474fb 137.5px,#9696fc 158.5px,#9797fc 161px)"></i><i style="background:linear-gradient(90deg,#fffed0 0px,#ffffed 4.5px,#fcfcff 6.5px,#acacfd 16.5px,#a4a4fc 19.5px,#acacfd 22.5px,#d8d8fe 27.5px,#f9f9ff 30.5px,#fffff5 31.5px,#fffda7 35.5px,#fffc70 39.5px,#fffc50 43.5px,#fffb47 47.5px,#fffc59 52.5px,#fffd8e 58.5px,#fefeff 67.5px,#a7a7fd 83.5px,#8282fc 94.5px,#7373fb 110.5px,#7575fb 137.5px,#8f8ffc 151.5px,#9898fc 161px)"></i><i style="background:linear-gradient(90deg,#fffecb 0px,#ffffe7 4.5px,#fff 6.5px,#afaffd 16.5px,#a6a6fd 19.5px,#aeaefd 22.5px,#dadafe 27.5px,#fbfbff 30.5px,#fffff1 31.5px,#fffda3 35.5px,#fffc6d 39.5px,#fffc4d 43.5px,#fffb44 47.5px,#fffc56 52.5px,#fffd8a 58.5px,#ffe 66.5px,#fffffc 67.5px,#a4a4fd 84.5px,#8282fc 95.5px,#7373fb 112.5px,#7777fb 138.5px,#9898fc 156.5px,#9999fc 161px)"></i><i style="background:linear-gradient(90deg,#fffec7 0px,#fffee2 4.5px,#fffff9 6.5px,#f4f4ff 8.5px,#b1b1fd 16.5px,#a8a8fd 19.5px,#b0b0fd 22.5px,#dcdcfe 27.5px,#fdfdff 30.5px,#fffd9f 35.5px,#fffc69 39.5px,#fffb4a 43.5px,#fffb42 47.5px,#fffc53 52.5px,#fffd86 58.5px,#ffffe9 66.5px,#fcfcff 68.5px,#aaaafd 83.5px,#8585fc 94.5px,#7575fb 109.5px,#7777fb 137.5px,#8a8afc 148.5px,#9999fc 156.5px,#9999fc 161px)"></i><i style="background:linear-gradient(90deg,#fffec2 0px,#fffedc 4.5px,#fefeff 7.5px,#b4b4fd 16.5px,#aaaafd 19.5px,#b1b1fd 22.5px,#d3d3fe 26.5px,#fff 30.5px,#fffdac 34.5px,#fffc71 38.5px,#fffc4d 42.5px,#fffb3f 46.5px,#fffb4a 51.5px,#fffc6e 56.5px,#fffebc 63.5px,#fefeff 68.5px,#acacfd 83.5px,#8787fc 94.5px,#7676fb 109.5px,#7878fb 137.5px,#8c8cfc 148.5px,#9b9bfc 155.5px,#9a9afc 161px)"></i><i style="background:linear-gradient(90deg,#fffebd 0px,#fffed6 4.5px,#fffffa 7.5px,#f2f2ff 9.5px,#b7b7fd 16.5px,#acacfd 19.5px,#b3b3fd 22.5px,#d5d5fe 26.5px,#fffffb 30.5px,#fffda8 34.5px,#fffc6e 38.5px,#fffb4a 42.5px,#fffb3d 46.5px,#fffb48 51.5px,#fffc6b 56.5px,#fffeb7 63.5px,#fffffb 68.5px,#a5a5fd 85.5px,#8484fc 96.5px,#7676fb 113.5px,#7979fb 138.5px,#8d8dfc 148.5px,#9c9cfc 155.5px,#9b9bfc 161px)"></i><i style="background:linear-gradient(90deg,#fffeb9 0px,#fffed0 4.5px,#fdfdff 8.5px,#b9b9fd 16.5px,#aeaefd 19.5px,#b5b5fd 22.5px,#d6d6fe 26.5px,#f7f7ff 29.5px,#fffff7 30.5px,#fffda4 34.5px,#fffc6a 38.5px,#fffb48 42.5px,#fffb3a 46.5px,#fffb45 51.5px,#fffc70 57.5px,#fffec0 64.5px,#fffff7 68.5px,#fcfcff 69.5px,#acacfd 84.5px,#8787fc 95.5px,#7777fb 111.5px,#7a7afb 138.5px,#8e8efc 148.5px,#9e9efc 154.5px,#9c9cfc 161px)"></i><i style="background:linear-gradient(90deg,#fffeb4 0px,#fffecb 4.5px,#ffffed 7.5px,#fffffc 8.5px,#b6b6fd 17.5px,#b0b0fd 20.5px,#bdbdfd 23.5px,#f9f9ff 29.5px,#fffff4 30.5px,#fffda1 34.5px,#fffc67 38.5px,#fffb45 42.5px,#fffb38 46.5px,#fffb42 51.5px,#fffc6d 57.5px,#fffebb 64.5px,#fff 69.5px,#b2b2fd 83.5px,#8b8bfc 94.5px,#7979fb 108.5px,#7979fb 136.5px,#8989fc 146.5px,#a0a0fc 154.5px,#9d9dfc 161px)"></i><i style="background:linear-gradient(90deg,#fffdb0 0px,#fffec5 4.5px,#ffffe6 7.5px,#fcfcff 9.5px,#bfbffd 16.5px,#b2b2fd 19.5px,#b8b8fd 22.5px,#d9d9fe 26.5px,#fbfbff 29.5px,#fffff0 30.5px,#fffd9d 34.5px,#fffc64 38.5px,#fffb42 42.5px,#fffb35 46.5px,#fffb40 51.5px,#fffc69 57.5px,#fffda9 63.5px,#fffffb 69.5px,#ddddfe 75.5px,#9b9bfc 89.5px,#8181fc 100.5px,#7777fb 123.5px,#7f7ffb 141.5px,#9595fc 149.5px,#a2a2fc 154.5px,#9d9dfc 161px)"></i><i style="background:linear-gradient(90deg,#fffdab 0px,#fffec0 4.5px,#fffee0 7.5px,#fff 9.5px,#bbbbfd 17.5px,#b4b4fd 20.5px,#c0c0fd 23.5px,#fdfdff 29.5px,#fffd99 34.5px,#fffc60 38.5px,#fffb3f 42.5px,#fffb33 46.5px,#fffb3d 51.5px,#fffc65 57.5px,#fffda4 63.5px,#fffff6 69.5px,#fdfdff 70.5px,#b1b1fd 84.5px,#8b8bfc 95.5px,#7a7afb 110.5px,#7b7bfb 137.5px,#8b8bfc 146.5px,#a3a3fc 153.5px,#9e9efc 161px)"></i><i style="background:linear-gradient(90deg,#fffda7 0px,#fffeba 4.5px,#fffed9 7.5px,#fffff8 9.5px,#fafaff 10.5px,#bebefd 17.5px,#b6b6fd 20.5px,#c2c2fd 23.5px,#f3f3ff 28.5px,#fff 29.5px,#fffda7 33.5px,#fffc68 37.5px,#fffb43 41.5px,#fffb32 45.5px,#fffb36 50.5px,#fffc59 56.5px,#fffd94 62.5px,#fff 70.5px,#b3b3fd 84.5px,#8d8dfc 95.5px,#7b7bfb 110.5px,#7c7cfb 137.5px,#8c8cfc 146.5px,#a5a5fd 153.5px,#9f9ffc 161px)"></i><i style="background:linear-gradient(90deg,#fffda2 0px,#fffeb5 4.5px,#fffed3 7.5px,#fdfdff 10.5px,#c1c1fd 17.5px,#b8b8fd 20.5px,#c3c3fd 23.5px,#fffffc 29.5px,#fffda3 33.5px,#fffc72 36.5px,#fffb47 40.5px,#fffb32 44.5px,#fffb31 49.5px,#fffb48 54.5px,#fffc7a 60.5px,#fffec2 66.5px,#fffffa 70.5px,#e8e8fe 74.5px,#a0a0fc 89.5px,#8585fc 100.5px,#7979fb 121.5px,#8181fc 141.5px,#9595fc 148.5px,#a7a7fd 153.5px,#a0a0fc 161px)"></i><i style="background:linear-gradient(90deg,#fffd9e 0px,#fffdaf 4.5px,#fffecc 7.5px,#fffffb 10.5px,#c3c3fd 17.5px,#babafd 20.5px,#c5c5fd 23.5px,#f7f7ff 28.5px,#fffff8 29.5px,#fffd9f 33.5px,#fffc6e 36.5px,#fffb44 40.5px,#fffb2f 44.5px,#fffb2f 49.5px,#fffb4b 55.5px,#fffd80 61.5px,#fffecb 67.5px,#fffff6 70.5px,#fdfdff 71.5px,#b2b2fd 85.5px,#8d8dfc 96.5px,#7c7cfb 111.5px,#7f7ffb 138.5px,#8d8dfc 146.5px,#a9a9fd 153.5px,#a0a0fc 161px)"></i><i style="background:linear-gradient(90deg,#fffd9a 0px,#fffdaa 4.5px,#fffec6 7.5px,#fbfbff 11.5px,#c6c6fd 17.5px,#bcbcfd 20.5px,#c7c7fd 23.5px,#f8f8ff 28.5px,#fffff5 29.5px,#fffd9b 33.5px,#fffc6b 36.5px,#fffb41 40.5px,#fffb2b 45.5px,#fffb2f 50.5px,#fffc4f 56.5px,#fffd86 62.5px,#fffee2 69.5px,#fff 71.5px,#b9b9fd 84.5px,#9191fc 95.5px,#7e7efb 109.5px,#7f7ffb 137.5px,#8e8efc 146.5px,#ababfd 153.5px,#a1a1fc 161px)"></i><i style="background:linear-gradient(90deg,#fffd94 0px,#fffda3 4.5px,#fffebe 7.5px,#ffffea 10.5px,#fffffd 11.5px,#cacafe 17.5px,#bfbffd 20.5px,#c9c9fe 23.5px,#fbfbff 28.5px,#ffffef 29.5px,#fffd96 33.5px,#fffc66 36.5px,#fffb3e 40.5px,#fffb29 45.5px,#fffb2d 50.5px,#fffb4c 56.5px,#fffd81 62.5px,#fffece 68.5px,#fffff9 71.5px,#f5f5ff 73.5px,#aeaefd 87.5px,#8c8cfc 98.5px,#7d7dfb 115.5px,#8181fc 139.5px,#9090fc 146.5px,#aeaefd 153.5px,#a2a2fc 161px)"></i><i style="background:linear-gradient(90deg,#fffd8d 0px,#fffda0 5.5px,#fffebe 8.5px,#fdfdff 12.5px,#d0d0fe 17.5px,#c4c4fd 20.5px,#cdcdfe 23.5px,#fff 28.5px,#fffda2 32.5px,#fffc6f 35.5px,#fffb43 39.5px,#fffb29 44.5px,#fffb29 49.5px,#fffb42 55.5px,#fffc7b 62.5px,#fffec6 68.5px,#fff 72.5px,#babafd 85.5px,#9191fc 97.5px,#8080fc 112.5px,#8282fc 138.5px,#9292fc 146.5px,#b2b2fd 152.5px,#afaffd 156.5px,#a4a4fd 161px)"></i><i style="background:linear-gradient(90deg,#fffd86 0px,#fffd96 5.5px,#fffdb2 8.5px,#fffee1 11.5px,#fffff5 12.5px,#fafaff 13.5px,#cfcffe 18.5px,#c9c9fe 21.5px,#d9d9fe 24.5px,#f8f8ff 27.5px,#fffff5 28.5px,#fffd9a 32.5px,#fffc69 35.5px,#fffb40 39.5px,#fffb28 44.5px,#fffb27 49.5px,#fffb3f 55.5px,#fffc76 62.5px,#fffebe 68.5px,#fffff8 72.5px,#fcfcff 73.5px,#b9b9fd 86.5px,#9292fc 98.5px,#8181fc 113.5px,#8383fc 138.5px,#9090fc 145.5px,#b7b7fd 152.5px,#b6b6fd 155.5px,#a6a6fd 161px)"></i><i style="background:linear-gradient(90deg,#fffd80 0px,#fffd8d 5.5px,#fffda6 8.5px,#fffed3 11.5px,#fffffb 13.5px,#d4d4fe 18.5px,#cdcdfe 21.5px,#ddddfe 24.5px,#fcfcff 27.5px,#fffed4 29.5px,#fffd92 32.5px,#fffc63 35.5px,#fffb3d 39.5px,#fffb27 44.5px,#fffb26 49.5px,#fffb3c 55.5px,#fffc70 62.5px,#fffda8 67.5px,#fffffe 73.5px,#bdbdfd 86.5px,#9595fc 98.5px,#8383fc 113.5px,#8484fc 138.5px,#9191fc 145.5px,#bcbcfd 152.5px,#bbbbfd 155.5px,#a7a7fd 161px)"></i><i style="background:linear-gradient(90deg,#fffc79 0px,#fffd84 5.5px,#fffd9b 8.5px,#fffec5 11.5px,#fdfdff 14.5px,#dadafe 18.5px,#d2d2fe 21.5px,#e1e1fe 24.5px,#fffffc 27.5px,#fffd9e 31.5px,#fffc6b 34.5px,#fffb41 38.5px,#fffb28 43.5px,#fffb25 49.5px,#fffb3a 55.5px,#fffc6a 62.5px,#fffda0 67.5px,#fffff6 73.5px,#fdfdff 74.5px,#c0c0fd 86.5px,#9797fc 98.5px,#8585fc 113.5px,#8686fc 138.5px,#9393fc 145.5px,#c1c1fd 152.5px,#bfbffd 155.5px,#a9a9fd 161px)"></i><i style="background:linear-gradient(90deg,#fffc73 0px,#fffc7c 5.5px,#fffd8f 8.5px,#fffeb7 11.5px,#fffff4 14.5px,#fafaff 15.5px,#dadafe 19.5px,#d9d9fe 22.5px,#efefff 25.5px,#f9f9ff 26.5px,#fffff2 27.5px,#fffd95 31.5px,#fffc64 34.5px,#fffb3e 38.5px,#fffb25 44.5px,#fffb25 50.5px,#fffb42 57.5px,#fffc77 64.5px,#fffeb3 69.5px,#fffffc 74.5px,#bfbffd 87.5px,#9898fc 99.5px,#8686fc 114.5px,#8787fc 138.5px,#9595fc 145.5px,#c6c6fd 152.5px,#c4c4fd 155.5px,#aaaafd 161px)"></i><i style="background:linear-gradient(90deg,#fffc6c 0px,#fffc78 6.5px,#fffd8e 9.5px,#fffebc 12.5px,#fffffc 15.5px,#dfdffe 19.5px,#ddddfe 22.5px,#f3f3ff 25.5px,#fefeff 26.5px,#fffd8d 31.5px,#fffc5e 34.5px,#fffb3b 38.5px,#fffb23 44.5px,#fffb24 50.5px,#fffb3e 57.5px,#fffc71 64.5px,#fffdab 69.5px,#fefeff 75.5px,#c6c6fd 86.5px,#9b9bfc 99.5px,#8888fc 114.5px,#8989fc 138.5px,#9696fc 145.5px,#b4b4fd 149.5px,#cbcbfe 152.5px,#c8c8fd 155.5px,#acacfd 161px)"></i><i style="background:linear-gradient(90deg,#fffc66 0px,#fffc6f 6.5px,#fffd83 9.5px,#fffdad 12.5px,#fdfdff 16.5px,#e4e4fe 19.5px,#e1e1fe 22.5px,#f7f7ff 25.5px,#fffff8 26.5px,#fffd98 30.5px,#fffc64 33.5px,#fffb3e 37.5px,#fffb24 43.5px,#fffb21 49.5px,#fffb36 56.5px,#fffc62 63.5px,#fffd95 68.5px,#fffffa 75.5px,#f5f5ff 77.5px,#babafd 90.5px,#9696fc 103.5px,#8787fc 121.5px,#8d8dfc 141.5px,#9e9efc 146.5px,#d1d1fe 152.5px,#d1d1fe 154.5px,#aeaefd 161px)"></i><i style="background:linear-gradient(90deg,#fffc5f 0px,#fffc66 6.5px,#fffc76 9.5px,#fffd9d 12.5px,#fffff2 16.5px,#fbfbff 17.5px,#e6e6fe 20.5px,#ebebfe 23.5px,#fdfdff 25.5px,#fffed2 27.5px,#fffd8c 30.5px,#fffc5b 33.5px,#fffb39 37.5px,#fffb1e 44.5px,#fffb1e 50.5px,#fffb3b 58.5px,#fffc6b 65.5px,#fffda4 70.5px,#fffffc 76.5px,#c3c3fd 89.5px,#9a9afc 103.5px,#8a8afc 120.5px,#8e8efc 140.5px,#9a9afc 145.5px,#bbbbfd 149.5px,#d5d5fe 152.5px,#d6d6fe 154.5px,#b0b0fd 161px)"></i><i style="background:linear-gradient(90deg,#fffc59 0px,#fffc60 7.5px,#fffc73 10.5px,#fffd9e 13.5px,#fffff8 17.5px,#f9f9ff 18.5px,#eaeafe 21.5px,#f9f9ff 24.5px,#fffff7 25.5px,#fffd80 30.5px,#fffc53 33.5px,#fffb34 37.5px,#fffa19 45.5px,#fffb1c 51.5px,#fffb41 60.5px,#fffc6b 66.5px,#fffda6 71.5px,#fffffe 77.5px,#ccccfe 88.5px,#9f9ffc 103.5px,#8d8dfc 120.5px,#9090fc 140.5px,#9d9dfc 145.5px,#bfbffd 149.5px,#dadafe 152.5px,#dadafe 154.5px,#b2b2fd 161px)"></i><i style="background:linear-gradient(90deg,#fffc52 0px,#fffc5a 8.5px,#fffc70 11.5px,#fffda1 14.5px,#fffffc 18.5px,#f0f0ff 21.5px,#fefeff 24.5px,#fffed2 26.5px,#fffd88 29.5px,#fffc56 32.5px,#fffb34 36.5px,#fffa15 45.5px,#fffa18 51.5px,#fffb41 61.5px,#fffc6c 67.5px,#fffda8 72.5px,#fff 78.5px,#d1d1fe 88.5px,#a1a1fc 104.5px,#9090fc 121.5px,#9393fc 140.5px,#9f9ffc 145.5px,#c3c3fd 149.5px,#dedefe 152.5px,#dfdffe 154.5px,#b4b4fd 161px)"></i><i style="background:linear-gradient(90deg,#fffb4c 0px,#fffc51 8.5px,#fffc63 11.5px,#fffc7d 13.5px,#fffebc 16.5px,#fff 19.5px,#f6f6ff 21.5px,#fbfbff 23.5px,#fffff5 24.5px,#fffc7c 29.5px,#fffb4c 32.5px,#fffb2f 36.5px,#fffa11 45.5px,#fffa14 51.5px,#fffb41 62.5px,#fffc6c 68.5px,#fffda9 73.5px,#fefeff 79.5px,#cfcffe 90.5px,#a2a2fc 106.5px,#9292fc 124.5px,#9696fc 141.5px,#a2a2fc 145.5px,#bbbbfd 148.5px,#e3e3fe 152.5px,#e3e3fe 154.5px,#b6b6fd 161px)"></i><i style="background:linear-gradient(90deg,#fffb45 0px,#fffb4b 9.5px,#fffc60 12.5px,#fffc7e 14.5px,#fffff0 19.5px,#fff 20.5px,#fffffb 23.5px,#fffed2 25.5px,#fffc6f 29.5px,#fffc4f 31.5px,#fffb34 34.5px,#fffa0d 45.5px,#fffa10 51.5px,#fffb40 63.5px,#fffc6b 69.5px,#fffdab 74.5px,#fffff6 79.5px,#fdfdff 80.5px,#d0d0fe 91.5px,#a5a5fd 107.5px,#9494fc 125.5px,#9999fc 141.5px,#a4a4fd 145.5px,#bebefd 148.5px,#e7e7fe 152.5px,#e7e7fe 154.5px,#b8b8fd 161px)"></i><i style="background:linear-gradient(90deg,#fffb3f 0px,#fffb43 9.5px,#fffc52 12.5px,#fffc6d 14.5px,#fffdb0 17.5px,#fffee0 19.5px,#fffff1 20.5px,#fffffa 21.5px,#fffffa 22.5px,#ffffef 23.5px,#fffec5 25.5px,#fffc78 28.5px,#fffc52 30.5px,#fffb34 33.5px,#fffa09 45.5px,#fffa0a 50.5px,#fffb39 63.5px,#fffc61 69.5px,#fffd90 73.5px,#fffff8 80.5px,#fdfdff 81.5px,#d1d1fe 92.5px,#a6a6fd 109.5px,#9696fc 128.5px,#9c9cfc 142.5px,#adadfd 146.5px,#ececfe 152.5px,#ececfe 154.5px,#babafd 161px)"></i><i style="background:linear-gradient(90deg,#fffb39 0px,#fffb3d 10.5px,#fffc4f 13.5px,#fffc6e 15.5px,#fffed0 19.5px,#fffee3 20.5px,#ffffed 21.5px,#ffe 22.5px,#fffee4 23.5px,#fffeb8 25.5px,#fffc6a 28.5px,#fffb47 30.5px,#fffb2d 33.5px,#fffa04 46.5px,#fffa0b 52.5px,#fffb3d 65.5px,#fffc61 70.5px,#fffd91 74.5px,#fffffa 81.5px,#f7f7ff 83.5px,#c4c4fd 98.5px,#a3a3fc 114.5px,#9999fc 134.5px,#a1a1fc 143.5px,#b0b0fd 146.5px,#f1f1ff 152.5px,#f0f0ff 154.5px,#bcbcfd 161px)"></i><i style="background:linear-gradient(90deg,#fffb33 0px,#fffb38 11.5px,#fffc4e 14.5px,#fffc72 16.5px,#fffebb 19.5px,#fffece 20.5px,#fffed8 21.5px,#fffed9 22.5px,#fffecf 23.5px,#fffda5 25.5px,#fffc5b 28.5px,#fffb3d 30.5px,#fffb28 33.5px,#fff800 45.5px,#fff800 50.5px,#fffb40 67.5px,#fffc67 72.5px,#fffdac 77.5px,#fffff6 82.5px,#fdfdff 83.5px,#d4d4fe 94.5px,#aaaafd 112.5px,#9c9cfc 131.5px,#a4a4fc 143.5px,#b2b2fd 146.5px,#f6f6ff 152.5px,#f5f5ff 154.5px,#c4c4fd 159.5px,#bebefd 161px)"></i><i style="background:linear-gradient(90deg,#fffb2e 0px,#fffb31 11.5px,#fffb42 14.5px,#fffc60 16.5px,#fffeb5 20.5px,#fffec0 21.5px,#fffec1 22.5px,#fffeb7 23.5px,#fffd8f 25.5px,#fffc4d 28.5px,#fffb33 30.5px,#fffb20 34.5px,#fffa00 42.5px,#feeb00 47.5px,#fffa01 53.5px,#fffb42 69.5px,#fffc61 73.5px,#fffd95 77.5px,#fffffd 84.5px,#dadafe 94.5px,#adadfd 114.5px,#a0a0fc 133.5px,#a7a7fd 143.5px,#b5b5fd 146.5px,#d7d7fe 149.5px,#fbfbff 152.5px,#fefeff 153.5px,#f1f1ff 155.5px,#c6c6fd 159.5px,#c1c1fd 161px)"></i><i style="background:linear-gradient(90deg,#fffb29 0px,#fffb2d 12.5px,#fffb41 15.5px,#fffc62 17.5px,#fffd9d 20.5px,#fffda7 21.5px,#fffda8 22.5px,#fffd9f 23.5px,#fffb3f 28.5px,#fffb25 31.5px,#fff800 41.5px,#fde200 46.5px,#fde600 50.5px,#fffa04 55.5px,#fffb44 71.5px,#fffc66 75.5px,#fffdad 80.5px,#fffff8 85.5px,#fdfdff 86.5px,#d9d9fe 96.5px,#afaffd 116.5px,#a4a4fc 135.5px,#adadfd 144.5px,#c1c1fd 147.5px,#f7f7ff 151.5px,#fffffb 152.5px,#fffff4 153.5px,#fff 154.5px,#c9c9fe 159.5px,#c3c3fd 161px)"></i><i style="background:linear-gradient(90deg,#fffb24 0px,#fffb29 13.5px,#fffb35 15.5px,#fffc50 17.5px,#fffd85 20.5px,#fffd8f 21.5px,#fffd90 22.5px,#fffd87 23.5px,#fffb40 27.5px,#fffb2a 29.5px,#fffa02 39.5px,#fcd900 46.5px,#fddc00 50.5px,#fffa02 56.5px,#fffb24 65.5px,#fffb3f 72.5px,#fffc5f 76.5px,#fffd95 80.5px,#fffff2 86.5px,#fffffe 87.5px,#dcdcfe 97.5px,#b2b2fd 118.5px,#a8a8fd 137.5px,#b0b0fd 144.5px,#c4c4fd 147.5px,#fbfbff 151.5px,#ffffef 152.5px,#ffffe7 153.5px,#f8f8ff 155.5px,#d3d3fe 158.5px,#c5c5fd 161px)"></i><i style="background:linear-gradient(90deg,#fffb1f 0px,#fffb22 13.5px,#fffb33 16.5px,#fffc6e 20.5px,#fffc76 21.5px,#fffc77 22.5px,#fffc62 24.5px,#fffb33 27.5px,#fffb1d 30.5px,#fffa00 38.5px,#fccf00 46.5px,#fcd300 50.5px,#fffa01 57.5px,#fffb1f 65.5px,#fffb3a 73.5px,#fffc59 77.5px,#fffd8e 81.5px,#ffffec 87.5px,#fcfcff 89.5px,#dbdbfe 99.5px,#b5b5fd 120.5px,#acacfd 138.5px,#b4b4fd 144.5px,#c7c7fd 147.5px,#fffffd 151.5px,#fffee3 152.5px,#fffedb 153.5px,#ffffe9 154.5px,#fcfcff 155.5px,#d5d5fe 158.5px,#c7c7fd 161px)"></i><i style="background:linear-gradient(90deg,#fffb1a 0px,#fffb1e 14.5px,#fffb31 17.5px,#fffc56 20.5px,#fffc5e 22.5px,#fffb4c 24.5px,#fffb26 27.5px,#fffa14 31.5px,#fff900 37.5px,#fbc800 45.5px,#fbc600 49.5px,#fde700 55.5px,#fffa00 58.5px,#fffb1c 66.5px,#fffb35 74.5px,#fffc52 78.5px,#fffd85 82.5px,#fffff3 89.5px,#fff 90.5px,#e0e0fe 99.5px,#b8b8fd 121.5px,#b0b0fd 139.5px,#bbbbfd 145.5px,#d4d4fe 148.5px,#f3f3ff 150.5px,#fffff4 151.5px,#fffed6 152.5px,#fffece 153.5px,#fffede 154.5px,#fffffe 155.5px,#d8d8fe 158.5px,#cacafe 161px)"></i><i style="background:linear-gradient(90deg,#fffa15 0px,#fffa19 15.5px,#fffb2c 18.5px,#fffb45 21.5px,#fffb41 23.5px,#fffb1c 27.5px,#fff700 36.5px,#fabf00 45.5px,#fabc00 49.5px,#fddf00 55.5px,#fffa03 60.5px,#fffb2f 75.5px,#fffb4b 79.5px,#fffc7d 83.5px,#ffffed 90.5px,#fcfcff 92.5px,#dedefe 102.5px,#b9b9fd 125.5px,#b5b5fd 141.5px,#bebefd 145.5px,#d7d7fe 148.5px,#f6f6ff 150.5px,#ffffea 151.5px,#fffeca 152.5px,#fffec2 153.5px,#fffed4 154.5px,#fffff6 155.5px,#f3f3ff 156.5px,#d2d2fe 159.5px,#ccccfe 161px)"></i><i style="background:linear-gradient(90deg,#fffa11 0px,#fffa15 16.5px,#fffb32 21.5px,#fffb2e 23.5px,#fffa13 27.5px,#fff900 34.5px,#fbcc00 41.5px,#f9b000 46.5px,#f9b400 50.5px,#fffa00 61.5px,#fffb1a 71.5px,#fffb2d 77.5px,#fffb4b 81.5px,#fffd80 85.5px,#fffee2 91.5px,#fffffc 93.5px,#e0e0fe 103.5px,#bcbcfd 127.5px,#b9b9fd 142.5px,#c7c7fd 146.5px,#e8e8fe 149.5px,#fafaff 150.5px,#fffebe 152.5px,#fffeb5 153.5px,#fffec8 154.5px,#ffffed 155.5px,#f5f5ff 156.5px,#d4d4fe 159.5px,#cecefe 161px)"></i><i style="background:linear-gradient(90deg,#fffa0c 0px,#fffa0f 16.5px,#fffb29 21.5px,#fffb25 23.5px,#fffa0c 27.5px,#fff500 33.5px,#fccf00 39.5px,#f8a500 45.5px,#f8a300 49.5px,#fac000 54.5px,#fef200 61.5px,#fffa04 64.5px,#fffb24 78.5px,#fffb3c 82.5px,#fffc6b 86.5px,#ffffec 94.5px,#fdfdff 96.5px,#e2e2fe 105.5px,#c0c0fd 129.5px,#bfbffd 143.5px,#cbcbfe 146.5px,#ebebfe 149.5px,#fefeff 150.5px,#fffdb1 152.5px,#fffda7 153.5px,#fffebd 154.5px,#fffee5 155.5px,#f8f8ff 156.5px,#dedefe 158.5px,#d1d1fe 161px)"></i><i style="background:linear-gradient(90deg,#fffa08 0px,#fffa0c 17.5px,#fffb1f 21.5px,#fffa15 24.5px,#fffa00 29.5px,#fde000 35.5px,#f79c00 44.5px,#f79300 48.5px,#f8a300 52.5px,#fee800 61.5px,#fffa03 66.5px,#fffb1f 80.5px,#fffb37 84.5px,#fffc65 88.5px,#ffffe8 96.5px,#fefeff 98.5px,#e3e3fe 107.5px,#c4c4fd 131.5px,#c3c3fd 143.5px,#cecefe 146.5px,#e0e0fe 148.5px,#fffffa 150.5px,#fffeca 151.5px,#fffda3 152.5px,#fffd99 153.5px,#fffdb1 154.5px,#fffedc 155.5px,#fbfbff 156.5px,#e1e1fe 158.5px,#d4d4fe 161px)"></i><i style="background:linear-gradient(90deg,#fffa03 0px,#fffa06 17.5px,#fffa16 22.5px,#fff800 27.5px,#fde200 33.5px,#f68e00 44.5px,#f68400 48.5px,#f79500 52.5px,#fde400 62.5px,#fffa01 68.5px,#fffb1b 82.5px,#fffb32 86.5px,#fffc5f 90.5px,#fffee4 98.5px,#fffffd 100.5px,#e3e3fe 110.5px,#c7c7fd 134.5px,#c9c9fe 144.5px,#d9d9fe 147.5px,#f1f1ff 149.5px,#fffff2 150.5px,#fffec0 151.5px,#fffd96 152.5px,#fffd8b 153.5px,#fffda5 154.5px,#fefeff 156.5px,#e3e3fe 158.5px,#d6d6fe 161px)"></i><i style="background:linear-gradient(90deg,#fff900 0px,#fffa02 18.5px,#fffa0c 22.5px,#fff400 26.5px,#fcd700 33.5px,#f58000 44.5px,#f47600 48.5px,#f68700 52.5px,#fcd900 62.5px,#fef400 68.5px,#fffa05 75.5px,#fffa16 84.5px,#fffb2d 88.5px,#fffc59 92.5px,#fffedf 100.5px,#fffff9 102.5px,#f9f9ff 104.5px,#e0e0fe 115.5px,#cacafe 138.5px,#d1d1fe 145.5px,#e6e6fe 148.5px,#f5f5ff 149.5px,#ffffea 150.5px,#fffeb5 151.5px,#fffd89 152.5px,#fffc7d 153.5px,#fffd9a 154.5px,#fffffb 156.5px,#dedefe 159.5px,#d9d9fe 161px)"></i><i style="background:linear-gradient(90deg,#fff400 0px,#fff800 19.5px,#fff800 23.5px,#fcd200 32.5px,#f47100 44.5px,#f36800 48.5px,#f57800 52.5px,#fcd500 63.5px,#feef00 69.5px,#fffa03 79.5px,#fffa15 87.5px,#fffb30 91.5px,#fffc62 95.5px,#fffedb 102.5px,#fff 105.5px,#e6e6fe 114.5px,#cfcffe 138.5px,#d4d4fe 145.5px,#e9e9fe 148.5px,#f8f8ff 149.5px,#fffee2 150.5px,#fffdaa 151.5px,#fffc7b 152.5px,#fffc6f 153.5px,#fffd8e 154.5px,#fffff4 156.5px,#f3f3ff 157.5px,#dcdcfe 161px)"></i><i style="background:linear-gradient(90deg,#fef000 0px,#feee00 23.5px,#fbcd00 31.5px,#f79300 38.5px,#f36300 44.5px,#f25a00 48.5px,#f36a00 52.5px,#fcd000 64.5px,#feea00 70.5px,#fffa03 84.5px,#fffa15 90.5px,#fffb34 94.5px,#fffc6c 98.5px,#fffed6 104.5px,#fffffc 107.5px,#e6e6fe 117.5px,#d3d3fe 140.5px,#d8d8fe 145.5px,#ececfe 148.5px,#fbfbff 149.5px,#fffed9 150.5px,#fffd9f 151.5px,#fffc6e 152.5px,#fffc61 153.5px,#fffd82 154.5px,#ffe 156.5px,#f6f6ff 157.5px,#dedefe 161px)"></i><i style="background:linear-gradient(90deg,#feec00 0px,#fde700 21.5px,#fcd300 28.5px,#f9aa00 34.5px,#f25a00 43.5px,#f14c00 47.5px,#f25600 51.5px,#f68700 57.5px,#fbc400 64.5px,#fde200 70.5px,#fff400 83.5px,#fffa04 89.5px,#fffb1c 94.5px,#fffb46 98.5px,#fffd9c 103.5px,#fffedf 107.5px,#fefeff 110.5px,#e8e8fe 119.5px,#d7d7fe 141.5px,#e0e0fe 146.5px,#f0f0ff 148.5px,#fefeff 149.5px,#fffed1 150.5px,#fffd94 151.5px,#fffc60 152.5px,#fffc53 153.5px,#fffc76 154.5px,#ffffe8 156.5px,#f8f8ff 157.5px,#e1e1fe 161px)"></i></div>
<div class="hm" style="left:474.3px;top:216.5px"><i style="background:linear-gradient(90deg,#fefeff 0px,#e5e5fe 6.5px,#a8a8fd 15.5px,#a0a0fc 19.5px,#afaffd 23.5px,#fffffe 34.5px,#fffecd 39.5px,#fffeb5 44.5px,#fffeb7 48.5px,#fffed0 53.5px,#fffffd 58.5px,#9393fc 80.5px,#7777fb 91.5px,#6c6cfb 113.5px,#7272fb 139.5px,#9494fc 161px)"></i><i style="background:linear-gradient(90deg,#fefeff 0px,#e5e5fe 6.5px,#a8a8fd 15.5px,#a0a0fc 19.5px,#b0b0fd 23.5px,#fafaff 33.5px,#fffffc 34.5px,#fffecb 39.5px,#fffeb3 44.5px,#fffeb4 48.5px,#fffece 53.5px,#fdfdff 59.5px,#9494fc 80.5px,#7878fb 91.5px,#6c6cfb 112.5px,#7171fb 138.5px,#9494fc 161px)"></i><i style="background:linear-gradient(90deg,#fefeff 0px,#e6e6fe 6.5px,#a8a8fd 15.5px,#a0a0fc 19.5px,#b0b0fd 23.5px,#fbfbff 33.5px,#fffffb 34.5px,#fffec9 39.5px,#fffdb1 44.5px,#fffdb2 48.5px,#fffecb 53.5px,#fefeff 59.5px,#9595fc 80.5px,#7878fb 91.5px,#6d6dfb 112.5px,#7272fb 138.5px,#9494fc 161px)"></i><i style="background:linear-gradient(90deg,#fff 0px,#e6e6fe 6.5px,#a8a8fd 15.5px,#a1a1fc 19.5px,#b0b0fd 23.5px,#fcfcff 33.5px,#ffffed 35.5px,#fffec0 40.5px,#fffdad 45.5px,#fffeb7 50.5px,#fffee2 56.5px,#fff 59.5px,#9393fc 81.5px,#7878fb 92.5px,#6d6dfb 114.5px,#7373fb 139.5px,#9494fc 161px)"></i><i style="background:linear-gradient(90deg,#fff 0px,#e6e6fe 6.5px,#a9a9fd 15.5px,#a1a1fc 19.5px,#b0b0fd 23.5px,#fcfcff 33.5px,#fffebe 40.5px,#fffdab 45.5px,#fffeb4 50.5px,#fffedf 56.5px,#fffffc 59.5px,#9494fc 81.5px,#7878fb 92.5px,#6d6dfb 114.5px,#7373fb 139.5px,#9595fc 161px)"></i><i style="background:linear-gradient(90deg,#fff 0px,#e6e6fe 6.5px,#a9a9fd 15.5px,#a1a1fc 19.5px,#b0b0fd 23.5px,#fdfdff 33.5px,#fffec4 39.5px,#fffdaa 44.5px,#fffdab 48.5px,#fffec4 53.5px,#fdfdff 60.5px,#9595fc 81.5px,#7979fb 92.5px,#6d6dfb 113.5px,#7373fb 139.5px,#9595fc 161px)"></i><i style="background:linear-gradient(90deg,#fffffe 0px,#e7e7fe 6.5px,#a9a9fd 15.5px,#a1a1fc 19.5px,#b1b1fd 23.5px,#fdfdff 33.5px,#fffec2 39.5px,#fffda8 44.5px,#fffda8 48.5px,#fffec1 53.5px,#fefeff 60.5px,#9696fc 81.5px,#7979fb 92.5px,#6e6efb 113.5px,#7474fb 139.5px,#9595fc 161px)"></i><i style="background:linear-gradient(90deg,#fffffd 0px,#e7e7fe 6.5px,#a9a9fd 15.5px,#a1a1fc 19.5px,#b1b1fd 23.5px,#fefeff 33.5px,#fffec0 39.5px,#fffda6 44.5px,#fffda6 48.5px,#fffebf 53.5px,#fffffe 60.5px,#9393fc 82.5px,#7878fb 93.5px,#6e6efb 115.5px,#7474fb 139.5px,#9595fc 161px)"></i><i style="background:linear-gradient(90deg,#fffffd 0px,#ededff 5.5px,#a9a9fd 15.5px,#a1a1fc 19.5px,#b1b1fd 23.5px,#fefeff 33.5px,#fffec7 38.5px,#fffda7 43.5px,#fffda2 47.5px,#fffeb6 52.5px,#fffff1 59.5px,#fcfcff 61.5px,#9595fc 82.5px,#7979fb 93.5px,#6e6efb 115.5px,#7474fb 139.5px,#9595fc 161px)"></i><i style="background:linear-gradient(90deg,#fffffc 0px,#ededff 5.5px,#a9a9fd 15.5px,#a1a1fc 19.5px,#b1b1fd 23.5px,#fff 33.5px,#fffec5 38.5px,#fffda4 43.5px,#fffd9f 47.5px,#fffeb3 52.5px,#ffffef 59.5px,#fdfdff 61.5px,#9696fc 82.5px,#7a7afb 93.5px,#6e6efb 114.5px,#7474fb 139.5px,#9595fc 161px)"></i><i style="background:linear-gradient(90deg,#fffffb 0px,#eef 5.5px,#a9a9fd 15.5px,#a2a2fc 19.5px,#b1b1fd 23.5px,#fffffe 33.5px,#fffec3 38.5px,#fffda2 43.5px,#fffd9d 47.5px,#fffdb1 52.5px,#ffffec 59.5px,#fefeff 61.5px,#9393fc 83.5px,#7979fb 94.5px,#6e6efb 117.5px,#7676fb 140.5px,#9696fc 161px)"></i><i style="background:linear-gradient(90deg,#fffffa 0px,#f8f8ff 3.5px,#cbcbfe 10.5px,#a5a5fd 16.5px,#a4a4fc 20.5px,#c0c0fd 25.5px,#fffffc 33.5px,#fffec1 38.5px,#fffda0 43.5px,#fffd9b 47.5px,#fffdae 52.5px,#ffffea 59.5px,#fffffe 61.5px,#9494fc 83.5px,#7979fb 94.5px,#6f6ffb 116.5px,#7575fb 139.5px,#9696fc 161px)"></i><i style="background:linear-gradient(90deg,#fffffa 0px,#fcfcff 2.5px,#dbdbfe 8.5px,#aaaafd 15.5px,#a2a2fc 19.5px,#b2b2fd 23.5px,#fafaff 32.5px,#fffffb 33.5px,#fffec0 38.5px,#fffd9e 43.5px,#fffd99 47.5px,#fffdac 52.5px,#ffffe7 59.5px,#fffffb 61.5px,#ababfd 78.5px,#8383fc 89.5px,#7272fb 103.5px,#7272fb 136.5px,#9696fc 161px)"></i><i style="background:linear-gradient(90deg,#fffff9 0px,#fcfcff 2.5px,#dbdbfe 8.5px,#aaaafd 15.5px,#a2a2fc 19.5px,#b2b2fd 23.5px,#fafaff 32.5px,#fffffa 33.5px,#fffebe 38.5px,#fffd9c 43.5px,#fffd96 47.5px,#fffda9 52.5px,#fffee5 59.5px,#fdfdff 62.5px,#9797fc 83.5px,#7b7bfb 94.5px,#6f6ffb 115.5px,#7575fb 139.5px,#9696fc 161px)"></i><i style="background:linear-gradient(90deg,#fffff8 0px,#f8f8ff 3.5px,#ccccfe 10.5px,#a6a6fd 16.5px,#a4a4fd 20.5px,#c1c1fd 25.5px,#fbfbff 32.5px,#fffff8 33.5px,#fffebc 38.5px,#fffd9a 43.5px,#fffd94 47.5px,#fffda7 52.5px,#fffee2 59.5px,#fefeff 62.5px,#9494fc 84.5px,#7a7afb 95.5px,#6f6ffb 118.5px,#7777fb 140.5px,#9696fc 161px)"></i><i style="background:linear-gradient(90deg,#fffff6 0px,#f9f9ff 3.5px,#cdcdfe 10.5px,#a6a6fd 16.5px,#a4a4fd 20.5px,#c1c1fd 25.5px,#fcfcff 32.5px,#fffdb0 39.5px,#fffd94 44.5px,#fffd93 48.5px,#fffdaa 53.5px,#fffff3 61.5px,#fffffd 62.5px,#9696fc 84.5px,#7b7bfb 95.5px,#7070fb 117.5px,#7777fb 140.5px,#9797fc 161px)"></i><i style="background:linear-gradient(90deg,#fffff4 0px,#fefeff 2.5px,#ddddfe 8.5px,#ababfd 15.5px,#a3a3fc 19.5px,#b3b3fd 23.5px,#fdfdff 32.5px,#fffeb7 38.5px,#fffd94 43.5px,#fffd8e 47.5px,#fffda0 52.5px,#fffedb 59.5px,#fdfdff 63.5px,#9797fc 84.5px,#7b7bfb 95.5px,#7070fb 117.5px,#7878fb 140.5px,#9797fc 161px)"></i><i style="background:linear-gradient(90deg,#fffff2 0px,#fff 2.5px,#dedefe 8.5px,#acacfd 15.5px,#a3a3fc 19.5px,#b3b3fd 23.5px,#fefeff 32.5px,#fffebe 37.5px,#fffd95 42.5px,#fffd8a 46.5px,#fffd97 51.5px,#fffec4 57.5px,#fefeff 63.5px,#9898fc 84.5px,#7c7cfb 95.5px,#7171fb 116.5px,#7777fb 139.5px,#9797fc 161px)"></i><i style="background:linear-gradient(90deg,#fffff0 0px,#fcfcff 3.5px,#d8d8fe 9.5px,#adadfd 15.5px,#a4a4fc 19.5px,#b4b4fd 23.5px,#fff 32.5px,#fffebb 37.5px,#fffd92 42.5px,#fffd86 46.5px,#fffd93 51.5px,#fffec0 57.5px,#fffffc 63.5px,#9696fc 85.5px,#7c7cfb 96.5px,#7171fb 119.5px,#7979fb 140.5px,#9898fc 161px)"></i><i style="background:linear-gradient(90deg,#ffe 0px,#fdfdff 3.5px,#d9d9fe 9.5px,#aeaefd 15.5px,#a4a4fd 19.5px,#b4b4fd 23.5px,#fffffd 32.5px,#fffeb8 37.5px,#fffd8f 42.5px,#fffd83 46.5px,#fffd90 51.5px,#fffebd 57.5px,#fdfdff 64.5px,#9898fc 85.5px,#7d7dfb 96.5px,#7272fb 118.5px,#7979fb 140.5px,#9898fc 161px)"></i><i style="background:linear-gradient(90deg,#ffffec 0px,#fefeff 3.5px,#dadafe 9.5px,#aeaefd 15.5px,#a5a5fd 19.5px,#b4b4fd 23.5px,#fffffb 32.5px,#fffeb5 37.5px,#fffd8b 42.5px,#fffd80 46.5px,#fffd8c 51.5px,#fffeb9 57.5px,#fff 64.5px,#9999fc 85.5px,#7e7efb 96.5px,#7373fb 118.5px,#7a7afb 140.5px,#9999fc 161px)"></i><i style="background:linear-gradient(90deg,#ffffea 0px,#fffffe 3.5px,#dbdbfe 9.5px,#afaffd 15.5px,#a5a5fd 19.5px,#b5b5fd 23.5px,#f9f9ff 31.5px,#fffff9 32.5px,#fffdb2 37.5px,#fffd88 42.5px,#fffc7c 46.5px,#fffd89 51.5px,#fffeb6 57.5px,#fffffc 64.5px,#9797fc 86.5px,#7d7dfb 97.5px,#7373fb 121.5px,#7c7cfb 141.5px,#9999fc 161px)"></i><i style="background:linear-gradient(90deg,#ffffe8 0px,#fcfcff 4.5px,#c4c4fd 12.5px,#a8a8fd 17.5px,#aaaafd 21.5px,#cdcdfe 26.5px,#fafaff 31.5px,#fffff7 32.5px,#fffebc 36.5px,#fffd8b 41.5px,#fffc7a 45.5px,#fffc7d 49.5px,#fffd99 54.5px,#ffe 63.5px,#fdfdff 65.5px,#9c9cfc 85.5px,#8080fc 96.5px,#7474fb 117.5px,#7b7bfb 140.5px,#9a9afc 161px)"></i><i style="background:linear-gradient(90deg,#fffee5 0px,#fdfdff 4.5px,#cdcdfe 11.5px,#acacfd 16.5px,#a8a8fd 20.5px,#bdbdfd 24.5px,#fbfbff 31.5px,#fffff5 32.5px,#fffeb9 36.5px,#fffd8f 40.5px,#fffc79 44.5px,#fffc77 48.5px,#fffd8e 53.5px,#fffed5 61.5px,#fff 65.5px,#9999fc 86.5px,#7f7ffb 97.5px,#7474fb 120.5px,#7b7bfb 140.5px,#9a9afc 161px)"></i><i style="background:linear-gradient(90deg,#fffee3 0px,#fefeff 4.5px,#cecefe 11.5px,#acacfd 16.5px,#a8a8fd 20.5px,#bdbdfd 24.5px,#fcfcff 31.5px,#fffdaa 37.5px,#fffd85 41.5px,#fffc73 45.5px,#fffc76 49.5px,#fffd91 54.5px,#ffffe7 63.5px,#fffffc 65.5px,#9b9bfc 86.5px,#8080fc 97.5px,#7575fb 119.5px,#7c7cfb 140.5px,#9a9afc 161px)"></i><i style="background:linear-gradient(90deg,#fffee1 0px,#fff 4.5px,#cfcffe 11.5px,#adadfd 16.5px,#a9a9fd 20.5px,#bdbdfd 24.5px,#fdfdff 31.5px,#fffda7 37.5px,#fffd82 41.5px,#fffc70 45.5px,#fffc73 49.5px,#fffd8e 54.5px,#fffee3 63.5px,#fdfdff 66.5px,#9c9cfc 86.5px,#8181fc 97.5px,#7676fb 119.5px,#7d7dfb 140.5px,#9b9bfc 161px)"></i><i style="background:linear-gradient(90deg,#fffedf 0px,#fffffc 4.5px,#d8d8fe 10.5px,#aeaefd 16.5px,#a9a9fd 20.5px,#bebefd 24.5px,#fefeff 31.5px,#fffdb1 36.5px,#fffd86 40.5px,#fffc6f 44.5px,#fffc6d 48.5px,#fffd83 53.5px,#fffeca 61.5px,#fff 66.5px,#9e9efc 86.5px,#8282fc 97.5px,#7676fb 118.5px,#7d7dfb 140.5px,#9b9bfc 161px)"></i><i style="background:linear-gradient(90deg,#fffedd 0px,#fcfcff 5.5px,#afaffd 16.5px,#aaaafd 20.5px,#bebefd 24.5px,#fff 31.5px,#fffdae 36.5px,#fffd83 40.5px,#fffc6c 44.5px,#fffc6a 48.5px,#fffd80 53.5px,#fffebd 60.5px,#fffffb 66.5px,#9b9bfc 87.5px,#8181fc 98.5px,#7777fb 121.5px,#7f7ffb 141.5px,#9c9cfc 161px)"></i><i style="background:linear-gradient(90deg,#fffedb 0px,#fdfdff 5.5px,#afaffd 16.5px,#aaaafd 20.5px,#bfbffd 24.5px,#fffffe 31.5px,#fffeb9 35.5px,#fffd89 39.5px,#fffc6c 43.5px,#fffc65 47.5px,#fffc76 52.5px,#fffdaf 59.5px,#fdfdff 67.5px,#9d9dfc 87.5px,#8282fc 98.5px,#7777fb 120.5px,#7f7ffb 141.5px,#9c9cfc 161px)"></i><i style="background:linear-gradient(90deg,#fffed8 0px,#fffff5 4.5px,#fff 5.5px,#b0b0fd 16.5px,#ababfd 20.5px,#bfbffd 24.5px,#fffffc 31.5px,#fffeb6 35.5px,#fffd86 39.5px,#fffc69 43.5px,#fffc61 47.5px,#fffc72 52.5px,#fffdab 59.5px,#fff 67.5px,#9e9efc 87.5px,#8383fc 98.5px,#7878fb 120.5px,#8080fc 141.5px,#9d9dfc 161px)"></i><i style="background:linear-gradient(90deg,#fffed4 0px,#ffffef 4.5px,#fcfcff 6.5px,#b3b3fd 16.5px,#acacfd 20.5px,#c1c1fd 24.5px,#f9f9ff 30.5px,#fffff8 31.5px,#fffdb2 35.5px,#fffd82 39.5px,#fffc65 43.5px,#fffc5e 47.5px,#fffc6f 52.5px,#fffda7 59.5px,#fffffa 67.5px,#f2f2ff 70.5px,#a1a1fc 87.5px,#8585fc 98.5px,#7979fb 119.5px,#8080fc 140.5px,#9c9cfc 158.5px,#9e9efc 161px)"></i><i style="background:linear-gradient(90deg,#fffecf 0px,#ffffea 4.5px,#fff 6.5px,#b5b5fd 16.5px,#aeaefd 20.5px,#c2c2fd 24.5px,#fbfbff 30.5px,#fffff3 31.5px,#fffdae 35.5px,#fffc7e 39.5px,#fffc62 43.5px,#fffc5b 47.5px,#fffc6b 52.5px,#fffda2 59.5px,#fff 68.5px,#a3a3fc 87.5px,#8686fc 98.5px,#7b7bfb 119.5px,#8181fc 140.5px,#9d9dfc 157.5px,#9f9ffc 161px)"></i><i style="background:linear-gradient(90deg,#fffeca 0px,#fffee4 4.5px,#fffffa 6.5px,#f4f4ff 8.5px,#b8b8fd 16.5px,#b0b0fd 20.5px,#c4c4fd 24.5px,#fdfdff 30.5px,#fffdaa 35.5px,#fffc7a 39.5px,#fffc5e 43.5px,#fffc57 47.5px,#fffc67 52.5px,#fffd9e 59.5px,#fffffb 68.5px,#e8e8fe 73.5px,#9e9efc 89.5px,#8585fc 100.5px,#7b7bfb 124.5px,#8585fc 142.5px,#9e9efc 156.5px,#a0a0fc 161px)"></i><i style="background:linear-gradient(90deg,#fffec6 0px,#fffede 4.5px,#fefeff 7.5px,#babafd 16.5px,#b2b2fd 20.5px,#c5c5fd 24.5px,#fff 30.5px,#fffeb5 34.5px,#fffd80 38.5px,#fffc60 42.5px,#fffc54 46.5px,#fffc5e 51.5px,#fffd87 57.5px,#fefeff 69.5px,#a3a3fc 88.5px,#8888fc 99.5px,#7d7dfb 120.5px,#8484fc 141.5px,#a0a0fc 156.5px,#a1a1fc 161px)"></i><i style="background:linear-gradient(90deg,#fffec1 0px,#fffed9 4.5px,#fffffa 7.5px,#e2e2fe 11.5px,#b8b8fd 17.5px,#b4b4fd 20.5px,#c7c7fd 24.5px,#fffffb 30.5px,#fffdb0 34.5px,#fffc7c 38.5px,#fffc5c 42.5px,#fffc50 46.5px,#fffc5b 51.5px,#fffd83 57.5px,#fffffc 69.5px,#a2a2fc 89.5px,#8888fc 100.5px,#7e7efb 123.5px,#8787fc 142.5px,#a1a1fc 155.5px,#a2a2fc 161px)"></i><i style="background:linear-gradient(90deg,#fffebc 0px,#fffed3 4.5px,#fdfdff 8.5px,#bfbffd 16.5px,#b6b6fd 20.5px,#c9c9fe 24.5px,#f9f9ff 29.5px,#fffff7 30.5px,#fffdac 34.5px,#fffc78 38.5px,#fffc58 42.5px,#fffc4d 46.5px,#fffc57 51.5px,#fffc7f 57.5px,#fefeff 70.5px,#a4a4fd 89.5px,#8a8afc 100.5px,#7f7ffb 122.5px,#8787fc 141.5px,#a3a3fc 155.5px,#a3a3fc 161px)"></i><i style="background:linear-gradient(90deg,#fffeb8 0px,#fffece 4.5px,#fffffc 8.5px,#bcbcfd 17.5px,#b7b7fd 20.5px,#cacafe 24.5px,#fafaff 29.5px,#fffff3 30.5px,#fffda8 34.5px,#fffc74 38.5px,#fffc55 42.5px,#fffb49 46.5px,#fffc54 51.5px,#fffc7b 57.5px,#ffffe7 68.5px,#fffffd 70.5px,#a6a6fd 89.5px,#8b8bfc 100.5px,#8080fc 122.5px,#8888fc 141.5px,#a5a5fd 155.5px,#a4a4fc 161px)"></i><i style="background:linear-gradient(90deg,#fffeb3 0px,#fffec8 4.5px,#fcfcff 9.5px,#bfbffd 17.5px,#b9b9fd 20.5px,#ccccfe 24.5px,#fcfcff 29.5px,#fffd94 35.5px,#fffc66 39.5px,#fffc4d 43.5px,#fffb47 48.5px,#fffc5a 53.5px,#fffd91 60.5px,#fdfdff 71.5px,#a8a8fd 89.5px,#8d8dfc 100.5px,#8181fc 121.5px,#8989fc 141.5px,#a7a7fd 154.5px,#a5a5fd 161px)"></i><i style="background:linear-gradient(90deg,#fffdaf 0px,#fffec3 4.5px,#fffee1 7.5px,#fffffe 9.5px,#c1c1fd 17.5px,#bbbbfd 20.5px,#c6c6fd 23.5px,#fefeff 29.5px,#fffd9f 34.5px,#fffc6c 38.5px,#fffc4e 42.5px,#fffb43 47.5px,#fffc51 52.5px,#fffd83 59.5px,#fffffd 71.5px,#a7a7fd 90.5px,#8d8dfc 101.5px,#8383fc 123.5px,#8b8bfc 142.5px,#a9a9fd 154.5px,#a6a6fd 161px)"></i><i style="background:linear-gradient(90deg,#fffdab 0px,#fffebd 4.5px,#fffedb 7.5px,#fffff8 9.5px,#fbfbff 10.5px,#c4c4fd 17.5px,#bdbdfd 20.5px,#c8c8fd 23.5px,#fffffd 29.5px,#fffdac 33.5px,#fffc72 37.5px,#fffc50 41.5px,#fffb3f 46.5px,#fffb49 51.5px,#fffc6e 57.5px,#fffecd 67.5px,#fdfdff 72.5px,#a9a9fd 90.5px,#8e8efc 101.5px,#8484fc 123.5px,#8c8cfc 142.5px,#ababfd 154.5px,#a7a7fd 161px)"></i><i style="background:linear-gradient(90deg,#fffda6 0px,#fffeb8 4.5px,#fffed5 7.5px,#fefeff 10.5px,#c6c6fd 17.5px,#bfbffd 20.5px,#c9c9fe 23.5px,#f7f7ff 28.5px,#fffff9 29.5px,#fffda8 33.5px,#fffc6e 37.5px,#fffb4c 41.5px,#fffb3c 46.5px,#fffb45 51.5px,#fffc6a 57.5px,#fffec8 67.5px,#fffffe 72.5px,#ababfd 90.5px,#9090fc 101.5px,#8585fc 122.5px,#8c8cfc 141.5px,#a0a0fc 149.5px,#adadfd 154.5px,#a8a8fd 161px)"></i><i style="background:linear-gradient(90deg,#fffda2 0px,#fffeb3 4.5px,#fffecf 7.5px,#fffffb 10.5px,#d6d6fe 15.5px,#c2c2fd 19.5px,#c6c6fd 22.5px,#e4e4fe 26.5px,#f9f9ff 28.5px,#fffff5 29.5px,#fffda3 33.5px,#fffc6a 37.5px,#fffb48 41.5px,#fffb38 46.5px,#fffb42 51.5px,#fffc66 57.5px,#fffec3 67.5px,#fffff9 72.5px,#f7f7ff 74.5px,#a9a9fd 91.5px,#8f8ffc 103.5px,#8686fc 128.5px,#9090fc 143.5px,#afaffd 154.5px,#a9a9fd 161px)"></i><i style="background:linear-gradient(90deg,#fffd9e 0px,#fffdae 4.5px,#fffec8 7.5px,#fcfcff 11.5px,#cbcbfe 17.5px,#c3c3fd 20.5px,#cdcdfe 23.5px,#fbfbff 28.5px,#fffff2 29.5px,#fffd9f 33.5px,#fffc66 37.5px,#fffb45 41.5px,#fffb35 46.5px,#fffb3e 51.5px,#fffc62 57.5px,#fffebf 67.5px,#fff 73.5px,#afaffd 90.5px,#9393fc 101.5px,#8787fc 121.5px,#8e8efc 141.5px,#a4a4fc 149.5px,#b1b1fd 154.5px,#aaaafd 161px)"></i><i style="background:linear-gradient(90deg,#fffd99 0px,#fffda8 4.5px,#fffec2 7.5px,#ffffed 10.5px,#fff 11.5px,#cecefe 17.5px,#c5c5fd 20.5px,#cecefe 23.5px,#fcfcff 28.5px,#fffd9b 33.5px,#fffc62 37.5px,#fffb41 41.5px,#fffb32 46.5px,#fffb3b 51.5px,#fffc5e 57.5px,#fffdaf 66.5px,#fffffa 73.5px,#f2f2ff 76.5px,#aaaafd 92.5px,#9191fc 104.5px,#8989fc 129.5px,#9494fc 144.5px,#b2b2fd 153.5px,#ababfd 161px)"></i><i style="background:linear-gradient(90deg,#fffd94 0px,#fffda8 5.5px,#fffec6 8.5px,#fffff5 11.5px,#fbfbff 12.5px,#d1d1fe 17.5px,#c8c8fd 20.5px,#d1d1fe 23.5px,#fff 28.5px,#fffda8 32.5px,#fffc76 35.5px,#fffb4b 39.5px,#fffb32 44.5px,#fffb32 49.5px,#fffb4c 55.5px,#fffd8d 63.5px,#fff 74.5px,#b1b1fd 91.5px,#9595fc 102.5px,#8a8afc 123.5px,#9292fc 142.5px,#a8a8fd 149.5px,#b6b6fd 153.5px,#acacfd 161px)"></i><i style="background:linear-gradient(90deg,#fffd8d 0px,#fffd9f 5.5px,#fffebb 8.5px,#ffffe8 11.5px,#fffffb 12.5px,#d1d1fe 18.5px,#ccccfe 21.5px,#dbdbfe 24.5px,#f8f8ff 27.5px,#fffff6 28.5px,#fffda0 32.5px,#fffc6f 35.5px,#fffb47 39.5px,#fffb2f 44.5px,#fffb2f 49.5px,#fffb49 55.5px,#fffd87 63.5px,#fdfdff 75.5px,#b1b1fd 92.5px,#9696fc 104.5px,#8c8cfc 127.5px,#9696fc 143.5px,#adadfd 149.5px,#bcbcfd 153.5px,#aeaefd 161px)"></i><i style="background:linear-gradient(90deg,#fffd86 0px,#fffd95 5.5px,#fffdaf 8.5px,#fffedb 11.5px,#fefeff 13.5px,#d5d5fe 18.5px,#d0d0fe 21.5px,#dfdffe 24.5px,#fcfcff 27.5px,#fffed6 29.5px,#fffd86 33.5px,#fffc5d 36.5px,#fffb3c 40.5px,#fffb2b 45.5px,#fffb33 51.5px,#fffc5a 58.5px,#fffda8 67.5px,#fffffc 75.5px,#b2b2fd 93.5px,#9898fc 105.5px,#8f8ffc 129.5px,#9898fc 143.5px,#ababfd 148.5px,#c0c0fd 152.5px,#bcbcfd 156.5px,#b1b1fd 161px)"></i><i style="background:linear-gradient(90deg,#fffc7f 0px,#fffd8c 5.5px,#fffda4 8.5px,#fffece 11.5px,#fffff4 13.5px,#fbfbff 14.5px,#dadafe 18.5px,#d4d4fe 21.5px,#e3e3fe 24.5px,#fffffd 27.5px,#fffda2 31.5px,#fffc70 34.5px,#fffb46 38.5px,#fffb2d 43.5px,#fffb29 48.5px,#fffb3d 54.5px,#fffc74 62.5px,#fffedf 73.5px,#fff 76.5px,#b6b6fd 93.5px,#9b9bfc 105.5px,#9191fc 128.5px,#9b9bfc 143.5px,#afaffd 148.5px,#c6c6fd 152.5px,#c5c5fd 155.5px,#b3b3fd 161px)"></i><i style="background:linear-gradient(90deg,#fffc79 0px,#fffd84 5.5px,#fffd99 8.5px,#fffec1 11.5px,#fffffb 14.5px,#dadafe 19.5px,#dadafe 22.5px,#f9f9ff 26.5px,#fffff4 27.5px,#fffd9a 31.5px,#fffc69 34.5px,#fffb42 38.5px,#fffb2a 43.5px,#fffb29 49.5px,#fffb45 56.5px,#fffd89 65.5px,#fefeff 77.5px,#b7b7fd 94.5px,#9c9cfc 107.5px,#9494fc 131.5px,#9f9ffc 144.5px,#babafd 149.5px,#ccccfe 152.5px,#cacafe 155.5px,#b5b5fd 161px)"></i><i style="background:linear-gradient(90deg,#fffc73 0px,#fffd80 6.5px,#fffd98 9.5px,#fffec6 12.5px,#fdfdff 15.5px,#dedefe 19.5px,#dedefe 22.5px,#f3f3ff 25.5px,#fdfdff 26.5px,#fffd91 31.5px,#fffc62 34.5px,#fffb3d 38.5px,#fffb26 44.5px,#fffb29 50.5px,#fffb48 57.5px,#fffd8c 66.5px,#fffffb 77.5px,#e1e1fe 84.5px,#afaffd 98.5px,#9b9bfc 112.5px,#9898fc 137.5px,#a5a5fd 145.5px,#d2d2fe 152.5px,#cfcffe 155.5px,#b7b7fd 161px)"></i><i style="background:linear-gradient(90deg,#fffc6c 0px,#fffc77 6.5px,#fffd8d 9.5px,#fffeb8 12.5px,#fffff6 15.5px,#f9f9ff 16.5px,#e3e3fe 19.5px,#e1e1fe 22.5px,#fffffa 26.5px,#fffd9d 30.5px,#fffc68 33.5px,#fffb40 37.5px,#fffb25 43.5px,#fffb24 49.5px,#fffb3e 56.5px,#fffc7d 65.5px,#fffffe 78.5px,#bcbcfd 95.5px,#a1a1fc 108.5px,#9999fc 132.5px,#a4a4fc 144.5px,#babafd 148.5px,#d8d8fe 152.5px,#d4d4fe 155.5px,#babafd 161px)"></i><i style="background:linear-gradient(90deg,#fffc66 0px,#fffc6f 6.5px,#fffd82 9.5px,#fffdab 12.5px,#fffffe 16.5px,#e7e7fe 19.5px,#e5e5fe 22.5px,#fafaff 25.5px,#fffff2 26.5px,#fffd94 30.5px,#fffc61 33.5px,#fffb3b 37.5px,#fffb23 43.5px,#fffb22 49.5px,#fffb3b 56.5px,#fffc77 65.5px,#fffee2 76.5px,#fefeff 79.5px,#bcbcfd 96.5px,#a3a3fc 109.5px,#9b9bfc 133.5px,#a6a6fd 144.5px,#bebefd 148.5px,#ddddfe 152.5px,#d9d9fe 155.5px,#bcbcfd 161px)"></i><i style="background:linear-gradient(90deg,#fffc5f 0px,#fffc69 7.5px,#fffc7f 10.5px,#fffdad 13.5px,#ffffef 16.5px,#fdfdff 17.5px,#e9e9fe 20.5px,#eef 23.5px,#fffffe 25.5px,#fffd89 30.5px,#fffc58 33.5px,#fffb36 37.5px,#fffb1c 44.5px,#fffb20 50.5px,#fffb41 58.5px,#fffc7f 67.5px,#fff 80.5px,#bfbffd 97.5px,#a5a5fd 111.5px,#9e9efc 134.5px,#a8a8fd 144.5px,#c1c1fd 148.5px,#e3e3fe 152.5px,#e3e3fe 154.5px,#bebefd 161px)"></i><i style="background:linear-gradient(90deg,#fffc59 0px,#fffc60 7.5px,#fffc72 10.5px,#fffd9d 13.5px,#fffff5 17.5px,#fafaff 18.5px,#ececfe 21.5px,#fafaff 24.5px,#fffff4 25.5px,#fffc7e 30.5px,#fffc50 33.5px,#fffb31 37.5px,#fffa17 44.5px,#fffa19 49.5px,#fffb3c 58.5px,#fffc76 67.5px,#fffecb 76.5px,#fff 81.5px,#c4c4fd 97.5px,#a9a9fd 111.5px,#a0a0fc 133.5px,#ababfd 144.5px,#c4c4fd 148.5px,#e8e8fe 152.5px,#e8e8fe 154.5px,#c0c0fd 161px)"></i><i style="background:linear-gradient(90deg,#fffc52 0px,#fffc5a 8.5px,#fffc70 11.5px,#fffda0 14.5px,#fffffb 18.5px,#f1f1ff 21.5px,#fff 24.5px,#fffd87 29.5px,#fffc53 32.5px,#fffb32 36.5px,#fffa13 44.5px,#fffa14 49.5px,#fffb41 60.5px,#fffc7d 69.5px,#fffffd 82.5px,#c4c4fd 99.5px,#aaaafd 114.5px,#a4a4fc 136.5px,#adadfd 144.5px,#bebefd 147.5px,#ededff 152.5px,#ededfe 154.5px,#c2c2fd 161px)"></i><i style="background:linear-gradient(90deg,#fffb4c 0px,#fffc51 8.5px,#fffc63 11.5px,#fffc7d 13.5px,#fffebd 16.5px,#ffffec 18.5px,#fff 19.5px,#f5f5ff 21.5px,#fbfbff 23.5px,#fffff5 24.5px,#fffc7b 29.5px,#fffb4b 32.5px,#fffb2d 36.5px,#fffa0c 45.5px,#fffa12 50.5px,#fffb4b 63.5px,#fffd83 71.5px,#fffffc 83.5px,#c6c6fd 100.5px,#acacfd 116.5px,#a7a7fd 138.5px,#b3b3fd 145.5px,#cacafe 148.5px,#f2f2ff 152.5px,#f1f1ff 154.5px,#c9c9fe 159.5px,#c4c4fd 161px)"></i><i style="background:linear-gradient(90deg,#fffb45 0px,#fffb4b 9.5px,#fffc60 12.5px,#fffc7e 14.5px,#fffff2 19.5px,#fefeff 20.5px,#fbfbff 22.5px,#fffffd 23.5px,#fffed3 25.5px,#fffc6f 29.5px,#fffc4d 31.5px,#fffb32 34.5px,#fffa09 44.5px,#fffa0a 49.5px,#fffb4a 64.5px,#fffd81 72.5px,#fffffa 84.5px,#f5f5ff 87.5px,#c4c4fd 103.5px,#acacfd 120.5px,#ababfd 140.5px,#b6b6fd 145.5px,#cdcdfe 148.5px,#f7f7ff 152.5px,#f6f6ff 154.5px,#cbcbfe 159.5px,#c6c6fd 161px)"></i><i style="background:linear-gradient(90deg,#fffb3f 0px,#fffb43 9.5px,#fffc53 12.5px,#fffc6e 14.5px,#fffeb3 17.5px,#fffee4 19.5px,#fffff6 20.5px,#fff 21.5px,#fffffe 22.5px,#fffff3 23.5px,#fffec8 25.5px,#fffc78 28.5px,#fffc51 30.5px,#fffb32 33.5px,#fffa02 45.5px,#fffa09 50.5px,#fffc4d 66.5px,#fffc7f 73.5px,#fffff9 85.5px,#f9f9ff 87.5px,#c9c9fe 103.5px,#b0b0fd 120.5px,#adadfd 140.5px,#b8b8fd 145.5px,#d0d0fe 148.5px,#fdfdff 152.5px,#fbfbff 154.5px,#cdcdfe 159.5px,#c8c8fd 161px)"></i><i style="background:linear-gradient(90deg,#fffb39 0px,#fffb3d 10.5px,#fffc50 13.5px,#fffc70 15.5px,#fffed6 19.5px,#ffffe9 20.5px,#fffff4 21.5px,#fffff4 22.5px,#ffffea 23.5px,#fffebd 25.5px,#fffc6b 28.5px,#fffb47 30.5px,#fffb2c 33.5px,#fff900 44.5px,#fffa04 50.5px,#fffb4b 67.5px,#fffc7c 74.5px,#fefeff 87.5px,#cfcffe 102.5px,#b4b4fd 119.5px,#afaffd 139.5px,#bbbbfd 145.5px,#d3d3fe 148.5px,#f9f9ff 151.5px,#fffff3 153.5px,#fffffc 154.5px,#cfcffe 159.5px,#cacafe 161px)"></i><i style="background:linear-gradient(90deg,#fffb33 0px,#fffb38 11.5px,#fffb44 13.5px,#fffc60 15.5px,#fffec1 19.5px,#fffed5 20.5px,#fffee0 21.5px,#fffee1 22.5px,#fffed7 23.5px,#fffdaa 25.5px,#fffc5d 28.5px,#fffb3c 30.5px,#fffb26 33.5px,#fff800 42.5px,#feed00 46.5px,#fffa00 51.5px,#fffc52 70.5px,#fffd88 77.5px,#fffffb 88.5px,#f1f1ff 92.5px,#c6c6fd 109.5px,#b2b2fd 128.5px,#b6b6fd 143.5px,#c3c3fd 146.5px,#e2e2fe 149.5px,#fefeff 151.5px,#ffffeb 152.5px,#fffee4 153.5px,#fbfbff 155.5px,#d1d1fe 159.5px,#cbcbfe 161px)"></i><i style="background:linear-gradient(90deg,#fffb2e 0px,#fffb31 11.5px,#fffb43 14.5px,#fffc63 16.5px,#fffebe 20.5px,#fffec9 21.5px,#fffeca 22.5px,#fffec0 23.5px,#fffd95 25.5px,#fffc4e 28.5px,#fffb33 30.5px,#fffa19 35.5px,#fffa00 40.5px,#fde200 45.5px,#fee800 49.5px,#fffa03 53.5px,#fffb2b 63.5px,#fffc52 72.5px,#fffc7f 78.5px,#fffffc 90.5px,#d3d3fe 105.5px,#b7b7fd 124.5px,#b5b5fd 141.5px,#bfbffd 145.5px,#d7d7fe 148.5px,#f3f3ff 150.5px,#fffff5 151.5px,#fffedb 152.5px,#fffed3 153.5px,#fffee2 154.5px,#fffffe 155.5px,#dadafe 158.5px,#cdcdfe 161px)"></i><i style="background:linear-gradient(90deg,#fffb29 0px,#fffb2d 12.5px,#fffb38 14.5px,#fffc53 16.5px,#fffda7 20.5px,#fffdb2 21.5px,#fffeb3 22.5px,#fffda9 23.5px,#fffd80 25.5px,#fffb41 28.5px,#fffb2a 30.5px,#fff800 39.5px,#fcd700 45.5px,#fddd00 49.5px,#fffa01 54.5px,#fffb23 62.5px,#fffb4b 73.5px,#fffc76 79.5px,#fffffd 92.5px,#d6d6fe 106.5px,#babafd 125.5px,#b8b8fd 142.5px,#c6c6fd 146.5px,#e6e6fe 149.5px,#f7f7ff 150.5px,#ffffea 151.5px,#fffecb 152.5px,#fffec3 153.5px,#fffed4 154.5px,#fffff5 155.5px,#f3f3ff 156.5px,#d4d4fe 159.5px,#cecefe 161px)"></i><i style="background:linear-gradient(90deg,#fffb24 0px,#fffb27 12.5px,#fffb37 15.5px,#fffc55 17.5px,#fffd91 20.5px,#fffd9b 21.5px,#fffd9c 22.5px,#fffd93 23.5px,#fffb43 27.5px,#fffb2a 29.5px,#fff600 38.5px,#fccf00 44.5px,#fbcb00 47.5px,#fdde00 51.5px,#fffa00 55.5px,#fffb1e 62.5px,#fffb45 74.5px,#fffc6c 80.5px,#fffffe 94.5px,#d8d8fe 107.5px,#bcbcfd 127.5px,#bbbbfd 142.5px,#c8c8fd 146.5px,#e9e9fe 149.5px,#fafaff 150.5px,#fffebb 152.5px,#fffdb2 153.5px,#fffec6 154.5px,#ffffec 155.5px,#f6f6ff 156.5px,#d5d5fe 159.5px,#d0d0fe 161px)"></i><i style="background:linear-gradient(90deg,#fffb1f 0px,#fffb22 13.5px,#fffb36 16.5px,#fffc7a 20.5px,#fffd84 21.5px,#fffd85 22.5px,#fffc7c 23.5px,#fffb35 27.5px,#fffb1b 30.5px,#fffa01 36.5px,#fbc400 44.5px,#fac000 47.5px,#fcd400 51.5px,#fff800 56.5px,#fffb1e 64.5px,#fffb3e 75.5px,#fffc63 81.5px,#fffdaa 88.5px,#fff 96.5px,#d9d9fe 109.5px,#bebefd 129.5px,#bfbffd 143.5px,#cacafe 146.5px,#ebebfe 149.5px,#fefeff 150.5px,#fffdab 152.5px,#fffda1 153.5px,#fffeb8 154.5px,#fffee3 155.5px,#f9f9ff 156.5px,#dedefe 158.5px,#d1d1fe 161px)"></i><i style="background:linear-gradient(90deg,#fffb1a 0px,#fffb1e 14.5px,#fffb2a 16.5px,#fffc64 20.5px,#fffc6d 21.5px,#fffc6e 22.5px,#fffc57 24.5px,#fffb29 27.5px,#fffa14 30.5px,#fff900 35.5px,#fab900 44.5px,#f9b500 47.5px,#fbc900 51.5px,#fff700 57.5px,#fffb1d 66.5px,#fffb3c 77.5px,#fffc62 83.5px,#fffdab 90.5px,#fffff7 97.5px,#fefeff 98.5px,#dcdcfe 110.5px,#c1c1fd 130.5px,#c1c1fd 143.5px,#ccccfe 146.5px,#dedefe 148.5px,#fffff9 150.5px,#fffec6 151.5px,#fffd9b 152.5px,#fffd90 153.5px,#fffdaa 154.5px,#fffed9 155.5px,#fbfbff 156.5px,#e0e0fe 158.5px,#d2d2fe 161px)"></i><i style="background:linear-gradient(90deg,#fffa15 0px,#fffb1a 15.5px,#fffb34 18.5px,#fffc4e 20.5px,#fffc56 21.5px,#fffc57 22.5px,#fffb43 24.5px,#fffb1d 27.5px,#fff700 34.5px,#f9ae00 44.5px,#f9aa00 47.5px,#fabf00 51.5px,#fff600 58.5px,#fffa13 64.5px,#fffb31 77.5px,#fffc51 83.5px,#fffd89 89.5px,#fffff8 99.5px,#fafaff 101.5px,#d9d9fe 114.5px,#c2c2fd 134.5px,#c6c6fd 144.5px,#d6d6fe 147.5px,#f0f0ff 149.5px,#fffff1 150.5px,#fffeb9 151.5px,#fffd8b 152.5px,#fffc7f 153.5px,#fffd9c 154.5px,#fefeff 156.5px,#e1e1fe 158.5px,#d4d4fe 161px)"></i><i style="background:linear-gradient(90deg,#fffa11 0px,#fffa13 15.5px,#fffb26 18.5px,#fffb43 21.5px,#fffb3d 23.5px,#fffa14 27.5px,#fff900 32.5px,#fcd900 37.5px,#f8a600 43.5px,#f89d00 46.5px,#f8a500 49.5px,#fef300 59.5px,#fffa07 62.5px,#fffb2c 79.5px,#fffb4c 85.5px,#fffd84 91.5px,#fffff5 101.5px,#fffffe 102.5px,#dcdcfe 115.5px,#c5c5fd 135.5px,#c8c8fd 144.5px,#d8d8fe 147.5px,#f2f2ff 149.5px,#ffffe9 150.5px,#fffdae 151.5px,#fffc7b 152.5px,#fffc6e 153.5px,#fffd8f 154.5px,#fffffc 156.5px,#e3e3fe 158.5px,#d5d5fe 161px)"></i><i style="background:linear-gradient(90deg,#fffa0c 0px,#fffa10 16.5px,#fffb27 19.5px,#fffb37 21.5px,#fffb31 23.5px,#fffa0c 27.5px,#fff500 31.5px,#fcd500 36.5px,#f79800 43.5px,#f68f00 46.5px,#f79700 49.5px,#feef00 60.5px,#fffa03 63.5px,#fffb28 82.5px,#fffb48 88.5px,#fffd80 94.5px,#fffff2 104.5px,#fdfdff 106.5px,#ddddfe 118.5px,#c8c8fe 138.5px,#cfcffe 145.5px,#e6e6fe 148.5px,#f5f5ff 149.5px,#fffee1 150.5px,#fffda2 151.5px,#fffc6d 152.5px,#fffc5f 153.5px,#fffd82 154.5px,#fffff6 156.5px,#f1f1ff 157.5px,#ddddfe 159.5px,#d7d7fe 161px)"></i><i style="background:linear-gradient(90deg,#fffa08 0px,#fffa0a 16.5px,#fffb1d 19.5px,#fffb2b 21.5px,#fffb25 23.5px,#fffa04 27.5px,#fde700 32.5px,#f9b500 38.5px,#f68a00 43.5px,#f58000 46.5px,#f68800 49.5px,#fabc00 55.5px,#feeb00 61.5px,#fffa01 65.5px,#fffb21 84.5px,#fffb3d 90.5px,#fffc71 96.5px,#fffff0 107.5px,#fefeff 109.5px,#dfdffe 121.5px,#ccccfe 140.5px,#d2d2fe 145.5px,#e8e8fe 148.5px,#f8f8ff 149.5px,#fffed9 150.5px,#fffd96 151.5px,#fffc5e 152.5px,#fffc50 153.5px,#fffc75 154.5px,#fffff0 156.5px,#f3f3ff 157.5px,#dfdffe 159.5px,#d9d9fe 161px)"></i><i style="background:linear-gradient(90deg,#fffa03 0px,#fffa07 17.5px,#fffb1f 21.5px,#fffa19 23.5px,#fffa00 26.5px,#fcd500 33.5px,#f57c00 43.5px,#f47200 46.5px,#f57a00 49.5px,#f8a400 54.5px,#fcda00 60.5px,#fff700 66.5px,#fffa17 85.5px,#fffb33 92.5px,#fffc63 98.5px,#ffffed 110.5px,#fff 112.5px,#e0e0fe 124.5px,#d1d1fe 141.5px,#dadafe 146.5px,#ebebfe 148.5px,#fcfcff 149.5px,#fffed0 150.5px,#fffd8a 151.5px,#fffc4f 152.5px,#fffb40 153.5px,#fffc68 154.5px,#ffffea 156.5px,#f5f5ff 157.5px,#e1e1fe 159.5px,#dcdcfe 161px)"></i><i style="background:linear-gradient(90deg,#fff900 0px,#fffa04 18.5px,#fffa12 21.5px,#fffa0c 23.5px,#fff700 25.5px,#fcd000 32.5px,#f47400 42.5px,#f36500 45.5px,#f36700 48.5px,#f58200 52.5px,#fcd600 61.5px,#fef200 67.5px,#fffa03 75.5px,#fffa16 89.5px,#fffb35 96.5px,#fffc6a 102.5px,#ffffeb 113.5px,#fffffd 115.5px,#e1e1fe 128.5px,#d6d6fe 143.5px,#e5e5fe 147.5px,#fff 149.5px,#fffec7 150.5px,#fffc7e 151.5px,#fffb3f 152.5px,#fffb30 153.5px,#fffc5a 154.5px,#fffee3 156.5px,#f7f7ff 157.5px,#e3e3fe 159.5px,#dedefe 161px)"></i><i style="background:linear-gradient(90deg,#fff400 0px,#fff600 18.5px,#fffa04 22.5px,#fef300 24.5px,#fbc400 32.5px,#f36500 42.5px,#f25600 46.5px,#f36300 50.5px,#fcd100 62.5px,#feed00 68.5px,#fffa01 81.5px,#fffa11 92.5px,#fffb30 99.5px,#fffc66 105.5px,#ffffe8 116.5px,#fdfdff 119.5px,#e2e2fe 131.5px,#dadafe 143.5px,#e8e8fe 147.5px,#f2f2ff 148.5px,#fffff7 149.5px,#fffebe 150.5px,#fffc71 151.5px,#fffb30 152.5px,#fffb20 153.5px,#fffb4c 154.5px,#fffd98 155.5px,#fffedc 156.5px,#fafaff 157.5px,#e5e5fe 159.5px,#e0e0fe 161px)"></i><i style="background:linear-gradient(90deg,#fef000 0px,#fef000 22.5px,#fbc700 30.5px,#f68500 37.5px,#f25700 42.5px,#f14800 46.5px,#f25500 50.5px,#f68d00 56.5px,#fbc600 62.5px,#fde500 68.5px,#fff400 79.5px,#fffa04 91.5px,#fffb1b 99.5px,#fffb43 105.5px,#fffd86 111.5px,#fffee5 119.5px,#fff 122.5px,#e4e4fe 134.5px,#dfdffe 144.5px,#ebebfe 147.5px,#f5f5ff 148.5px,#fffff0 149.5px,#fffeb4 150.5px,#fffc65 151.5px,#fffb20 152.5px,#fffa0f 153.5px,#fffb3e 154.5px,#fffd8e 155.5px,#fffed5 156.5px,#fdfdff 157.5px,#e8e8fe 159.5px,#e3e3fe 161px)"></i><i style="background:linear-gradient(90deg,#feec00 0px,#fde600 20.5px,#fccf00 27.5px,#f8a000 33.5px,#f14f00 41.5px,#f03b00 45.5px,#f04100 49.5px,#f36900 54.5px,#fab900 62.5px,#fddd00 68.5px,#feed00 77.5px,#fffa04 96.5px,#fffb1c 103.5px,#fffb49 109.5px,#fffeb5 118.5px,#fffff5 124.5px,#fcfcff 126.5px,#e5e5fe 138.5px,#e5e5fe 145.5px,#f9f9ff 148.5px,#ffffe8 149.5px,#fffdab 150.5px,#fffc58 151.5px,#fffa10 152.5px,#fff900 153.5px,#fffb30 154.5px,#fffd84 155.5px,#fffece 156.5px,#fff 157.5px,#eaeafe 159.5px,#e5e5fe 161px)"></i></div>
<div class="cb" style="background:linear-gradient(180deg,#eb0000 0.00%,#ec1200 1.72%,#ee2400 3.45%,#ef3600 5.17%,#f14700 6.90%,#f25900 8.62%,#f46b00 10.34%,#f57d00 12.07%,#f68f00 13.79%,#f8a100 15.52%,#f9b300 17.24%,#fbc400 18.97%,#fcd600 20.69%,#fee800 22.41%,#fffa00 24.14%,#fffa12 25.86%,#fffb24 27.59%,#fffb37 29.31%,#fffb49 31.03%,#fffc5b 32.76%,#fffc6d 34.48%,#fffc7f 36.21%,#fffd92 37.93%,#fffda4 39.66%,#fffeb6 41.38%,#fffec8 43.10%,#fffedb 44.83%,#ffffed 46.55%,#fff 48.28%,#f7f7ff 50.00%,#eef 51.72%,#e6e6fe 53.45%,#ddddfe 55.17%,#d4d4fe 56.90%,#ccccfe 58.62%,#c4c4fd 60.34%,#bbbbfd 62.07%,#b3b3fd 63.79%,#aaaafd 65.52%,#a2a2fc 67.24%,#9999fc 68.97%,#9191fc 70.69%,#8888fc 72.41%,#8080fc 74.14%,#7777fb 75.86%,#6e6efb 77.59%,#6666fb 79.31%,#5e5efb 81.03%,#5555fa 82.76%,#4d4dfa 84.48%,#4444fa 86.21%,#3c3cfa 87.93%,#3333f9 89.66%,#2b2bf9 91.38%,#2222f9 93.10%,#1a1af9 94.83%,#1111f8 96.55%,#0909f8 98.28%,#0000f8 100.00%)"></div>
<svg width="685" height="392" viewBox="0 0 685 392" font-family="Liberation Sans, sans-serif">
<style>text{stroke-width:0.2px;} .g{stroke:#333;}</style>
<rect x="36.5" y="9.5" width="161.0" height="147.0" fill="none" stroke="#4a4a4a" stroke-width="1"/>
<line x1="33.5" y1="156.5" x2="36.5" y2="156.5" stroke="#4a4a4a" stroke-width="1"/>
<text x="29.3" y="159.20" font-size="8.7" text-anchor="end" fill="#333" class="g">0</text>
<line x1="33.5" y1="127.10000000000001" x2="36.5" y2="127.10000000000001" stroke="#4a4a4a" stroke-width="1"/>
<text x="29.3" y="129.80" font-size="8.7" text-anchor="end" fill="#333" class="g">00</text>
<path d="M17.90,123.98 L19.00,123.98 L19.00,129.85 L17.90,129.85 Z M18.20,123.98 L18.20,125.08 L16.80,125.98 L16.80,124.98 Z" fill="#333"/>
<line x1="33.5" y1="97.7" x2="36.5" y2="97.7" stroke="#4a4a4a" stroke-width="1"/>
<text x="29.3" y="100.40" font-size="8.7" text-anchor="end" fill="#333" class="g">200</text>
<line x1="33.5" y1="68.30000000000001" x2="36.5" y2="68.30000000000001" stroke="#4a4a4a" stroke-width="1"/>
<text x="29.3" y="71.00" font-size="8.7" text-anchor="end" fill="#333" class="g">300</text>
<line x1="33.5" y1="38.900000000000006" x2="36.5" y2="38.900000000000006" stroke="#4a4a4a" stroke-width="1"/>
<text x="29.3" y="41.60" font-size="8.7" text-anchor="end" fill="#333" class="g">400</text>
<line x1="33.5" y1="9.5" x2="36.5" y2="9.5" stroke="#4a4a4a" stroke-width="1"/>
<text x="29.3" y="12.20" font-size="8.7" text-anchor="end" fill="#333" class="g">500</text>
<line x1="52.13" y1="156.5" x2="52.13" y2="159.5" stroke="#4a4a4a" stroke-width="1"/>
<text x="52.13" y="168.70" font-size="8.6" text-anchor="middle" fill="#333" class="g">750</text>
<line x1="84.44" y1="156.5" x2="84.44" y2="159.5" stroke="#4a4a4a" stroke-width="1"/>
<text x="84.44" y="168.70" font-size="8.6" text-anchor="middle" fill="#333" class="g">800</text>
<line x1="116.74" y1="156.5" x2="116.74" y2="159.5" stroke="#4a4a4a" stroke-width="1"/>
<text x="116.74" y="168.70" font-size="8.6" text-anchor="middle" fill="#333" class="g">850</text>
<line x1="149.04" y1="156.5" x2="149.04" y2="159.5" stroke="#4a4a4a" stroke-width="1"/>
<text x="149.04" y="168.70" font-size="8.6" text-anchor="middle" fill="#333" class="g">900</text>
<line x1="181.35" y1="156.5" x2="181.35" y2="159.5" stroke="#4a4a4a" stroke-width="1"/>
<text x="181.35" y="168.70" font-size="8.6" text-anchor="middle" fill="#333" class="g">950</text>
<text x="117.00" y="182.60" font-size="8.8" text-anchor="middle" textLength="68.2" lengthAdjust="spacingAndGlyphs" fill="#333" class="g">Wavelength (nm)</text>
<text transform="translate(7.50,83.00) rotate(-90)" x="0" y="0" font-size="8.6" text-anchor="middle" textLength="56.7" lengthAdjust="spacingAndGlyphs" fill="#333" class="g">Delay time (fs)</text>
<text x="0.0" y="8.50" font-size="12.4" font-weight="bold" fill="#111" stroke="#111" style="stroke-width:0.8px">a</text>
<text x="173.60" y="24.70" font-size="9.4" textLength="17.6" lengthAdjust="spacingAndGlyphs" fill="#e8e8ff">OCP</text>
<rect x="256.0" y="9.5" width="161.0" height="147.0" fill="none" stroke="#4a4a4a" stroke-width="1"/>
<line x1="253.0" y1="156.5" x2="256.0" y2="156.5" stroke="#4a4a4a" stroke-width="1"/>
<text x="248.8" y="159.20" font-size="8.7" text-anchor="end" fill="#333" class="g">0</text>
<line x1="253.0" y1="127.10000000000001" x2="256.0" y2="127.10000000000001" stroke="#4a4a4a" stroke-width="1"/>
<text x="248.8" y="129.80" font-size="8.7" text-anchor="end" fill="#333" class="g">00</text>
<path d="M237.40,123.98 L238.50,123.98 L238.50,129.85 L237.40,129.85 Z M237.70,123.98 L237.70,125.08 L236.30,125.98 L236.30,124.98 Z" fill="#333"/>
<line x1="253.0" y1="97.7" x2="256.0" y2="97.7" stroke="#4a4a4a" stroke-width="1"/>
<text x="248.8" y="100.40" font-size="8.7" text-anchor="end" fill="#333" class="g">200</text>
<line x1="253.0" y1="68.30000000000001" x2="256.0" y2="68.30000000000001" stroke="#4a4a4a" stroke-width="1"/>
<text x="248.8" y="71.00" font-size="8.7" text-anchor="end" fill="#333" class="g">300</text>
<line x1="253.0" y1="38.900000000000006" x2="256.0" y2="38.900000000000006" stroke="#4a4a4a" stroke-width="1"/>
<text x="248.8" y="41.60" font-size="8.7" text-anchor="end" fill="#333" class="g">400</text>
<line x1="253.0" y1="9.5" x2="256.0" y2="9.5" stroke="#4a4a4a" stroke-width="1"/>
<text x="248.8" y="12.20" font-size="8.7" text-anchor="end" fill="#333" class="g">500</text>
<line x1="271.63" y1="156.5" x2="271.63" y2="159.5" stroke="#4a4a4a" stroke-width="1"/>
<text x="271.63" y="168.70" font-size="8.6" text-anchor="middle" fill="#333" class="g">750</text>
<line x1="303.94" y1="156.5" x2="303.94" y2="159.5" stroke="#4a4a4a" stroke-width="1"/>
<text x="303.94" y="168.70" font-size="8.6" text-anchor="middle" fill="#333" class="g">800</text>
<line x1="336.24" y1="156.5" x2="336.24" y2="159.5" stroke="#4a4a4a" stroke-width="1"/>
<text x="336.24" y="168.70" font-size="8.6" text-anchor="middle" fill="#333" class="g">850</text>
<line x1="368.54" y1="156.5" x2="368.54" y2="159.5" stroke="#4a4a4a" stroke-width="1"/>
<text x="368.54" y="168.70" font-size="8.6" text-anchor="middle" fill="#333" class="g">900</text>
<line x1="400.85" y1="156.5" x2="400.85" y2="159.5" stroke="#4a4a4a" stroke-width="1"/>
<text x="400.85" y="168.70" font-size="8.6" text-anchor="middle" fill="#333" class="g">950</text>
<text x="336.50" y="182.60" font-size="8.8" text-anchor="middle" textLength="68.2" lengthAdjust="spacingAndGlyphs" fill="#333" class="g">Wavelength (nm)</text>
<text transform="translate(227.00,83.00) rotate(-90)" x="0" y="0" font-size="8.6" text-anchor="middle" textLength="56.7" lengthAdjust="spacingAndGlyphs" fill="#333" class="g">Delay time (fs)</text>
<text x="219.7" y="8.50" font-size="12.4" font-weight="bold" fill="#111" stroke="#111" style="stroke-width:0.8px">b</text>
<path d="M394.35,18.41 L395.50,18.41 L395.50,25.00 L394.35,25.00 Z M394.65,18.41 L394.65,19.51 L393.00,20.41 L393.00,19.41 Z" fill="#e8e8ff"/>
<text transform="translate(395.57,25.00) scale(1.472,1)" font-size="9.2" fill="#e8e8ff">.</text>
<path d="M399.95,18.41 L401.10,18.41 L401.10,25.00 L399.95,25.00 Z M400.25,18.41 L400.25,19.51 L399.00,20.41 L399.00,19.41 Z" fill="#e8e8ff"/>
<text transform="translate(404.76,25.00) scale(0.844,1)" font-size="9.2" fill="#e8e8ff">V</text>
<rect x="474.3" y="9.5" width="161.0" height="147.0" fill="none" stroke="#4a4a4a" stroke-width="1"/>
<line x1="471.3" y1="156.5" x2="474.3" y2="156.5" stroke="#4a4a4a" stroke-width="1"/>
<text x="467.1" y="159.20" font-size="8.7" text-anchor="end" fill="#333" class="g">0</text>
<line x1="471.3" y1="127.10000000000001" x2="474.3" y2="127.10000000000001" stroke="#4a4a4a" stroke-width="1"/>
<text x="467.1" y="129.80" font-size="8.7" text-anchor="end" fill="#333" class="g">00</text>
<path d="M455.70,123.98 L456.80,123.98 L456.80,129.85 L455.70,129.85 Z M456.00,123.98 L456.00,125.08 L454.60,125.98 L454.60,124.98 Z" fill="#333"/>
<line x1="471.3" y1="97.7" x2="474.3" y2="97.7" stroke="#4a4a4a" stroke-width="1"/>
<text x="467.1" y="100.40" font-size="8.7" text-anchor="end" fill="#333" class="g">200</text>
<line x1="471.3" y1="68.30000000000001" x2="474.3" y2="68.30000000000001" stroke="#4a4a4a" stroke-width="1"/>
<text x="467.1" y="71.00" font-size="8.7" text-anchor="end" fill="#333" class="g">300</text>
<line x1="471.3" y1="38.900000000000006" x2="474.3" y2="38.900000000000006" stroke="#4a4a4a" stroke-width="1"/>
<text x="467.1" y="41.60" font-size="8.7" text-anchor="end" fill="#333" class="g">400</text>
<line x1="471.3" y1="9.5" x2="474.3" y2="9.5" stroke="#4a4a4a" stroke-width="1"/>
<text x="467.1" y="12.20" font-size="8.7" text-anchor="end" fill="#333" class="g">500</text>
<line x1="489.93" y1="156.5" x2="489.93" y2="159.5" stroke="#4a4a4a" stroke-width="1"/>
<text x="489.93" y="168.70" font-size="8.6" text-anchor="middle" fill="#333" class="g">750</text>
<line x1="522.24" y1="156.5" x2="522.24" y2="159.5" stroke="#4a4a4a" stroke-width="1"/>
<text x="522.24" y="168.70" font-size="8.6" text-anchor="middle" fill="#333" class="g">800</text>
<line x1="554.54" y1="156.5" x2="554.54" y2="159.5" stroke="#4a4a4a" stroke-width="1"/>
<text x="554.54" y="168.70" font-size="8.6" text-anchor="middle" fill="#333" class="g">850</text>
<line x1="586.84" y1="156.5" x2="586.84" y2="159.5" stroke="#4a4a4a" stroke-width="1"/>
<text x="586.84" y="168.70" font-size="8.6" text-anchor="middle" fill="#333" class="g">900</text>
<line x1="619.15" y1="156.5" x2="619.15" y2="159.5" stroke="#4a4a4a" stroke-width="1"/>
<text x="619.15" y="168.70" font-size="8.6" text-anchor="middle" fill="#333" class="g">950</text>
<text x="554.80" y="182.60" font-size="8.8" text-anchor="middle" textLength="68.2" lengthAdjust="spacingAndGlyphs" fill="#333" class="g">Wavelength (nm)</text>
<text transform="translate(445.30,83.00) rotate(-90)" x="0" y="0" font-size="8.6" text-anchor="middle" textLength="56.7" lengthAdjust="spacingAndGlyphs" fill="#333" class="g">Delay time (fs)</text>
<text x="438.1" y="8.50" font-size="12.4" font-weight="bold" fill="#111" stroke="#111" style="stroke-width:0.8px">c</text>
<path d="M609.25,18.81 L610.40,18.81 L610.40,25.40 L609.25,25.40 Z M609.55,18.81 L609.55,19.91 L607.70,20.81 L607.70,19.81 Z" fill="#e8e8ff"/>
<text transform="translate(610.27,25.40) scale(1.585,1)" font-size="9.2" fill="#e8e8ff">.</text>
<text transform="translate(613.32,25.40) scale(1.078,1)" font-size="9.2" fill="#e8e8ff">3</text>
<text transform="translate(620.96,25.40) scale(0.893,1)" font-size="9.2" fill="#e8e8ff">V</text>
<rect x="36.5" y="216.5" width="161.0" height="147.0" fill="none" stroke="#4a4a4a" stroke-width="1"/>
<line x1="33.5" y1="363.5" x2="36.5" y2="363.5" stroke="#4a4a4a" stroke-width="1"/>
<text x="29.3" y="366.20" font-size="8.7" text-anchor="end" fill="#333" class="g">0</text>
<line x1="33.5" y1="334.1" x2="36.5" y2="334.1" stroke="#4a4a4a" stroke-width="1"/>
<text x="29.3" y="336.80" font-size="8.7" text-anchor="end" fill="#333" class="g">00</text>
<path d="M17.90,330.98 L19.00,330.98 L19.00,336.85 L17.90,336.85 Z M18.20,330.98 L18.20,332.08 L16.80,332.98 L16.80,331.98 Z" fill="#333"/>
<line x1="33.5" y1="304.7" x2="36.5" y2="304.7" stroke="#4a4a4a" stroke-width="1"/>
<text x="29.3" y="307.40" font-size="8.7" text-anchor="end" fill="#333" class="g">200</text>
<line x1="33.5" y1="275.3" x2="36.5" y2="275.3" stroke="#4a4a4a" stroke-width="1"/>
<text x="29.3" y="278.00" font-size="8.7" text-anchor="end" fill="#333" class="g">300</text>
<line x1="33.5" y1="245.9" x2="36.5" y2="245.9" stroke="#4a4a4a" stroke-width="1"/>
<text x="29.3" y="248.60" font-size="8.7" text-anchor="end" fill="#333" class="g">400</text>
<line x1="33.5" y1="216.5" x2="36.5" y2="216.5" stroke="#4a4a4a" stroke-width="1"/>
<text x="29.3" y="219.20" font-size="8.7" text-anchor="end" fill="#333" class="g">500</text>
<line x1="52.13" y1="363.5" x2="52.13" y2="366.5" stroke="#4a4a4a" stroke-width="1"/>
<text x="52.13" y="375.70" font-size="8.6" text-anchor="middle" fill="#333" class="g">750</text>
<line x1="84.44" y1="363.5" x2="84.44" y2="366.5" stroke="#4a4a4a" stroke-width="1"/>
<text x="84.44" y="375.70" font-size="8.6" text-anchor="middle" fill="#333" class="g">800</text>
<line x1="116.74" y1="363.5" x2="116.74" y2="366.5" stroke="#4a4a4a" stroke-width="1"/>
<text x="116.74" y="375.70" font-size="8.6" text-anchor="middle" fill="#333" class="g">850</text>
<line x1="149.04" y1="363.5" x2="149.04" y2="366.5" stroke="#4a4a4a" stroke-width="1"/>
<text x="149.04" y="375.70" font-size="8.6" text-anchor="middle" fill="#333" class="g">900</text>
<line x1="181.35" y1="363.5" x2="181.35" y2="366.5" stroke="#4a4a4a" stroke-width="1"/>
<text x="181.35" y="375.70" font-size="8.6" text-anchor="middle" fill="#333" class="g">950</text>
<text x="117.00" y="389.60" font-size="8.8" text-anchor="middle" textLength="68.2" lengthAdjust="spacingAndGlyphs" fill="#333" class="g">Wavelength (nm)</text>
<text transform="translate(7.50,290.00) rotate(-90)" x="0" y="0" font-size="8.6" text-anchor="middle" textLength="56.7" lengthAdjust="spacingAndGlyphs" fill="#333" class="g">Delay time (fs)</text>
<text x="0.0" y="215.80" font-size="12.4" font-weight="bold" fill="#111" stroke="#111" style="stroke-width:0.8px">d</text>
<path d="M172.35,224.21 L173.50,224.21 L173.50,230.80 L172.35,230.80 Z M172.65,224.21 L172.65,225.31 L170.90,226.21 L170.90,225.21 Z" fill="#e8e8ff"/>
<text transform="translate(173.07,230.80) scale(1.585,1)" font-size="9.2" fill="#e8e8ff">.</text>
<text transform="translate(176.32,230.80) scale(1.032,1)" font-size="9.2" fill="#e8e8ff">5</text>
<text transform="translate(183.96,230.80) scale(0.844,1)" font-size="9.2" fill="#e8e8ff">V</text>
<rect x="256.0" y="216.5" width="161.0" height="147.0" fill="none" stroke="#4a4a4a" stroke-width="1"/>
<line x1="253.0" y1="363.5" x2="256.0" y2="363.5" stroke="#4a4a4a" stroke-width="1"/>
<text x="248.8" y="366.20" font-size="8.7" text-anchor="end" fill="#333" class="g">0</text>
<line x1="253.0" y1="334.1" x2="256.0" y2="334.1" stroke="#4a4a4a" stroke-width="1"/>
<text x="248.8" y="336.80" font-size="8.7" text-anchor="end" fill="#333" class="g">00</text>
<path d="M237.40,330.98 L238.50,330.98 L238.50,336.85 L237.40,336.85 Z M237.70,330.98 L237.70,332.08 L236.30,332.98 L236.30,331.98 Z" fill="#333"/>
<line x1="253.0" y1="304.7" x2="256.0" y2="304.7" stroke="#4a4a4a" stroke-width="1"/>
<text x="248.8" y="307.40" font-size="8.7" text-anchor="end" fill="#333" class="g">200</text>
<line x1="253.0" y1="275.3" x2="256.0" y2="275.3" stroke="#4a4a4a" stroke-width="1"/>
<text x="248.8" y="278.00" font-size="8.7" text-anchor="end" fill="#333" class="g">300</text>
<line x1="253.0" y1="245.9" x2="256.0" y2="245.9" stroke="#4a4a4a" stroke-width="1"/>
<text x="248.8" y="248.60" font-size="8.7" text-anchor="end" fill="#333" class="g">400</text>
<line x1="253.0" y1="216.5" x2="256.0" y2="216.5" stroke="#4a4a4a" stroke-width="1"/>
<text x="248.8" y="219.20" font-size="8.7" text-anchor="end" fill="#333" class="g">500</text>
<line x1="271.63" y1="363.5" x2="271.63" y2="366.5" stroke="#4a4a4a" stroke-width="1"/>
<text x="271.63" y="375.70" font-size="8.6" text-anchor="middle" fill="#333" class="g">750</text>
<line x1="303.94" y1="363.5" x2="303.94" y2="366.5" stroke="#4a4a4a" stroke-width="1"/>
<text x="303.94" y="375.70" font-size="8.6" text-anchor="middle" fill="#333" class="g">800</text>
<line x1="336.24" y1="363.5" x2="336.24" y2="366.5" stroke="#4a4a4a" stroke-width="1"/>
<text x="336.24" y="375.70" font-size="8.6" text-anchor="middle" fill="#333" class="g">850</text>
<line x1="368.54" y1="363.5" x2="368.54" y2="366.5" stroke="#4a4a4a" stroke-width="1"/>
<text x="368.54" y="375.70" font-size="8.6" text-anchor="middle" fill="#333" class="g">900</text>
<line x1="400.85" y1="363.5" x2="400.85" y2="366.5" stroke="#4a4a4a" stroke-width="1"/>
<text x="400.85" y="375.70" font-size="8.6" text-anchor="middle" fill="#333" class="g">950</text>
<text x="336.50" y="389.60" font-size="8.8" text-anchor="middle" textLength="68.2" lengthAdjust="spacingAndGlyphs" fill="#333" class="g">Wavelength (nm)</text>
<text transform="translate(227.00,290.00) rotate(-90)" x="0" y="0" font-size="8.6" text-anchor="middle" textLength="56.7" lengthAdjust="spacingAndGlyphs" fill="#333" class="g">Delay time (fs)</text>
<text x="219.7" y="215.80" font-size="12.4" font-weight="bold" fill="#111" stroke="#111" style="stroke-width:0.8px">e</text>
<path d="M393.55,223.81 L394.70,223.81 L394.70,230.40 L393.55,230.40 Z M393.85,223.81 L393.85,224.91 L392.00,225.81 L392.00,224.81 Z" fill="#e8e8ff"/>
<text transform="translate(394.37,230.40) scale(1.585,1)" font-size="9.2" fill="#e8e8ff">.</text>
<text transform="translate(397.65,230.40) scale(0.956,1)" font-size="9.2" fill="#e8e8ff">7</text>
<text transform="translate(404.86,230.40) scale(0.844,1)" font-size="9.2" fill="#e8e8ff">V</text>
<rect x="474.3" y="216.5" width="161.0" height="147.0" fill="none" stroke="#4a4a4a" stroke-width="1"/>
<line x1="471.3" y1="363.5" x2="474.3" y2="363.5" stroke="#4a4a4a" stroke-width="1"/>
<text x="467.1" y="366.20" font-size="8.7" text-anchor="end" fill="#333" class="g">0</text>
<line x1="471.3" y1="334.1" x2="474.3" y2="334.1" stroke="#4a4a4a" stroke-width="1"/>
<text x="467.1" y="336.80" font-size="8.7" text-anchor="end" fill="#333" class="g">00</text>
<path d="M455.70,330.98 L456.80,330.98 L456.80,336.85 L455.70,336.85 Z M456.00,330.98 L456.00,332.08 L454.60,332.98 L454.60,331.98 Z" fill="#333"/>
<line x1="471.3" y1="304.7" x2="474.3" y2="304.7" stroke="#4a4a4a" stroke-width="1"/>
<text x="467.1" y="307.40" font-size="8.7" text-anchor="end" fill="#333" class="g">200</text>
<line x1="471.3" y1="275.3" x2="474.3" y2="275.3" stroke="#4a4a4a" stroke-width="1"/>
<text x="467.1" y="278.00" font-size="8.7" text-anchor="end" fill="#333" class="g">300</text>
<line x1="471.3" y1="245.9" x2="474.3" y2="245.9" stroke="#4a4a4a" stroke-width="1"/>
<text x="467.1" y="248.60" font-size="8.7" text-anchor="end" fill="#333" class="g">400</text>
<line x1="471.3" y1="216.5" x2="474.3" y2="216.5" stroke="#4a4a4a" stroke-width="1"/>
<text x="467.1" y="219.20" font-size="8.7" text-anchor="end" fill="#333" class="g">500</text>
<line x1="489.93" y1="363.5" x2="489.93" y2="366.5" stroke="#4a4a4a" stroke-width="1"/>
<text x="489.93" y="375.70" font-size="8.6" text-anchor="middle" fill="#333" class="g">750</text>
<line x1="522.24" y1="363.5" x2="522.24" y2="366.5" stroke="#4a4a4a" stroke-width="1"/>
<text x="522.24" y="375.70" font-size="8.6" text-anchor="middle" fill="#333" class="g">800</text>
<line x1="554.54" y1="363.5" x2="554.54" y2="366.5" stroke="#4a4a4a" stroke-width="1"/>
<text x="554.54" y="375.70" font-size="8.6" text-anchor="middle" fill="#333" class="g">850</text>
<line x1="586.84" y1="363.5" x2="586.84" y2="366.5" stroke="#4a4a4a" stroke-width="1"/>
<text x="586.84" y="375.70" font-size="8.6" text-anchor="middle" fill="#333" class="g">900</text>
<line x1="619.15" y1="363.5" x2="619.15" y2="366.5" stroke="#4a4a4a" stroke-width="1"/>
<text x="619.15" y="375.70" font-size="8.6" text-anchor="middle" fill="#333" class="g">950</text>
<text x="554.80" y="389.60" font-size="8.8" text-anchor="middle" textLength="68.2" lengthAdjust="spacingAndGlyphs" fill="#333" class="g">Wavelength (nm)</text>
<text transform="translate(445.30,290.00) rotate(-90)" x="0" y="0" font-size="8.6" text-anchor="middle" textLength="56.7" lengthAdjust="spacingAndGlyphs" fill="#333" class="g">Delay time (fs)</text>
<text x="438.1" y="215.80" font-size="12.4" font-weight="bold" fill="#111" stroke="#111" style="stroke-width:0.8px">f</text>
<path d="M609.25,224.21 L610.40,224.21 L610.40,230.80 L609.25,230.80 Z M609.55,224.21 L609.55,225.31 L607.70,226.21 L607.70,225.21 Z" fill="#e8e8ff"/>
<text transform="translate(610.27,230.80) scale(1.585,1)" font-size="9.2" fill="#e8e8ff">.</text>
<text transform="translate(613.17,230.80) scale(1.223,1)" font-size="9.2" fill="#e8e8ff">9</text>
<text transform="translate(621.86,230.80) scale(0.860,1)" font-size="9.2" fill="#e8e8ff">V</text>
<line x1="649.8000000000001" y1="12.00" x2="652.4000000000001" y2="12.00" stroke="#4a4a4a" stroke-width="1"/>
<text transform="translate(656.34,14.35) scale(0.952,1)" font-size="7.6" fill="#333" class="g">2</text>
<text transform="translate(660.05,14.35) scale(1.234,1)" font-size="7.6" fill="#333" class="g">.</text>
<text transform="translate(662.60,14.35) scale(0.972,1)" font-size="7.6" fill="#333" class="g">5</text>
<line x1="649.8000000000001" y1="47.62" x2="652.4000000000001" y2="47.62" stroke="#4a4a4a" stroke-width="1"/>
<path d="M658.00,44.53 L659.00,44.53 L659.00,49.98 L658.00,49.98 Z M658.30,44.53 L658.30,45.63 L656.70,46.53 L656.70,45.53 Z" fill="#333"/>
<text transform="translate(658.56,49.98) scale(1.645,1)" font-size="7.6" fill="#333" class="g">.</text>
<text transform="translate(661.71,49.98) scale(0.896,1)" font-size="7.6" fill="#333" class="g">8</text>
<line x1="649.8000000000001" y1="83.25" x2="652.4000000000001" y2="83.25" stroke="#4a4a4a" stroke-width="1"/>
<path d="M658.00,80.16 L659.00,80.16 L659.00,85.60 L658.00,85.60 Z M658.30,80.16 L658.30,81.26 L656.60,82.16 L656.60,81.16 Z" fill="#333"/>
<text transform="translate(658.66,85.60) scale(1.645,1)" font-size="7.6" fill="#333" class="g">.</text>
<path d="M662.90,80.16 L663.90,80.16 L663.90,85.60 L662.90,85.60 Z M663.20,80.16 L663.20,81.26 L661.40,82.16 L661.40,81.16 Z" fill="#333"/>
<line x1="649.8000000000001" y1="118.88" x2="652.4000000000001" y2="118.88" stroke="#4a4a4a" stroke-width="1"/>
<text transform="translate(656.36,121.22) scale(1.156,1)" font-size="7.6" fill="#333" class="g">0</text>
<text transform="translate(660.76,121.22) scale(1.508,1)" font-size="7.6" fill="#333" class="g">.</text>
<text transform="translate(663.43,121.22) scale(0.966,1)" font-size="7.6" fill="#333" class="g">4</text>
<line x1="649.8000000000001" y1="154.50" x2="652.4000000000001" y2="154.50" stroke="#4a4a4a" stroke-width="1"/>
<text transform="translate(660.70,156.85) scale(1.018,1)" font-size="7.6" fill="#333" class="g">0</text>
<text transform="translate(664.46,156.85) scale(1.508,1)" font-size="7.6" fill="#333" class="g">.</text>
<text transform="translate(667.32,156.85) scale(1.044,1)" font-size="7.6" fill="#333" class="g">4</text>
<rect x="657.1" y="154.55" width="2.9" height="0.8" fill="#333"/>
<text transform="translate(678.3,41.9) rotate(90)" x="0" y="0" font-size="8.6" textLength="73.7" lengthAdjust="spacingAndGlyphs" fill="#333" class="g">ΔAbsorbance (mOD)</text>
<line x1="79.5" y1="79.7" x2="79.5" y2="156.0" stroke="#111" stroke-width="1" stroke-dasharray="2.3 2.3"/><path d="M78.15,77.7 L79.5,73.8 L80.85,77.7 Z" fill="#111"/>
<text x="84.3" y="97.8" font-size="9.2" fill="#222">IrO</text><text x="96.3" y="100.6" font-size="6.2" fill="#222">2</text>
<line x1="547.4" y1="336.5" x2="547.4" y2="363.0" stroke="#111" stroke-width="1" stroke-dasharray="2.3 2.3"/><path d="M546.05,334.5 L547.4,330.6 L548.75,334.5 Z" fill="#111"/>
<line x1="624.5" y1="334.2" x2="624.5" y2="363.0" stroke="#111" stroke-width="1" stroke-dasharray="2.3 2.3"/><path d="M623.15,332.2 L624.5,328.3 L625.85,332.2 Z" fill="#111"/>
<text x="553.8" y="345.9" font-size="8.2" fill="#222">Ir</text><text x="560.1" y="341.8" font-size="5.2" fill="#222">6+</text>
<text x="610.3" y="347.6" font-size="8.2" fill="#222">H</text><text x="616.9" y="343.4" font-size="5.4" fill="#222">+</text>
</svg>
</body></html>
